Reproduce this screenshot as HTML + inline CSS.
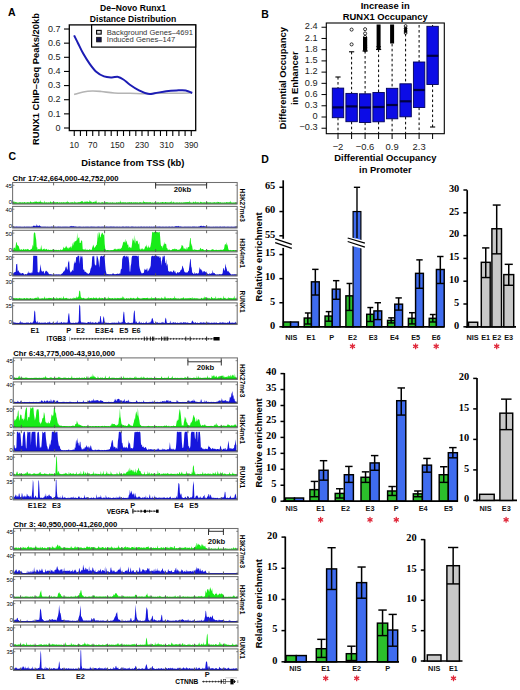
<!DOCTYPE html>
<html><head><meta charset="utf-8"><style>
html,body{margin:0;padding:0;background:#fff;}
svg{display:block;}

</style></head><body>
<svg width="520" height="690" viewBox="0 0 520 690">
<rect width="520" height="690" fill="#fff"/>
<text x="8.00" y="15.98" font-family="Liberation Sans" font-size="10.5" text-anchor="start" fill="#000" font-weight="bold">A</text>
<text x="261.30" y="17.68" font-family="Liberation Sans" font-size="10.5" text-anchor="start" fill="#000" font-weight="bold">B</text>
<text x="8.50" y="160.28" font-family="Liberation Sans" font-size="10.5" text-anchor="start" fill="#000" font-weight="bold">C</text>
<text x="261.30" y="162.58" font-family="Liberation Sans" font-size="10.5" text-anchor="start" fill="#000" font-weight="bold">D</text>
<text x="133.00" y="11.10" font-family="Liberation Sans" font-size="8.6" text-anchor="middle" fill="#000" font-weight="bold">De–Novo Runx1</text>
<text x="133.00" y="21.90" font-family="Liberation Sans" font-size="8.6" text-anchor="middle" fill="#000" font-weight="bold">Distance Distribution</text>
<path d="M74.10,94.60 C75.62,94.17 80.17,92.60 83.20,92.00 C86.23,91.40 89.28,91.08 92.30,91.00 C95.32,90.92 97.63,91.17 101.30,91.50 C104.97,91.83 109.53,92.70 114.30,93.00 C119.07,93.30 124.70,93.17 129.90,93.30 C135.10,93.43 140.73,93.80 145.50,93.80 C150.27,93.80 153.75,93.38 158.50,93.30 C163.25,93.22 168.38,93.35 174.00,93.30 C179.62,93.25 189.17,93.05 192.20,93.00" fill="none" stroke="#b4b4b4" stroke-width="1.6"/>
<path d="M74.10,35.40 C74.75,36.70 76.48,40.17 78.00,43.20 C79.52,46.23 81.25,50.15 83.20,53.60 C85.15,57.05 87.53,60.88 89.70,63.90 C91.87,66.92 93.82,69.62 96.20,71.70 C98.58,73.78 101.42,75.45 104.00,76.40 C106.58,77.35 109.33,77.32 111.70,77.40 C114.07,77.48 116.25,76.55 118.20,76.90 C120.15,77.25 121.45,78.20 123.40,79.50 C125.35,80.80 127.30,82.88 129.90,84.70 C132.50,86.52 135.97,88.88 139.00,90.40 C142.03,91.92 145.50,93.32 148.10,93.80 C150.70,94.28 151.58,93.73 154.60,93.30 C157.62,92.87 162.53,91.68 166.20,91.20 C169.87,90.72 173.35,90.53 176.60,90.40 C179.85,90.27 183.10,89.97 185.70,90.40 C188.30,90.83 191.12,92.57 192.20,93.00" fill="none" stroke="#1c1cb4" stroke-width="2"/>
<rect x="69.30" y="24.90" width="126.40" height="105.70" fill="none" stroke="#000" stroke-width="1.3"/>
<rect x="91.60" y="24.90" width="104.10" height="22.20" fill="#fff" stroke="#000" stroke-width="1.2"/>
<rect x="96.60" y="30.40" width="4.60" height="3.70" fill="#ddd" stroke="#000" stroke-width="1.1"/>
<rect x="96.60" y="37.30" width="4.60" height="4.60" fill="#15154a" stroke="#111" stroke-width="0.8"/>
<text x="106.80" y="35.14" font-family="Liberation Sans" font-size="7.6" text-anchor="start" fill="#333">Background Genes–4691</text>
<text x="106.80" y="42.24" font-family="Liberation Sans" font-size="7.6" text-anchor="start" fill="#333">Induced Genes–147</text>
<line x1="64.00" y1="128.00" x2="69.30" y2="128.00" stroke="#000" stroke-width="1.1"/>
<text x="60.60" y="130.64" font-family="Liberation Sans" font-size="9.0" text-anchor="end" fill="#222">0</text>
<line x1="64.00" y1="113.86" x2="69.30" y2="113.86" stroke="#000" stroke-width="1.1"/>
<text x="60.60" y="116.50" font-family="Liberation Sans" font-size="9.0" text-anchor="end" fill="#222">0.1</text>
<line x1="64.00" y1="99.72" x2="69.30" y2="99.72" stroke="#000" stroke-width="1.1"/>
<text x="60.60" y="102.36" font-family="Liberation Sans" font-size="9.0" text-anchor="end" fill="#222">0.2</text>
<line x1="64.00" y1="85.58" x2="69.30" y2="85.58" stroke="#000" stroke-width="1.1"/>
<text x="60.60" y="88.22" font-family="Liberation Sans" font-size="9.0" text-anchor="end" fill="#222">0.3</text>
<line x1="64.00" y1="71.44" x2="69.30" y2="71.44" stroke="#000" stroke-width="1.1"/>
<text x="60.60" y="74.08" font-family="Liberation Sans" font-size="9.0" text-anchor="end" fill="#222">0.4</text>
<line x1="64.00" y1="57.30" x2="69.30" y2="57.30" stroke="#000" stroke-width="1.1"/>
<text x="60.60" y="59.94" font-family="Liberation Sans" font-size="9.0" text-anchor="end" fill="#222">0.5</text>
<line x1="64.00" y1="43.16" x2="69.30" y2="43.16" stroke="#000" stroke-width="1.1"/>
<text x="60.60" y="45.80" font-family="Liberation Sans" font-size="9.0" text-anchor="end" fill="#222">0.6</text>
<line x1="64.00" y1="29.02" x2="69.30" y2="29.02" stroke="#000" stroke-width="1.1"/>
<text x="60.60" y="31.66" font-family="Liberation Sans" font-size="9.0" text-anchor="end" fill="#222">0.7</text>
<line x1="74.25" y1="130.60" x2="74.25" y2="136.00" stroke="#000" stroke-width="1.1"/>
<line x1="80.41" y1="130.60" x2="80.41" y2="136.00" stroke="#000" stroke-width="1.1"/>
<line x1="86.57" y1="130.60" x2="86.57" y2="136.00" stroke="#000" stroke-width="1.1"/>
<line x1="92.72" y1="130.60" x2="92.72" y2="136.00" stroke="#000" stroke-width="1.1"/>
<line x1="98.88" y1="130.60" x2="98.88" y2="136.00" stroke="#000" stroke-width="1.1"/>
<line x1="105.04" y1="130.60" x2="105.04" y2="136.00" stroke="#000" stroke-width="1.1"/>
<line x1="111.20" y1="130.60" x2="111.20" y2="136.00" stroke="#000" stroke-width="1.1"/>
<line x1="117.36" y1="130.60" x2="117.36" y2="136.00" stroke="#000" stroke-width="1.1"/>
<line x1="123.51" y1="130.60" x2="123.51" y2="136.00" stroke="#000" stroke-width="1.1"/>
<line x1="129.67" y1="130.60" x2="129.67" y2="136.00" stroke="#000" stroke-width="1.1"/>
<line x1="135.83" y1="130.60" x2="135.83" y2="136.00" stroke="#000" stroke-width="1.1"/>
<line x1="141.99" y1="130.60" x2="141.99" y2="136.00" stroke="#000" stroke-width="1.1"/>
<line x1="148.15" y1="130.60" x2="148.15" y2="136.00" stroke="#000" stroke-width="1.1"/>
<line x1="154.30" y1="130.60" x2="154.30" y2="136.00" stroke="#000" stroke-width="1.1"/>
<line x1="160.46" y1="130.60" x2="160.46" y2="136.00" stroke="#000" stroke-width="1.1"/>
<line x1="166.62" y1="130.60" x2="166.62" y2="136.00" stroke="#000" stroke-width="1.1"/>
<line x1="172.78" y1="130.60" x2="172.78" y2="136.00" stroke="#000" stroke-width="1.1"/>
<line x1="178.94" y1="130.60" x2="178.94" y2="136.00" stroke="#000" stroke-width="1.1"/>
<line x1="185.09" y1="130.60" x2="185.09" y2="136.00" stroke="#000" stroke-width="1.1"/>
<line x1="191.25" y1="130.60" x2="191.25" y2="136.00" stroke="#000" stroke-width="1.1"/>
<text x="74.25" y="148.26" font-family="Liberation Sans" font-size="8.5" text-anchor="middle" fill="#222">10</text>
<text x="92.72" y="148.26" font-family="Liberation Sans" font-size="8.5" text-anchor="middle" fill="#222">70</text>
<text x="117.36" y="148.26" font-family="Liberation Sans" font-size="8.5" text-anchor="middle" fill="#222">150</text>
<text x="141.99" y="148.26" font-family="Liberation Sans" font-size="8.5" text-anchor="middle" fill="#222">230</text>
<text x="166.62" y="148.26" font-family="Liberation Sans" font-size="8.5" text-anchor="middle" fill="#222">310</text>
<text x="191.25" y="148.26" font-family="Liberation Sans" font-size="8.5" text-anchor="middle" fill="#222">390</text>
<text x="132.90" y="165.78" font-family="Liberation Sans" font-size="9.4" text-anchor="middle" fill="#000" font-weight="bold">Distance from TSS (kb)</text>
<text x="39.38" y="79.00" font-family="Liberation Sans" font-size="9.4" text-anchor="middle" fill="#000" font-weight="bold" transform="rotate(-90 39.38 79.00)">RUNX1 ChIP–Seq Peaks/20kb</text>
<text x="385.20" y="9.28" font-family="Liberation Sans" font-size="9.4" text-anchor="middle" fill="#000" font-weight="bold">Increase in</text>
<text x="385.30" y="20.08" font-family="Liberation Sans" font-size="9.4" text-anchor="middle" fill="#000" font-weight="bold">RUNX1 Occupancy</text>
<text x="285.68" y="78.20" font-family="Liberation Sans" font-size="9.4" text-anchor="middle" fill="#000" font-weight="bold" transform="rotate(-90 285.68 78.20)">Differential Occupancy</text>
<text x="297.98" y="78.20" font-family="Liberation Sans" font-size="9.4" text-anchor="middle" fill="#000" font-weight="bold" transform="rotate(-90 297.98 78.20)">in Enhancer</text>
<text x="385.40" y="161.18" font-family="Liberation Sans" font-size="9.4" text-anchor="middle" fill="#000" font-weight="bold">Differential Occupancy</text>
<text x="385.40" y="172.58" font-family="Liberation Sans" font-size="9.4" text-anchor="middle" fill="#000" font-weight="bold">in Promoter</text>
<line x1="321.50" y1="27.24" x2="326.50" y2="27.24" stroke="#000" stroke-width="1"/>
<text x="317.60" y="29.45" font-family="Liberation Sans" font-size="9.2" text-anchor="end" fill="#222">2.4</text>
<line x1="321.50" y1="38.46" x2="326.50" y2="38.46" stroke="#000" stroke-width="1"/>
<text x="317.60" y="40.67" font-family="Liberation Sans" font-size="9.2" text-anchor="end" fill="#222">2.1</text>
<line x1="321.50" y1="49.68" x2="326.50" y2="49.68" stroke="#000" stroke-width="1"/>
<text x="317.60" y="51.89" font-family="Liberation Sans" font-size="9.2" text-anchor="end" fill="#222">1.8</text>
<line x1="321.50" y1="60.90" x2="326.50" y2="60.90" stroke="#000" stroke-width="1"/>
<text x="317.60" y="63.11" font-family="Liberation Sans" font-size="9.2" text-anchor="end" fill="#222">1.5</text>
<line x1="321.50" y1="72.12" x2="326.50" y2="72.12" stroke="#000" stroke-width="1"/>
<text x="317.60" y="74.33" font-family="Liberation Sans" font-size="9.2" text-anchor="end" fill="#222">1.2</text>
<line x1="321.50" y1="83.34" x2="326.50" y2="83.34" stroke="#000" stroke-width="1"/>
<text x="317.60" y="85.55" font-family="Liberation Sans" font-size="9.2" text-anchor="end" fill="#222">0.9</text>
<line x1="321.50" y1="94.56" x2="326.50" y2="94.56" stroke="#000" stroke-width="1"/>
<text x="317.60" y="96.77" font-family="Liberation Sans" font-size="9.2" text-anchor="end" fill="#222">0.6</text>
<line x1="321.50" y1="105.78" x2="326.50" y2="105.78" stroke="#000" stroke-width="1"/>
<text x="317.60" y="107.99" font-family="Liberation Sans" font-size="9.2" text-anchor="end" fill="#222">0.3</text>
<line x1="321.50" y1="117.00" x2="326.50" y2="117.00" stroke="#000" stroke-width="1"/>
<text x="317.60" y="119.21" font-family="Liberation Sans" font-size="9.2" text-anchor="end" fill="#222">0</text>
<line x1="321.50" y1="128.22" x2="326.50" y2="128.22" stroke="#000" stroke-width="1"/>
<text x="317.60" y="130.43" font-family="Liberation Sans" font-size="9.2" text-anchor="end" fill="#222">−0.3</text>
<defs><clipPath id="bclip"><rect x="326.3" y="23" width="118" height="110.7"/></clipPath></defs>
<g clip-path="url(#bclip)">
<line x1="338.00" y1="77.00" x2="338.00" y2="88.10" stroke="#000" stroke-width="1.0" stroke-dasharray="2.6,2.4"/>
<line x1="338.00" y1="117.70" x2="338.00" y2="140.00" stroke="#000" stroke-width="1.0" stroke-dasharray="2.6,2.4"/>
<line x1="351.60" y1="51.80" x2="351.60" y2="93.40" stroke="#000" stroke-width="1.0" stroke-dasharray="2.6,2.4"/>
<line x1="351.60" y1="121.70" x2="351.60" y2="140.00" stroke="#000" stroke-width="1.0" stroke-dasharray="2.6,2.4"/>
<line x1="365.10" y1="51.00" x2="365.10" y2="93.80" stroke="#000" stroke-width="1.0" stroke-dasharray="2.6,2.4"/>
<line x1="365.10" y1="122.50" x2="365.10" y2="140.00" stroke="#000" stroke-width="1.0" stroke-dasharray="2.6,2.4"/>
<line x1="378.60" y1="49.50" x2="378.60" y2="92.50" stroke="#000" stroke-width="1.0" stroke-dasharray="2.6,2.4"/>
<line x1="378.60" y1="121.80" x2="378.60" y2="140.00" stroke="#000" stroke-width="1.0" stroke-dasharray="2.6,2.4"/>
<line x1="392.10" y1="43.80" x2="392.10" y2="88.30" stroke="#000" stroke-width="1.0" stroke-dasharray="2.6,2.4"/>
<line x1="392.10" y1="118.80" x2="392.10" y2="140.00" stroke="#000" stroke-width="1.0" stroke-dasharray="2.6,2.4"/>
<line x1="405.60" y1="33.80" x2="405.60" y2="83.80" stroke="#000" stroke-width="1.0" stroke-dasharray="2.6,2.4"/>
<line x1="405.60" y1="116.80" x2="405.60" y2="140.00" stroke="#000" stroke-width="1.0" stroke-dasharray="2.6,2.4"/>
<line x1="419.10" y1="20.00" x2="419.10" y2="62.00" stroke="#000" stroke-width="1.0" stroke-dasharray="2.6,2.4"/>
<line x1="419.10" y1="107.50" x2="419.10" y2="140.00" stroke="#000" stroke-width="1.0" stroke-dasharray="2.6,2.4"/>
<line x1="432.60" y1="20.00" x2="432.60" y2="26.30" stroke="#000" stroke-width="1.0" stroke-dasharray="2.6,2.4"/>
<line x1="432.60" y1="84.50" x2="432.60" y2="127.00" stroke="#000" stroke-width="1.0" stroke-dasharray="2.6,2.4"/>
</g>
<line x1="335.40" y1="77.00" x2="340.60" y2="77.00" stroke="#000" stroke-width="1.1"/>
<line x1="349.00" y1="51.80" x2="354.20" y2="51.80" stroke="#000" stroke-width="1.1"/>
<line x1="362.50" y1="51.00" x2="367.70" y2="51.00" stroke="#000" stroke-width="1.1"/>
<line x1="376.00" y1="49.50" x2="381.20" y2="49.50" stroke="#000" stroke-width="1.1"/>
<line x1="430.00" y1="127.00" x2="435.20" y2="127.00" stroke="#000" stroke-width="1.1"/>
<circle cx="351.60" cy="29.60" r="1.55" fill="none" stroke="#000" stroke-width="0.8"/>
<circle cx="351.60" cy="44.40" r="1.55" fill="none" stroke="#000" stroke-width="0.8"/>
<circle cx="365.10" cy="29.20" r="1.55" fill="none" stroke="#000" stroke-width="0.8"/>
<circle cx="365.10" cy="33.50" r="1.55" fill="none" stroke="#000" stroke-width="0.8"/>
<circle cx="365.10" cy="37.00" r="1.55" fill="none" stroke="#000" stroke-width="0.8"/>
<circle cx="365.10" cy="39.80" r="1.55" fill="none" stroke="#000" stroke-width="0.8"/>
<circle cx="365.10" cy="42.00" r="1.55" fill="none" stroke="#000" stroke-width="0.8"/>
<circle cx="365.10" cy="44.00" r="1.55" fill="none" stroke="#000" stroke-width="0.8"/>
<circle cx="365.10" cy="45.80" r="1.55" fill="none" stroke="#000" stroke-width="0.8"/>
<circle cx="365.10" cy="47.50" r="1.55" fill="none" stroke="#000" stroke-width="0.8"/>
<circle cx="365.10" cy="49.00" r="1.55" fill="none" stroke="#000" stroke-width="0.8"/>
<circle cx="365.10" cy="50.30" r="1.55" fill="none" stroke="#000" stroke-width="0.8"/>
<rect x="363.0" y="37" width="4.2" height="13.5" fill="#000"/>
<rect x="376.6" y="24.5" width="4.0" height="24.5" fill="#000"/>
<path d="M376.2,46 L381,46 L378.6,50.5 Z" fill="#000"/>
<rect x="390.1" y="24.5" width="4.0" height="19" fill="#000"/>
<circle cx="405.60" cy="26.00" r="1.4" fill="none" stroke="#000" stroke-width="0.8"/>
<circle cx="405.60" cy="28.50" r="1.4" fill="none" stroke="#000" stroke-width="0.8"/>
<circle cx="405.60" cy="31.00" r="1.4" fill="none" stroke="#000" stroke-width="0.8"/>
<circle cx="405.60" cy="33.00" r="1.4" fill="none" stroke="#000" stroke-width="0.8"/>
<rect x="404.2" y="27.5" width="2.8" height="5" fill="#000"/>
<rect x="332.30" y="88.10" width="11.40" height="29.60" fill="#0c0ce6" stroke="#00005a" stroke-width="0.9"/>
<line x1="332.30" y1="107.40" x2="343.70" y2="107.40" stroke="#000044" stroke-width="2.2"/>
<rect x="345.90" y="93.40" width="11.40" height="28.30" fill="#0c0ce6" stroke="#00005a" stroke-width="0.9"/>
<line x1="345.90" y1="106.40" x2="357.30" y2="106.40" stroke="#000044" stroke-width="2.2"/>
<rect x="359.40" y="93.80" width="11.40" height="28.70" fill="#0c0ce6" stroke="#00005a" stroke-width="0.9"/>
<line x1="359.40" y1="107.50" x2="370.80" y2="107.50" stroke="#000044" stroke-width="2.2"/>
<rect x="372.90" y="92.50" width="11.40" height="29.30" fill="#0c0ce6" stroke="#00005a" stroke-width="0.9"/>
<line x1="372.90" y1="107.00" x2="384.30" y2="107.00" stroke="#000044" stroke-width="2.2"/>
<rect x="386.40" y="88.30" width="11.40" height="30.50" fill="#0c0ce6" stroke="#00005a" stroke-width="0.9"/>
<line x1="386.40" y1="105.00" x2="397.80" y2="105.00" stroke="#000044" stroke-width="2.2"/>
<rect x="399.90" y="83.80" width="11.40" height="33.00" fill="#0c0ce6" stroke="#00005a" stroke-width="0.9"/>
<line x1="399.90" y1="101.30" x2="411.30" y2="101.30" stroke="#000044" stroke-width="2.2"/>
<rect x="413.40" y="62.00" width="11.40" height="45.50" fill="#0c0ce6" stroke="#00005a" stroke-width="0.9"/>
<line x1="413.40" y1="90.00" x2="424.80" y2="90.00" stroke="#000044" stroke-width="2.2"/>
<rect x="426.90" y="26.30" width="11.40" height="58.20" fill="#0c0ce6" stroke="#00005a" stroke-width="0.9"/>
<line x1="426.90" y1="55.80" x2="438.30" y2="55.80" stroke="#000044" stroke-width="2.2"/>
<rect x="326.30" y="23.00" width="118.00" height="110.70" fill="none" stroke="#000" stroke-width="1.1"/>
<line x1="338.00" y1="133.70" x2="338.00" y2="139.00" stroke="#000" stroke-width="1"/>
<line x1="351.60" y1="133.70" x2="351.60" y2="139.00" stroke="#000" stroke-width="1"/>
<line x1="365.10" y1="133.70" x2="365.10" y2="139.00" stroke="#000" stroke-width="1"/>
<line x1="378.60" y1="133.70" x2="378.60" y2="139.00" stroke="#000" stroke-width="1"/>
<line x1="392.10" y1="133.70" x2="392.10" y2="139.00" stroke="#000" stroke-width="1"/>
<line x1="405.60" y1="133.70" x2="405.60" y2="139.00" stroke="#000" stroke-width="1"/>
<line x1="419.10" y1="133.70" x2="419.10" y2="139.00" stroke="#000" stroke-width="1"/>
<line x1="432.60" y1="133.70" x2="432.60" y2="139.00" stroke="#000" stroke-width="1"/>
<text x="338.00" y="149.68" font-family="Liberation Sans" font-size="9.4" text-anchor="middle" fill="#222">−2</text>
<text x="365.10" y="149.68" font-family="Liberation Sans" font-size="9.4" text-anchor="middle" fill="#222">−0.6</text>
<text x="392.10" y="149.68" font-family="Liberation Sans" font-size="9.4" text-anchor="middle" fill="#222">0.9</text>
<text x="419.10" y="149.68" font-family="Liberation Sans" font-size="9.4" text-anchor="middle" fill="#222">2.3</text>
<text x="12.60" y="180.80" font-family="Liberation Sans" font-size="7.7" text-anchor="start" fill="#000" font-weight="bold">Chr 17:42,664,000-42,752,000</text>
<path d="M13.2,203.3 L13.2,202.6 L13.7,201.0 L14.2,201.3 L14.7,202.9 L15.2,201.8 L15.7,202.2 L16.2,202.7 L16.7,202.1 L17.2,202.6 L17.7,202.9 L18.2,202.7 L18.7,202.8 L19.2,202.2 L19.7,202.4 L20.2,202.6 L20.7,202.3 L21.2,202.4 L21.7,202.7 L22.2,202.5 L22.7,202.3 L23.2,202.7 L23.7,202.5 L24.2,202.3 L24.7,202.1 L25.2,202.6 L25.7,202.8 L26.2,202.9 L26.7,202.3 L27.2,202.2 L27.7,202.3 L28.2,202.4 L28.7,202.2 L29.2,202.4 L29.7,202.7 L30.2,201.8 L30.7,201.3 L31.2,201.9 L31.7,202.5 L32.2,202.2 L32.7,202.4 L33.2,202.3 L33.7,201.9 L34.2,202.4 L34.7,201.6 L35.2,201.2 L35.7,202.1 L36.2,201.9 L36.7,200.9 L37.2,202.2 L37.7,202.1 L38.2,201.6 L38.7,202.5 L39.2,202.0 L39.7,201.4 L40.2,202.2 L40.7,200.0 L41.2,202.2 L41.7,202.2 L42.2,202.6 L42.7,202.2 L43.2,202.7 L43.7,202.6 L44.2,202.8 L44.7,200.4 L45.2,202.4 L45.7,202.7 L46.2,202.6 L46.7,202.2 L47.2,202.5 L47.7,202.8 L48.2,202.6 L48.7,202.2 L49.2,202.9 L49.7,202.5 L50.2,201.1 L50.7,202.1 L51.2,202.3 L51.7,202.6 L52.2,202.3 L52.7,202.3 L53.2,202.7 L53.7,202.1 L54.2,202.2 L54.7,202.3 L55.2,202.5 L55.7,202.2 L56.2,202.7 L56.7,202.1 L57.2,202.1 L57.7,202.1 L58.2,202.7 L58.7,202.7 L59.2,202.4 L59.7,202.2 L60.2,202.4 L60.7,202.8 L61.2,202.2 L61.7,202.3 L62.2,202.8 L62.7,202.6 L63.2,202.1 L63.7,202.6 L64.2,202.3 L64.7,202.8 L65.2,202.2 L65.7,202.8 L66.2,202.1 L66.7,202.6 L67.2,200.4 L67.7,202.4 L68.2,202.1 L68.7,202.2 L69.2,202.7 L69.7,202.7 L70.2,202.4 L70.7,202.6 L71.2,202.2 L71.7,202.5 L72.2,202.2 L72.7,202.2 L73.2,202.5 L73.7,202.9 L74.2,200.7 L74.7,202.8 L75.2,202.3 L75.7,202.6 L76.2,202.5 L76.7,202.8 L77.2,202.7 L77.7,202.3 L78.2,202.4 L78.7,202.1 L79.2,202.3 L79.7,202.2 L80.2,202.1 L80.7,201.8 L81.2,201.4 L81.7,201.0 L82.2,201.6 L82.7,201.1 L83.2,202.3 L83.7,202.4 L84.2,202.4 L84.7,201.2 L85.2,202.3 L85.7,201.4 L86.2,201.1 L86.7,202.2 L87.2,201.9 L87.7,200.9 L88.2,202.3 L88.7,201.7 L89.2,202.2 L89.7,199.9 L90.2,201.0 L90.7,201.5 L91.2,202.4 L91.7,201.2 L92.2,202.4 L92.7,202.5 L93.2,202.1 L93.7,201.9 L94.2,201.3 L94.7,202.5 L95.2,202.1 L95.7,201.0 L96.2,200.2 L96.7,202.4 L97.2,202.8 L97.7,202.9 L98.2,202.5 L98.7,202.5 L99.2,202.7 L99.7,202.5 L100.2,202.8 L100.7,202.9 L101.2,202.7 L101.7,202.3 L102.2,202.5 L102.7,202.0 L103.2,202.9 L103.7,202.5 L104.2,202.5 L104.7,202.8 L105.2,202.6 L105.7,202.2 L106.2,202.5 L106.7,202.1 L107.2,202.2 L107.7,202.4 L108.2,202.3 L108.7,202.9 L109.2,202.7 L109.7,202.8 L110.2,202.2 L110.7,202.7 L111.2,202.7 L111.7,202.8 L112.2,202.7 L112.7,202.1 L113.2,202.7 L113.7,202.7 L114.2,202.9 L114.7,202.5 L115.2,202.7 L115.7,202.9 L116.2,202.8 L116.7,202.1 L117.2,202.7 L117.7,202.5 L118.2,202.4 L118.7,202.2 L119.2,202.6 L119.7,202.8 L120.2,200.3 L120.7,202.2 L121.2,202.3 L121.7,202.8 L122.2,202.5 L122.7,202.2 L123.2,202.4 L123.7,202.3 L124.2,202.4 L124.7,202.6 L125.2,202.2 L125.7,202.4 L126.2,202.4 L126.7,202.9 L127.2,202.3 L127.7,202.5 L128.2,202.9 L128.7,202.0 L129.2,202.3 L129.7,202.3 L130.2,202.5 L130.7,202.5 L131.2,202.3 L131.7,202.0 L132.2,202.7 L132.7,202.7 L133.2,202.2 L133.7,202.4 L134.2,202.4 L134.7,202.5 L135.2,202.5 L135.7,202.2 L136.2,202.1 L136.7,202.9 L137.2,202.2 L137.7,202.5 L138.2,202.7 L138.7,202.7 L139.2,202.8 L139.7,202.1 L140.2,202.2 L140.7,202.2 L141.2,202.7 L141.7,202.5 L142.2,202.5 L142.7,202.7 L143.2,202.6 L143.7,200.3 L144.2,202.2 L144.7,202.1 L145.2,202.2 L145.7,202.6 L146.2,202.1 L146.7,202.6 L147.2,202.4 L147.7,202.2 L148.2,202.1 L148.7,202.7 L149.2,202.8 L149.7,202.1 L150.2,202.2 L150.7,202.2 L151.2,202.5 L151.7,202.9 L152.2,202.5 L152.7,202.4 L153.2,202.9 L153.7,202.8 L154.2,202.6 L154.7,202.3 L155.2,202.7 L155.7,202.7 L156.2,202.6 L156.7,202.8 L157.2,202.2 L157.7,202.7 L158.2,202.1 L158.7,202.8 L159.2,202.8 L159.7,202.8 L160.2,202.7 L160.7,202.2 L161.2,202.6 L161.7,202.5 L162.2,201.9 L162.7,202.1 L163.2,202.5 L163.7,202.2 L164.2,202.7 L164.7,202.6 L165.2,202.1 L165.7,202.1 L166.2,202.3 L166.7,202.5 L167.2,202.9 L167.7,202.1 L168.2,202.2 L168.7,202.7 L169.2,202.8 L169.7,202.3 L170.2,202.3 L170.7,202.3 L171.2,200.5 L171.7,202.7 L172.2,202.4 L172.7,202.8 L173.2,202.4 L173.7,201.5 L174.2,202.4 L174.7,202.7 L175.2,202.9 L175.7,202.5 L176.2,202.4 L176.7,202.5 L177.2,202.7 L177.7,202.3 L178.2,202.9 L178.7,202.4 L179.2,202.7 L179.7,202.1 L180.2,202.9 L180.7,202.6 L181.2,202.7 L181.7,202.3 L182.2,202.7 L182.7,202.7 L183.2,202.7 L183.7,202.3 L184.2,202.1 L184.7,202.8 L185.2,202.6 L185.7,202.1 L186.2,202.6 L186.7,202.1 L187.2,201.9 L187.7,202.2 L188.2,202.3 L188.7,202.1 L189.2,202.8 L189.7,200.6 L190.2,202.6 L190.7,202.6 L191.2,202.9 L191.7,202.6 L192.2,202.8 L192.7,202.7 L193.2,202.2 L193.7,201.4 L194.2,202.6 L194.7,202.8 L195.2,201.1 L195.7,202.2 L196.2,202.7 L196.7,202.2 L197.2,202.3 L197.7,202.6 L198.2,202.1 L198.7,202.7 L199.2,202.7 L199.7,202.9 L200.2,202.2 L200.7,201.5 L201.2,202.5 L201.7,202.1 L202.2,202.7 L202.7,202.5 L203.2,202.8 L203.7,202.3 L204.2,202.3 L204.7,202.6 L205.2,202.6 L205.7,202.8 L206.2,202.3 L206.7,201.5 L207.2,202.6 L207.7,202.2 L208.2,202.5 L208.7,202.5 L209.2,202.5 L209.7,202.6 L210.2,202.4 L210.7,202.2 L211.2,202.8 L211.7,202.7 L212.2,202.6 L212.7,202.7 L213.2,202.7 L213.7,202.2 L214.2,202.6 L214.7,202.1 L215.2,202.7 L215.7,202.4 L216.2,202.8 L216.7,202.2 L217.2,201.4 L217.7,202.8 L218.2,202.1 L218.7,202.1 L219.2,202.2 L219.7,202.7 L220.2,202.1 L220.7,202.4 L221.2,202.7 L221.7,202.8 L222.2,202.7 L222.7,202.4 L223.2,202.9 L223.7,202.4 L224.2,202.7 L224.7,202.3 L225.2,202.9 L225.7,202.6 L226.2,202.0 L226.7,202.3 L227.2,202.7 L227.7,202.1 L228.2,202.4 L228.7,202.6 L229.2,202.1 L229.7,202.7 L230.2,200.5 L230.7,202.6 L231.2,202.6 L231.7,202.5 L232.2,202.9 L232.7,202.4 L233.2,202.8 L233.7,202.6 L234.2,202.8 L234.7,202.5 L235.2,202.8 L235.7,202.2 L236.2,202.7 L236.2,203.3 Z" fill="#18ec18" stroke="none"/>
<line x1="12.60" y1="203.30" x2="237.20" y2="203.30" stroke="#0a9a0a" stroke-width="1.0"/>
<rect x="12.60" y="182.50" width="224.60" height="21.60" fill="none" stroke="#707070" stroke-width="1.05"/>
<line x1="53.60" y1="182.50" x2="53.60" y2="185.40" stroke="#555" stroke-width="0.9"/>
<line x1="53.60" y1="204.10" x2="53.60" y2="201.20" stroke="#555" stroke-width="0.9"/>
<line x1="104.60" y1="182.50" x2="104.60" y2="185.40" stroke="#555" stroke-width="0.9"/>
<line x1="104.60" y1="204.10" x2="104.60" y2="201.20" stroke="#555" stroke-width="0.9"/>
<line x1="155.60" y1="182.50" x2="155.60" y2="185.40" stroke="#555" stroke-width="0.9"/>
<line x1="155.60" y1="204.10" x2="155.60" y2="201.20" stroke="#555" stroke-width="0.9"/>
<line x1="206.60" y1="182.50" x2="206.60" y2="185.40" stroke="#555" stroke-width="0.9"/>
<line x1="206.60" y1="204.10" x2="206.60" y2="201.20" stroke="#555" stroke-width="0.9"/>
<line x1="12.60" y1="185.30" x2="14.40" y2="185.30" stroke="#555" stroke-width="0.7"/>
<line x1="235.40" y1="185.30" x2="237.20" y2="185.30" stroke="#555" stroke-width="0.7"/>
<line x1="12.60" y1="202.80" x2="14.40" y2="202.80" stroke="#555" stroke-width="0.7"/>
<line x1="235.40" y1="202.80" x2="237.20" y2="202.80" stroke="#555" stroke-width="0.7"/>
<text x="12.00" y="188.09" font-family="Liberation Sans" font-size="5.8" text-anchor="end" fill="#000">45</text>
<text x="12.00" y="204.09" font-family="Liberation Sans" font-size="5.8" text-anchor="end" fill="#000">0</text>
<path d="M13.2,227.2 L13.2,226.7 L13.7,226.7 L14.2,226.9 L14.7,227.0 L15.2,226.7 L15.7,226.9 L16.2,226.7 L16.7,226.8 L17.2,226.8 L17.7,227.0 L18.2,226.8 L18.7,227.0 L19.2,226.9 L19.7,226.8 L20.2,226.8 L20.7,227.0 L21.2,227.0 L21.7,226.9 L22.2,226.9 L22.7,226.9 L23.2,227.0 L23.7,227.0 L24.2,226.8 L24.7,226.7 L25.2,227.0 L25.7,226.9 L26.2,226.8 L26.7,227.0 L27.2,226.8 L27.7,227.0 L28.2,226.8 L28.7,226.9 L29.2,226.8 L29.7,226.9 L30.2,226.9 L30.7,226.9 L31.2,226.9 L31.7,226.8 L32.2,226.7 L32.7,226.8 L33.2,226.1 L33.7,225.4 L34.2,225.7 L34.7,225.7 L35.2,226.2 L35.7,226.3 L36.2,224.0 L36.7,226.3 L37.2,225.1 L37.7,226.3 L38.2,225.8 L38.7,226.2 L39.2,225.0 L39.7,225.7 L40.2,226.0 L40.7,226.5 L41.2,227.0 L41.7,226.8 L42.2,226.7 L42.7,227.0 L43.2,226.9 L43.7,226.8 L44.2,227.0 L44.7,226.7 L45.2,227.0 L45.7,226.8 L46.2,227.0 L46.7,226.9 L47.2,226.7 L47.7,227.0 L48.2,227.0 L48.7,226.9 L49.2,226.9 L49.7,227.0 L50.2,227.0 L50.7,227.0 L51.2,226.7 L51.7,226.8 L52.2,226.7 L52.7,227.0 L53.2,226.8 L53.7,227.0 L54.2,226.9 L54.7,226.8 L55.2,226.9 L55.7,226.8 L56.2,226.9 L56.7,226.9 L57.2,226.8 L57.7,227.0 L58.2,226.7 L58.7,226.8 L59.2,226.9 L59.7,226.8 L60.2,227.0 L60.7,226.7 L61.2,226.9 L61.7,226.9 L62.2,226.8 L62.7,226.9 L63.2,227.0 L63.7,226.8 L64.2,227.0 L64.7,226.8 L65.2,227.0 L65.7,226.8 L66.2,226.7 L66.7,226.9 L67.2,226.8 L67.7,226.9 L68.2,227.0 L68.7,227.0 L69.2,226.9 L69.7,226.7 L70.2,226.2 L70.7,226.6 L71.2,225.8 L71.7,226.6 L72.2,226.5 L72.7,226.2 L73.2,226.1 L73.7,226.6 L74.2,226.6 L74.7,226.8 L75.2,226.4 L75.7,226.8 L76.2,227.0 L76.7,226.8 L77.2,226.9 L77.7,226.9 L78.2,226.8 L78.7,226.9 L79.2,226.7 L79.7,226.8 L80.2,227.0 L80.7,226.7 L81.2,227.0 L81.7,226.9 L82.2,226.9 L82.7,227.0 L83.2,227.0 L83.7,226.8 L84.2,227.0 L84.7,226.9 L85.2,226.7 L85.7,227.0 L86.2,227.0 L86.7,226.8 L87.2,226.9 L87.7,226.8 L88.2,226.8 L88.7,227.0 L89.2,226.9 L89.7,226.9 L90.2,227.0 L90.7,226.8 L91.2,226.8 L91.7,226.8 L92.2,227.0 L92.7,226.8 L93.2,226.8 L93.7,226.9 L94.2,226.8 L94.7,226.9 L95.2,227.0 L95.7,227.0 L96.2,227.0 L96.7,227.0 L97.2,226.9 L97.7,226.8 L98.2,226.8 L98.7,226.8 L99.2,226.8 L99.7,227.0 L100.2,226.9 L100.7,226.9 L101.2,226.8 L101.7,226.9 L102.2,227.0 L102.7,226.8 L103.2,226.7 L103.7,227.0 L104.2,226.8 L104.7,227.0 L105.2,227.0 L105.7,227.0 L106.2,226.8 L106.7,226.7 L107.2,226.8 L107.7,226.9 L108.2,226.8 L108.7,226.9 L109.2,227.0 L109.7,226.7 L110.2,226.8 L110.7,226.8 L111.2,226.8 L111.7,226.7 L112.2,226.9 L112.7,226.8 L113.2,226.8 L113.7,226.8 L114.2,226.9 L114.7,226.8 L115.2,226.9 L115.7,226.9 L116.2,227.0 L116.7,226.8 L117.2,227.0 L117.7,226.7 L118.2,227.0 L118.7,227.0 L119.2,227.0 L119.7,226.7 L120.2,226.9 L120.7,227.0 L121.2,227.0 L121.7,227.0 L122.2,226.8 L122.7,226.8 L123.2,226.8 L123.7,226.8 L124.2,227.0 L124.7,226.9 L125.2,226.9 L125.7,226.8 L126.2,226.8 L126.7,226.8 L127.2,227.0 L127.7,226.8 L128.2,226.7 L128.7,226.7 L129.2,227.0 L129.7,227.0 L130.2,227.0 L130.7,227.0 L131.2,226.8 L131.7,226.8 L132.2,226.8 L132.7,226.8 L133.2,226.8 L133.7,227.0 L134.2,227.0 L134.7,227.0 L135.2,226.8 L135.7,227.0 L136.2,226.9 L136.7,226.9 L137.2,227.0 L137.7,227.0 L138.2,227.0 L138.7,226.8 L139.2,226.9 L139.7,226.9 L140.2,226.7 L140.7,226.9 L141.2,226.8 L141.7,226.8 L142.2,227.0 L142.7,226.9 L143.2,226.9 L143.7,226.8 L144.2,226.9 L144.7,226.8 L145.2,226.9 L145.7,227.0 L146.2,226.8 L146.7,227.0 L147.2,226.8 L147.7,227.0 L148.2,227.0 L148.7,227.0 L149.2,226.8 L149.7,226.7 L150.2,227.0 L150.7,226.9 L151.2,226.9 L151.7,226.8 L152.2,227.0 L152.7,226.9 L153.2,226.9 L153.7,226.8 L154.2,227.0 L154.7,226.7 L155.2,227.0 L155.7,227.0 L156.2,226.8 L156.7,226.9 L157.2,227.0 L157.7,226.8 L158.2,227.0 L158.7,226.8 L159.2,226.8 L159.7,226.8 L160.2,226.8 L160.7,226.9 L161.2,226.9 L161.7,226.9 L162.2,226.8 L162.7,227.0 L163.2,226.8 L163.7,227.0 L164.2,227.0 L164.7,227.0 L165.2,226.7 L165.7,226.9 L166.2,226.9 L166.7,226.8 L167.2,227.0 L167.7,226.9 L168.2,226.9 L168.7,226.8 L169.2,226.8 L169.7,226.8 L170.2,226.9 L170.7,226.9 L171.2,227.0 L171.7,226.8 L172.2,226.8 L172.7,226.8 L173.2,227.0 L173.7,226.9 L174.2,226.7 L174.7,226.9 L175.2,226.2 L175.7,226.6 L176.2,226.1 L176.7,226.6 L177.2,226.5 L177.7,226.2 L178.2,226.4 L178.7,225.8 L179.2,226.7 L179.7,226.8 L180.2,226.4 L180.7,226.7 L181.2,227.0 L181.7,226.8 L182.2,227.0 L182.7,227.0 L183.2,226.9 L183.7,227.0 L184.2,226.9 L184.7,226.8 L185.2,226.8 L185.7,226.9 L186.2,226.8 L186.7,226.9 L187.2,227.0 L187.7,226.8 L188.2,226.9 L188.7,226.8 L189.2,226.7 L189.7,226.9 L190.2,226.9 L190.7,226.8 L191.2,226.9 L191.7,227.0 L192.2,226.8 L192.7,226.8 L193.2,226.8 L193.7,226.8 L194.2,226.8 L194.7,226.8 L195.2,226.8 L195.7,226.9 L196.2,226.9 L196.7,226.8 L197.2,227.0 L197.7,226.9 L198.2,226.8 L198.7,226.8 L199.2,226.7 L199.7,226.6 L200.2,226.1 L200.7,225.8 L201.2,226.4 L201.7,225.6 L202.2,225.9 L202.7,226.5 L203.2,226.4 L203.7,225.4 L204.2,226.5 L204.7,226.2 L205.2,226.5 L205.7,226.6 L206.2,226.9 L206.7,226.7 L207.2,227.0 L207.7,226.8 L208.2,226.9 L208.7,226.8 L209.2,227.0 L209.7,226.7 L210.2,226.9 L210.7,227.0 L211.2,227.0 L211.7,226.9 L212.2,227.0 L212.7,226.9 L213.2,226.9 L213.7,226.8 L214.2,226.9 L214.7,227.0 L215.2,227.0 L215.7,226.8 L216.2,226.7 L216.7,226.9 L217.2,227.0 L217.7,226.8 L218.2,226.9 L218.7,227.0 L219.2,227.0 L219.7,226.8 L220.2,226.8 L220.7,226.8 L221.2,226.9 L221.7,226.9 L222.2,227.0 L222.7,226.7 L223.2,226.9 L223.7,226.8 L224.2,226.8 L224.7,226.8 L225.2,226.9 L225.7,226.9 L226.2,226.9 L226.7,227.0 L227.2,226.8 L227.7,226.9 L228.2,226.8 L228.7,227.0 L229.2,226.9 L229.7,227.0 L230.2,226.9 L230.7,227.0 L231.2,227.0 L231.7,226.8 L232.2,227.0 L232.7,227.0 L233.2,226.9 L233.7,226.9 L234.2,226.9 L234.7,226.8 L235.2,226.8 L235.7,226.9 L236.2,226.7 L236.2,227.2 Z" fill="#1616dc" stroke="none"/>
<line x1="12.60" y1="227.20" x2="237.20" y2="227.20" stroke="#0a0a90" stroke-width="1.0"/>
<rect x="12.60" y="206.40" width="224.60" height="21.60" fill="none" stroke="#707070" stroke-width="1.05"/>
<line x1="53.60" y1="206.40" x2="53.60" y2="209.30" stroke="#555" stroke-width="0.9"/>
<line x1="53.60" y1="228.00" x2="53.60" y2="225.10" stroke="#555" stroke-width="0.9"/>
<line x1="104.60" y1="206.40" x2="104.60" y2="209.30" stroke="#555" stroke-width="0.9"/>
<line x1="104.60" y1="228.00" x2="104.60" y2="225.10" stroke="#555" stroke-width="0.9"/>
<line x1="155.60" y1="206.40" x2="155.60" y2="209.30" stroke="#555" stroke-width="0.9"/>
<line x1="155.60" y1="228.00" x2="155.60" y2="225.10" stroke="#555" stroke-width="0.9"/>
<line x1="206.60" y1="206.40" x2="206.60" y2="209.30" stroke="#555" stroke-width="0.9"/>
<line x1="206.60" y1="228.00" x2="206.60" y2="225.10" stroke="#555" stroke-width="0.9"/>
<line x1="12.60" y1="209.20" x2="14.40" y2="209.20" stroke="#555" stroke-width="0.7"/>
<line x1="235.40" y1="209.20" x2="237.20" y2="209.20" stroke="#555" stroke-width="0.7"/>
<line x1="12.60" y1="226.70" x2="14.40" y2="226.70" stroke="#555" stroke-width="0.7"/>
<line x1="235.40" y1="226.70" x2="237.20" y2="226.70" stroke="#555" stroke-width="0.7"/>
<text x="12.00" y="211.99" font-family="Liberation Sans" font-size="5.8" text-anchor="end" fill="#000">40</text>
<text x="12.00" y="227.99" font-family="Liberation Sans" font-size="5.8" text-anchor="end" fill="#000">0</text>
<path d="M13.2,251.1 L13.2,249.3 L13.7,247.7 L14.2,247.8 L14.7,247.6 L15.2,249.1 L15.7,245.8 L16.2,242.4 L16.7,242.1 L17.2,245.3 L17.7,245.1 L18.2,246.4 L18.7,245.6 L19.2,248.1 L19.7,249.6 L20.2,249.3 L20.7,249.9 L21.2,249.4 L21.7,248.9 L22.2,249.8 L22.7,250.0 L23.2,249.1 L23.7,248.8 L24.2,249.9 L24.7,249.2 L25.2,249.5 L25.7,249.0 L26.2,249.4 L26.7,249.6 L27.2,249.3 L27.7,248.8 L28.2,249.5 L28.7,249.2 L29.2,249.9 L29.7,250.1 L30.2,249.9 L30.7,249.2 L31.2,248.8 L31.7,249.2 L32.2,247.5 L32.7,244.5 L33.2,246.7 L33.7,234.5 L34.2,231.7 L34.7,233.0 L35.2,233.1 L35.7,236.9 L36.2,239.8 L36.7,247.3 L37.2,247.3 L37.7,249.9 L38.2,248.7 L38.7,249.3 L39.2,249.5 L39.7,248.8 L40.2,249.5 L40.7,248.3 L41.2,244.8 L41.7,248.6 L42.2,249.8 L42.7,249.4 L43.2,248.8 L43.7,249.1 L44.2,249.5 L44.7,248.3 L45.2,249.2 L45.7,249.7 L46.2,248.8 L46.7,249.1 L47.2,249.6 L47.7,250.2 L48.2,249.6 L48.7,249.5 L49.2,250.0 L49.7,250.0 L50.2,249.6 L50.7,250.3 L51.2,249.8 L51.7,250.3 L52.2,249.6 L52.7,249.6 L53.2,249.6 L53.7,249.9 L54.2,249.7 L54.7,249.9 L55.2,250.2 L55.7,249.7 L56.2,249.7 L56.7,249.9 L57.2,250.0 L57.7,250.2 L58.2,249.8 L58.7,250.1 L59.2,250.3 L59.7,250.3 L60.2,250.2 L60.7,249.0 L61.2,249.8 L61.7,250.2 L62.2,249.7 L62.7,249.4 L63.2,248.2 L63.7,246.6 L64.2,248.6 L64.7,247.7 L65.2,248.0 L65.7,246.2 L66.2,247.4 L66.7,245.6 L67.2,247.6 L67.7,248.5 L68.2,247.2 L68.7,249.0 L69.2,247.5 L69.7,247.5 L70.2,247.5 L70.7,246.5 L71.2,246.0 L71.7,248.6 L72.2,245.9 L72.7,242.5 L73.2,245.7 L73.7,242.6 L74.2,240.9 L74.7,243.1 L75.2,240.7 L75.7,241.6 L76.2,240.5 L76.7,240.5 L77.2,232.6 L77.7,240.1 L78.2,237.9 L78.7,237.7 L79.2,237.0 L79.7,243.0 L80.2,243.1 L80.7,242.8 L81.2,239.9 L81.7,240.7 L82.2,241.2 L82.7,249.0 L83.2,249.1 L83.7,249.8 L84.2,249.6 L84.7,249.2 L85.2,250.4 L85.7,248.3 L86.2,249.6 L86.7,250.2 L87.2,249.5 L87.7,249.8 L88.2,249.9 L88.7,250.1 L89.2,249.6 L89.7,249.3 L90.2,249.4 L90.7,250.1 L91.2,249.7 L91.7,249.9 L92.2,247.7 L92.7,246.5 L93.2,244.4 L93.7,246.0 L94.2,247.6 L94.7,247.9 L95.2,246.5 L95.7,246.6 L96.2,244.9 L96.7,245.0 L97.2,241.1 L97.7,234.1 L98.2,231.7 L98.7,238.5 L99.2,231.7 L99.7,233.5 L100.2,237.2 L100.7,237.2 L101.2,232.5 L101.7,235.1 L102.2,233.0 L102.7,232.6 L103.2,235.3 L103.7,234.7 L104.2,232.7 L104.7,243.7 L105.2,248.5 L105.7,249.7 L106.2,250.2 L106.7,250.3 L107.2,249.9 L107.7,250.1 L108.2,249.9 L108.7,250.2 L109.2,250.4 L109.7,250.2 L110.2,250.4 L110.7,250.0 L111.2,250.3 L111.7,250.0 L112.2,250.2 L112.7,249.9 L113.2,250.1 L113.7,249.5 L114.2,249.3 L114.7,248.7 L115.2,248.6 L115.7,249.3 L116.2,249.7 L116.7,249.0 L117.2,249.5 L117.7,248.7 L118.2,248.8 L118.7,249.0 L119.2,248.3 L119.7,249.5 L120.2,248.7 L120.7,248.7 L121.2,248.3 L121.7,247.7 L122.2,246.0 L122.7,244.5 L123.2,241.6 L123.7,242.4 L124.2,241.6 L124.7,242.8 L125.2,238.6 L125.7,243.2 L126.2,240.4 L126.7,241.8 L127.2,243.4 L127.7,245.2 L128.2,244.2 L128.7,248.0 L129.2,247.4 L129.7,246.6 L130.2,247.4 L130.7,247.7 L131.2,248.2 L131.7,246.5 L132.2,242.3 L132.7,238.0 L133.2,240.7 L133.7,240.3 L134.2,234.9 L134.7,243.2 L135.2,237.9 L135.7,244.0 L136.2,240.4 L136.7,241.2 L137.2,240.5 L137.7,241.2 L138.2,243.9 L138.7,244.4 L139.2,241.6 L139.7,249.1 L140.2,248.5 L140.7,250.0 L141.2,249.3 L141.7,248.3 L142.2,249.6 L142.7,248.1 L143.2,249.3 L143.7,249.4 L144.2,249.2 L144.7,248.0 L145.2,246.7 L145.7,245.9 L146.2,247.0 L146.7,244.3 L147.2,247.3 L147.7,248.5 L148.2,245.0 L148.7,247.2 L149.2,247.7 L149.7,247.5 L150.2,247.2 L150.7,244.9 L151.2,242.3 L151.7,237.4 L152.2,231.7 L152.7,232.0 L153.2,233.0 L153.7,231.7 L154.2,232.2 L154.7,231.7 L155.2,231.7 L155.7,231.7 L156.2,232.3 L156.7,231.7 L157.2,232.5 L157.7,231.7 L158.2,233.0 L158.7,231.7 L159.2,231.7 L159.7,232.1 L160.2,237.6 L160.7,243.9 L161.2,246.5 L161.7,246.1 L162.2,245.8 L162.7,248.4 L163.2,245.7 L163.7,244.7 L164.2,241.8 L164.7,244.4 L165.2,243.4 L165.7,243.9 L166.2,244.3 L166.7,248.1 L167.2,248.1 L167.7,249.4 L168.2,250.2 L168.7,249.5 L169.2,249.6 L169.7,249.7 L170.2,250.1 L170.7,250.4 L171.2,250.2 L171.7,250.0 L172.2,249.1 L172.7,249.3 L173.2,249.2 L173.7,249.1 L174.2,249.3 L174.7,248.3 L175.2,249.5 L175.7,248.8 L176.2,249.1 L176.7,248.9 L177.2,250.3 L177.7,249.5 L178.2,249.8 L178.7,249.7 L179.2,249.4 L179.7,249.6 L180.2,249.0 L180.7,248.3 L181.2,247.3 L181.7,245.1 L182.2,245.0 L182.7,246.0 L183.2,246.2 L183.7,248.8 L184.2,248.5 L184.7,248.5 L185.2,248.4 L185.7,249.2 L186.2,249.7 L186.7,247.2 L187.2,247.2 L187.7,249.6 L188.2,246.7 L188.7,247.2 L189.2,246.7 L189.7,241.7 L190.2,238.1 L190.7,238.1 L191.2,246.4 L191.7,243.1 L192.2,246.5 L192.7,249.7 L193.2,249.6 L193.7,250.0 L194.2,250.6 L194.7,248.7 L195.2,249.5 L195.7,250.0 L196.2,249.9 L196.7,249.8 L197.2,250.2 L197.7,249.9 L198.2,250.3 L198.7,249.7 L199.2,249.7 L199.7,249.8 L200.2,248.3 L200.7,247.8 L201.2,248.9 L201.7,249.4 L202.2,248.9 L202.7,249.1 L203.2,248.9 L203.7,250.1 L204.2,250.2 L204.7,250.3 L205.2,250.3 L205.7,250.3 L206.2,250.1 L206.7,250.6 L207.2,249.9 L207.7,250.0 L208.2,250.0 L208.7,250.2 L209.2,250.0 L209.7,250.4 L210.2,250.6 L210.7,250.2 L211.2,250.1 L211.7,249.6 L212.2,249.1 L212.7,249.6 L213.2,249.3 L213.7,249.7 L214.2,250.3 L214.7,250.0 L215.2,249.7 L215.7,250.2 L216.2,249.7 L216.7,249.7 L217.2,250.1 L217.7,250.2 L218.2,249.7 L218.7,250.2 L219.2,249.8 L219.7,250.2 L220.2,249.6 L220.7,250.1 L221.2,249.4 L221.7,249.9 L222.2,250.3 L222.7,249.8 L223.2,248.9 L223.7,249.8 L224.2,247.9 L224.7,244.8 L225.2,244.6 L225.7,243.7 L226.2,245.5 L226.7,242.1 L227.2,244.5 L227.7,245.7 L228.2,248.5 L228.7,249.9 L229.2,250.1 L229.7,250.4 L230.2,249.7 L230.7,250.2 L231.2,250.7 L231.7,250.1 L232.2,250.2 L232.7,250.2 L233.2,250.1 L233.7,249.9 L234.2,250.3 L234.7,250.2 L235.2,250.5 L235.7,249.9 L236.2,250.5 L236.2,251.1 Z" fill="#18ec18" stroke="none"/>
<line x1="12.60" y1="251.10" x2="237.20" y2="251.10" stroke="#0a9a0a" stroke-width="1.0"/>
<rect x="12.60" y="230.30" width="224.60" height="21.60" fill="none" stroke="#707070" stroke-width="1.05"/>
<line x1="53.60" y1="230.30" x2="53.60" y2="233.20" stroke="#555" stroke-width="0.9"/>
<line x1="53.60" y1="251.90" x2="53.60" y2="249.00" stroke="#555" stroke-width="0.9"/>
<line x1="104.60" y1="230.30" x2="104.60" y2="233.20" stroke="#555" stroke-width="0.9"/>
<line x1="104.60" y1="251.90" x2="104.60" y2="249.00" stroke="#555" stroke-width="0.9"/>
<line x1="155.60" y1="230.30" x2="155.60" y2="233.20" stroke="#555" stroke-width="0.9"/>
<line x1="155.60" y1="251.90" x2="155.60" y2="249.00" stroke="#555" stroke-width="0.9"/>
<line x1="206.60" y1="230.30" x2="206.60" y2="233.20" stroke="#555" stroke-width="0.9"/>
<line x1="206.60" y1="251.90" x2="206.60" y2="249.00" stroke="#555" stroke-width="0.9"/>
<line x1="12.60" y1="233.10" x2="14.40" y2="233.10" stroke="#555" stroke-width="0.7"/>
<line x1="235.40" y1="233.10" x2="237.20" y2="233.10" stroke="#555" stroke-width="0.7"/>
<line x1="12.60" y1="250.60" x2="14.40" y2="250.60" stroke="#555" stroke-width="0.7"/>
<line x1="235.40" y1="250.60" x2="237.20" y2="250.60" stroke="#555" stroke-width="0.7"/>
<text x="12.00" y="235.89" font-family="Liberation Sans" font-size="5.8" text-anchor="end" fill="#000">50</text>
<text x="12.00" y="251.89" font-family="Liberation Sans" font-size="5.8" text-anchor="end" fill="#000">0</text>
<path d="M13.2,275.2 L13.2,272.6 L13.7,273.3 L14.2,272.5 L14.7,271.9 L15.2,272.0 L15.7,271.8 L16.2,264.1 L16.7,264.3 L17.2,263.8 L17.7,271.4 L18.2,270.7 L18.7,270.3 L19.2,273.3 L19.7,271.8 L20.2,272.8 L20.7,273.6 L21.2,273.7 L21.7,273.2 L22.2,273.1 L22.7,273.1 L23.2,273.1 L23.7,273.9 L24.2,274.6 L24.7,274.9 L25.2,274.3 L25.7,274.1 L26.2,274.8 L26.7,274.2 L27.2,273.5 L27.7,273.5 L28.2,271.1 L28.7,273.3 L29.2,272.6 L29.7,272.9 L30.2,273.4 L30.7,272.5 L31.2,273.4 L31.7,271.9 L32.2,273.0 L32.7,269.9 L33.2,255.8 L33.7,255.8 L34.2,255.8 L34.7,255.8 L35.2,255.8 L35.7,255.8 L36.2,256.1 L36.7,255.8 L37.2,255.8 L37.7,272.0 L38.2,272.5 L38.7,272.2 L39.2,272.4 L39.7,270.7 L40.2,267.7 L40.7,263.9 L41.2,270.1 L41.7,271.2 L42.2,271.6 L42.7,271.7 L43.2,270.8 L43.7,271.3 L44.2,273.6 L44.7,273.4 L45.2,270.5 L45.7,271.9 L46.2,270.5 L46.7,271.2 L47.2,271.4 L47.7,272.3 L48.2,272.6 L48.7,273.8 L49.2,274.0 L49.7,274.5 L50.2,274.2 L50.7,274.2 L51.2,274.6 L51.7,274.5 L52.2,274.7 L52.7,274.8 L53.2,274.8 L53.7,274.8 L54.2,274.5 L54.7,274.8 L55.2,274.6 L55.7,274.8 L56.2,274.5 L56.7,274.5 L57.2,274.6 L57.7,274.7 L58.2,274.6 L58.7,274.6 L59.2,274.7 L59.7,274.6 L60.2,274.8 L60.7,274.7 L61.2,274.3 L61.7,273.7 L62.2,273.0 L62.7,273.5 L63.2,271.5 L63.7,272.1 L64.2,270.0 L64.7,271.6 L65.2,268.7 L65.7,267.0 L66.2,266.3 L66.7,267.7 L67.2,270.1 L67.7,268.6 L68.2,260.1 L68.7,262.7 L69.2,260.9 L69.7,269.6 L70.2,273.0 L70.7,271.4 L71.2,271.4 L71.7,271.7 L72.2,270.5 L72.7,269.6 L73.2,271.2 L73.7,266.2 L74.2,260.7 L74.7,263.7 L75.2,263.0 L75.7,261.8 L76.2,257.1 L76.7,257.0 L77.2,257.6 L77.7,255.8 L78.2,255.8 L78.7,255.8 L79.2,255.8 L79.7,264.1 L80.2,257.9 L80.7,255.8 L81.2,255.8 L81.7,257.5 L82.2,255.8 L82.7,258.9 L83.2,270.3 L83.7,269.3 L84.2,269.7 L84.7,271.7 L85.2,272.0 L85.7,271.5 L86.2,272.3 L86.7,272.9 L87.2,273.6 L87.7,273.3 L88.2,273.8 L88.7,273.9 L89.2,273.1 L89.7,273.1 L90.2,270.7 L90.7,268.4 L91.2,267.7 L91.7,265.7 L92.2,257.4 L92.7,255.8 L93.2,256.8 L93.7,255.8 L94.2,255.8 L94.7,263.5 L95.2,265.9 L95.7,264.6 L96.2,265.4 L96.7,255.8 L97.2,255.8 L97.7,257.2 L98.2,259.2 L98.7,262.1 L99.2,267.7 L99.7,261.9 L100.2,255.8 L100.7,256.9 L101.2,255.8 L101.7,255.9 L102.2,255.8 L102.7,257.0 L103.2,255.8 L103.7,255.8 L104.2,255.8 L104.7,257.7 L105.2,265.0 L105.7,270.6 L106.2,272.6 L106.7,274.5 L107.2,274.0 L107.7,274.3 L108.2,274.1 L108.7,274.5 L109.2,274.2 L109.7,274.4 L110.2,274.0 L110.7,274.5 L111.2,274.3 L111.7,274.5 L112.2,274.2 L112.7,273.3 L113.2,273.4 L113.7,273.5 L114.2,274.4 L114.7,274.0 L115.2,274.2 L115.7,274.3 L116.2,274.1 L116.7,273.9 L117.2,273.5 L117.7,273.7 L118.2,274.0 L118.7,273.8 L119.2,273.9 L119.7,273.1 L120.2,274.0 L120.7,270.2 L121.2,268.4 L121.7,269.5 L122.2,259.2 L122.7,257.4 L123.2,255.8 L123.7,256.5 L124.2,255.8 L124.7,255.8 L125.2,255.8 L125.7,257.5 L126.2,256.4 L126.7,255.8 L127.2,255.8 L127.7,257.6 L128.2,255.8 L128.7,258.5 L129.2,263.1 L129.7,271.4 L130.2,271.8 L130.7,265.9 L131.2,263.7 L131.7,257.5 L132.2,255.9 L132.7,255.8 L133.2,255.8 L133.7,255.8 L134.2,255.8 L134.7,255.8 L135.2,255.8 L135.7,255.8 L136.2,255.8 L136.7,255.8 L137.2,256.7 L137.7,255.8 L138.2,255.8 L138.7,255.8 L139.2,265.6 L139.7,268.2 L140.2,270.0 L140.7,271.4 L141.2,272.5 L141.7,273.5 L142.2,273.0 L142.7,273.4 L143.2,272.9 L143.7,273.0 L144.2,270.7 L144.7,268.4 L145.2,270.2 L145.7,269.2 L146.2,270.2 L146.7,268.7 L147.2,268.1 L147.7,271.7 L148.2,270.4 L148.7,270.4 L149.2,267.2 L149.7,269.7 L150.2,267.2 L150.7,265.4 L151.2,256.8 L151.7,256.2 L152.2,255.8 L152.7,255.8 L153.2,256.5 L153.7,255.8 L154.2,255.8 L154.7,255.8 L155.2,255.8 L155.7,255.8 L156.2,255.8 L156.7,255.8 L157.2,255.8 L157.7,256.7 L158.2,255.8 L158.7,256.9 L159.2,255.8 L159.7,257.9 L160.2,257.5 L160.7,256.2 L161.2,265.7 L161.7,261.4 L162.2,259.8 L162.7,255.8 L163.2,257.4 L163.7,255.8 L164.2,255.8 L164.7,255.8 L165.2,263.0 L165.7,263.2 L166.2,259.0 L166.7,266.2 L167.2,263.5 L167.7,265.6 L168.2,270.9 L168.7,271.2 L169.2,271.4 L169.7,272.0 L170.2,270.7 L170.7,272.0 L171.2,270.9 L171.7,272.0 L172.2,271.9 L172.7,272.5 L173.2,270.3 L173.7,270.8 L174.2,270.5 L174.7,272.5 L175.2,270.9 L175.7,272.9 L176.2,273.4 L176.7,273.6 L177.2,272.4 L177.7,272.1 L178.2,272.3 L178.7,272.9 L179.2,271.9 L179.7,272.3 L180.2,271.3 L180.7,270.1 L181.2,269.8 L181.7,269.5 L182.2,266.4 L182.7,265.4 L183.2,267.7 L183.7,268.7 L184.2,271.3 L184.7,271.9 L185.2,272.5 L185.7,272.5 L186.2,271.8 L186.7,273.3 L187.2,271.9 L187.7,272.7 L188.2,270.9 L188.7,270.9 L189.2,267.5 L189.7,263.6 L190.2,259.3 L190.7,258.8 L191.2,266.5 L191.7,267.9 L192.2,272.8 L192.7,272.7 L193.2,273.7 L193.7,273.8 L194.2,274.2 L194.7,271.8 L195.2,273.7 L195.7,273.4 L196.2,273.6 L196.7,272.9 L197.2,273.1 L197.7,274.2 L198.2,273.1 L198.7,273.4 L199.2,269.8 L199.7,266.7 L200.2,270.1 L200.7,268.4 L201.2,269.4 L201.7,270.6 L202.2,270.8 L202.7,272.4 L203.2,272.3 L203.7,270.9 L204.2,271.1 L204.7,271.6 L205.2,271.7 L205.7,272.6 L206.2,271.2 L206.7,272.7 L207.2,272.9 L207.7,274.1 L208.2,274.0 L208.7,274.2 L209.2,274.4 L209.7,272.8 L210.2,273.7 L210.7,273.9 L211.2,273.1 L211.7,273.5 L212.2,273.6 L212.7,269.8 L213.2,273.5 L213.7,272.5 L214.2,273.0 L214.7,273.2 L215.2,274.1 L215.7,274.5 L216.2,274.4 L216.7,274.7 L217.2,274.5 L217.7,274.6 L218.2,274.4 L218.7,274.7 L219.2,274.1 L219.7,274.2 L220.2,274.7 L220.7,274.0 L221.2,274.5 L221.7,274.2 L222.2,274.1 L222.7,272.7 L223.2,268.0 L223.7,268.3 L224.2,270.7 L224.7,270.3 L225.2,265.9 L225.7,263.5 L226.2,270.1 L226.7,266.5 L227.2,271.7 L227.7,270.7 L228.2,271.9 L228.7,270.6 L229.2,273.0 L229.7,272.2 L230.2,273.6 L230.7,274.0 L231.2,274.9 L231.7,274.4 L232.2,274.5 L232.7,274.4 L233.2,274.3 L233.7,274.8 L234.2,274.3 L234.7,274.6 L235.2,274.4 L235.7,274.6 L236.2,274.5 L236.2,275.2 Z" fill="#1616dc" stroke="none"/>
<line x1="12.60" y1="275.20" x2="237.20" y2="275.20" stroke="#0a0a90" stroke-width="1.0"/>
<rect x="12.60" y="254.40" width="224.60" height="21.60" fill="none" stroke="#707070" stroke-width="1.05"/>
<line x1="53.60" y1="254.40" x2="53.60" y2="257.30" stroke="#555" stroke-width="0.9"/>
<line x1="53.60" y1="276.00" x2="53.60" y2="273.10" stroke="#555" stroke-width="0.9"/>
<line x1="104.60" y1="254.40" x2="104.60" y2="257.30" stroke="#555" stroke-width="0.9"/>
<line x1="104.60" y1="276.00" x2="104.60" y2="273.10" stroke="#555" stroke-width="0.9"/>
<line x1="155.60" y1="254.40" x2="155.60" y2="257.30" stroke="#555" stroke-width="0.9"/>
<line x1="155.60" y1="276.00" x2="155.60" y2="273.10" stroke="#555" stroke-width="0.9"/>
<line x1="206.60" y1="254.40" x2="206.60" y2="257.30" stroke="#555" stroke-width="0.9"/>
<line x1="206.60" y1="276.00" x2="206.60" y2="273.10" stroke="#555" stroke-width="0.9"/>
<line x1="12.60" y1="257.20" x2="14.40" y2="257.20" stroke="#555" stroke-width="0.7"/>
<line x1="235.40" y1="257.20" x2="237.20" y2="257.20" stroke="#555" stroke-width="0.7"/>
<line x1="12.60" y1="274.70" x2="14.40" y2="274.70" stroke="#555" stroke-width="0.7"/>
<line x1="235.40" y1="274.70" x2="237.20" y2="274.70" stroke="#555" stroke-width="0.7"/>
<text x="12.00" y="259.99" font-family="Liberation Sans" font-size="5.8" text-anchor="end" fill="#000">30</text>
<text x="12.00" y="275.99" font-family="Liberation Sans" font-size="5.8" text-anchor="end" fill="#000">0</text>
<path d="M13.2,299.4 L13.2,297.8 L13.7,297.9 L14.2,298.0 L14.7,298.6 L15.2,298.8 L15.7,297.8 L16.2,298.5 L16.7,298.0 L17.2,297.9 L17.7,298.7 L18.2,298.5 L18.7,298.4 L19.2,297.7 L19.7,298.2 L20.2,298.2 L20.7,298.4 L21.2,298.1 L21.7,298.8 L22.2,298.5 L22.7,298.8 L23.2,298.0 L23.7,298.7 L24.2,298.1 L24.7,298.0 L25.2,298.6 L25.7,298.8 L26.2,298.6 L26.7,297.7 L27.2,298.2 L27.7,298.2 L28.2,298.3 L28.7,298.8 L29.2,298.7 L29.7,298.3 L30.2,298.1 L30.7,298.0 L31.2,298.7 L31.7,298.4 L32.2,298.3 L32.7,298.7 L33.2,298.5 L33.7,298.8 L34.2,298.6 L34.7,297.9 L35.2,298.1 L35.7,297.8 L36.2,298.1 L36.7,298.1 L37.2,296.2 L37.7,298.4 L38.2,298.2 L38.7,296.6 L39.2,298.7 L39.7,298.4 L40.2,298.7 L40.7,298.6 L41.2,298.3 L41.7,298.6 L42.2,298.5 L42.7,298.0 L43.2,298.6 L43.7,298.4 L44.2,298.1 L44.7,296.2 L45.2,297.9 L45.7,298.8 L46.2,298.7 L46.7,297.7 L47.2,298.3 L47.7,298.6 L48.2,297.8 L48.7,298.3 L49.2,297.7 L49.7,298.0 L50.2,297.9 L50.7,297.9 L51.2,297.8 L51.7,298.6 L52.2,297.9 L52.7,298.8 L53.2,297.8 L53.7,296.9 L54.2,298.5 L54.7,298.1 L55.2,298.7 L55.7,298.3 L56.2,298.8 L56.7,297.1 L57.2,298.0 L57.7,298.6 L58.2,298.2 L58.7,298.7 L59.2,297.8 L59.7,297.9 L60.2,297.8 L60.7,298.6 L61.2,297.3 L61.7,298.8 L62.2,298.7 L62.7,298.0 L63.2,297.8 L63.7,295.7 L64.2,298.6 L64.7,298.3 L65.2,298.3 L65.7,298.1 L66.2,297.9 L66.7,297.7 L67.2,298.6 L67.7,298.5 L68.2,298.5 L68.7,298.8 L69.2,298.7 L69.7,298.9 L70.2,298.6 L70.7,298.2 L71.2,298.7 L71.7,298.7 L72.2,298.7 L72.7,298.3 L73.2,297.2 L73.7,298.7 L74.2,298.3 L74.7,297.8 L75.2,297.9 L75.7,298.5 L76.2,295.9 L76.7,297.7 L77.2,297.9 L77.7,297.1 L78.2,297.0 L78.7,296.1 L79.2,290.9 L79.7,290.6 L80.2,291.4 L80.7,296.2 L81.2,298.2 L81.7,297.2 L82.2,298.3 L82.7,298.2 L83.2,297.8 L83.7,298.0 L84.2,298.1 L84.7,298.7 L85.2,298.6 L85.7,298.8 L86.2,298.4 L86.7,298.8 L87.2,297.8 L87.7,298.4 L88.2,298.4 L88.7,296.6 L89.2,298.7 L89.7,297.7 L90.2,297.9 L90.7,298.1 L91.2,297.7 L91.7,298.0 L92.2,298.6 L92.7,298.2 L93.2,297.8 L93.7,297.3 L94.2,298.0 L94.7,298.3 L95.2,297.5 L95.7,298.6 L96.2,297.4 L96.7,297.8 L97.2,298.7 L97.7,298.3 L98.2,298.4 L98.7,298.3 L99.2,297.1 L99.7,298.1 L100.2,297.9 L100.7,298.5 L101.2,298.6 L101.7,297.8 L102.2,298.1 L102.7,298.0 L103.2,297.9 L103.7,298.7 L104.2,298.6 L104.7,297.9 L105.2,296.9 L105.7,298.2 L106.2,298.6 L106.7,298.7 L107.2,298.6 L107.7,298.4 L108.2,296.2 L108.7,298.6 L109.2,298.1 L109.7,298.1 L110.2,298.6 L110.7,298.1 L111.2,298.7 L111.7,298.0 L112.2,298.0 L112.7,297.9 L113.2,298.5 L113.7,298.8 L114.2,297.5 L114.7,298.7 L115.2,297.8 L115.7,298.6 L116.2,298.3 L116.7,298.4 L117.2,298.2 L117.7,297.8 L118.2,298.3 L118.7,298.1 L119.2,298.5 L119.7,298.0 L120.2,298.4 L120.7,297.8 L121.2,298.1 L121.7,298.3 L122.2,296.1 L122.7,297.8 L123.2,298.3 L123.7,296.6 L124.2,298.0 L124.7,298.8 L125.2,298.7 L125.7,298.8 L126.2,298.0 L126.7,298.3 L127.2,298.2 L127.7,298.7 L128.2,298.0 L128.7,298.5 L129.2,298.6 L129.7,298.7 L130.2,298.0 L130.7,297.8 L131.2,297.8 L131.7,298.5 L132.2,298.0 L132.7,298.7 L133.2,297.8 L133.7,297.9 L134.2,298.6 L134.7,298.3 L135.2,298.7 L135.7,298.5 L136.2,298.0 L136.7,298.6 L137.2,297.9 L137.7,296.3 L138.2,298.2 L138.7,297.8 L139.2,297.9 L139.7,298.5 L140.2,298.4 L140.7,298.4 L141.2,298.6 L141.7,298.4 L142.2,297.8 L142.7,298.6 L143.2,297.9 L143.7,298.0 L144.2,297.9 L144.7,298.1 L145.2,297.9 L145.7,298.2 L146.2,297.9 L146.7,297.9 L147.2,297.8 L147.7,297.8 L148.2,298.1 L148.7,298.8 L149.2,298.2 L149.7,298.5 L150.2,298.0 L150.7,298.6 L151.2,298.6 L151.7,296.5 L152.2,298.4 L152.7,298.0 L153.2,298.3 L153.7,297.9 L154.2,298.5 L154.7,297.8 L155.2,297.8 L155.7,298.5 L156.2,298.2 L156.7,298.2 L157.2,298.3 L157.7,298.4 L158.2,298.1 L158.7,298.4 L159.2,297.8 L159.7,298.7 L160.2,298.8 L160.7,298.4 L161.2,297.0 L161.7,297.9 L162.2,298.4 L162.7,298.0 L163.2,298.6 L163.7,298.4 L164.2,298.5 L164.7,296.6 L165.2,296.6 L165.7,298.2 L166.2,297.9 L166.7,298.8 L167.2,297.8 L167.7,298.7 L168.2,297.9 L168.7,298.2 L169.2,298.5 L169.7,298.3 L170.2,297.9 L170.7,298.0 L171.2,298.6 L171.7,298.3 L172.2,298.2 L172.7,298.6 L173.2,298.0 L173.7,298.0 L174.2,298.5 L174.7,295.4 L175.2,298.2 L175.7,297.9 L176.2,298.7 L176.7,298.1 L177.2,298.5 L177.7,298.6 L178.2,298.7 L178.7,298.1 L179.2,298.7 L179.7,298.8 L180.2,298.5 L180.7,298.6 L181.2,298.3 L181.7,298.3 L182.2,298.3 L182.7,298.2 L183.2,296.9 L183.7,297.7 L184.2,298.4 L184.7,298.5 L185.2,298.4 L185.7,297.9 L186.2,298.8 L186.7,298.0 L187.2,298.1 L187.7,298.4 L188.2,298.5 L188.7,298.1 L189.2,297.8 L189.7,298.4 L190.2,297.9 L190.7,298.1 L191.2,297.8 L191.7,298.4 L192.2,298.7 L192.7,297.1 L193.2,298.3 L193.7,298.4 L194.2,298.5 L194.7,297.8 L195.2,298.3 L195.7,298.4 L196.2,297.9 L196.7,298.4 L197.2,298.4 L197.7,298.2 L198.2,298.5 L198.7,298.7 L199.2,298.8 L199.7,298.8 L200.2,298.7 L200.7,298.8 L201.2,298.0 L201.7,297.8 L202.2,298.2 L202.7,298.8 L203.2,298.4 L203.7,298.0 L204.2,296.2 L204.7,298.0 L205.2,297.6 L205.7,296.9 L206.2,298.1 L206.7,298.7 L207.2,298.2 L207.7,297.7 L208.2,297.7 L208.7,298.4 L209.2,298.6 L209.7,297.7 L210.2,298.7 L210.7,298.7 L211.2,296.7 L211.7,297.0 L212.2,297.9 L212.7,298.3 L213.2,298.2 L213.7,298.4 L214.2,297.9 L214.7,298.2 L215.2,298.7 L215.7,296.0 L216.2,297.9 L216.7,298.9 L217.2,298.4 L217.7,298.2 L218.2,298.4 L218.7,297.8 L219.2,298.1 L219.7,298.4 L220.2,297.8 L220.7,297.9 L221.2,297.7 L221.7,298.5 L222.2,298.6 L222.7,298.7 L223.2,298.3 L223.7,295.4 L224.2,298.0 L224.7,298.0 L225.2,297.8 L225.7,298.4 L226.2,298.8 L226.7,298.7 L227.2,298.7 L227.7,298.3 L228.2,298.6 L228.7,296.9 L229.2,298.0 L229.7,298.1 L230.2,298.4 L230.7,297.8 L231.2,298.4 L231.7,297.9 L232.2,298.3 L232.7,298.4 L233.2,298.3 L233.7,298.0 L234.2,295.6 L234.7,298.2 L235.2,298.7 L235.7,298.4 L236.2,296.7 L236.2,299.4 Z" fill="#18ec18" stroke="none"/>
<line x1="12.60" y1="299.40" x2="237.20" y2="299.40" stroke="#0a9a0a" stroke-width="1.0"/>
<rect x="12.60" y="278.60" width="224.60" height="21.60" fill="none" stroke="#707070" stroke-width="1.05"/>
<line x1="53.60" y1="278.60" x2="53.60" y2="281.50" stroke="#555" stroke-width="0.9"/>
<line x1="53.60" y1="300.20" x2="53.60" y2="297.30" stroke="#555" stroke-width="0.9"/>
<line x1="104.60" y1="278.60" x2="104.60" y2="281.50" stroke="#555" stroke-width="0.9"/>
<line x1="104.60" y1="300.20" x2="104.60" y2="297.30" stroke="#555" stroke-width="0.9"/>
<line x1="155.60" y1="278.60" x2="155.60" y2="281.50" stroke="#555" stroke-width="0.9"/>
<line x1="155.60" y1="300.20" x2="155.60" y2="297.30" stroke="#555" stroke-width="0.9"/>
<line x1="206.60" y1="278.60" x2="206.60" y2="281.50" stroke="#555" stroke-width="0.9"/>
<line x1="206.60" y1="300.20" x2="206.60" y2="297.30" stroke="#555" stroke-width="0.9"/>
<line x1="12.60" y1="281.40" x2="14.40" y2="281.40" stroke="#555" stroke-width="0.7"/>
<line x1="235.40" y1="281.40" x2="237.20" y2="281.40" stroke="#555" stroke-width="0.7"/>
<line x1="12.60" y1="298.90" x2="14.40" y2="298.90" stroke="#555" stroke-width="0.7"/>
<line x1="235.40" y1="298.90" x2="237.20" y2="298.90" stroke="#555" stroke-width="0.7"/>
<text x="12.00" y="284.19" font-family="Liberation Sans" font-size="5.8" text-anchor="end" fill="#000">30</text>
<text x="12.00" y="300.19" font-family="Liberation Sans" font-size="5.8" text-anchor="end" fill="#000">0</text>
<path d="M13.2,323.7 L13.2,323.1 L13.7,321.2 L14.2,322.8 L14.7,322.5 L15.2,322.3 L15.7,323.1 L16.2,323.1 L16.7,322.7 L17.2,323.1 L17.7,322.8 L18.2,323.0 L18.7,323.0 L19.2,322.6 L19.7,322.5 L20.2,322.7 L20.7,320.5 L21.2,322.4 L21.7,322.5 L22.2,322.8 L22.7,322.3 L23.2,323.1 L23.7,322.7 L24.2,323.1 L24.7,322.8 L25.2,323.0 L25.7,322.7 L26.2,322.7 L26.7,322.4 L27.2,322.3 L27.7,323.1 L28.2,322.3 L28.7,322.7 L29.2,323.2 L29.7,323.1 L30.2,322.6 L30.7,322.3 L31.2,322.9 L31.7,322.6 L32.2,322.4 L32.7,322.7 L33.2,321.8 L33.7,320.4 L34.2,312.3 L34.7,310.2 L35.2,312.0 L35.7,320.6 L36.2,322.0 L36.7,322.7 L37.2,320.5 L37.7,322.5 L38.2,323.1 L38.7,322.6 L39.2,322.3 L39.7,322.6 L40.2,323.1 L40.7,322.7 L41.2,322.3 L41.7,323.1 L42.2,323.1 L42.7,322.4 L43.2,322.7 L43.7,322.7 L44.2,322.6 L44.7,322.8 L45.2,322.5 L45.7,322.4 L46.2,323.1 L46.7,322.9 L47.2,322.5 L47.7,322.6 L48.2,322.8 L48.7,322.3 L49.2,322.8 L49.7,321.3 L50.2,322.8 L50.7,322.7 L51.2,323.0 L51.7,322.9 L52.2,322.3 L52.7,322.8 L53.2,323.2 L53.7,322.4 L54.2,323.1 L54.7,323.2 L55.2,322.9 L55.7,322.5 L56.2,322.7 L56.7,322.6 L57.2,320.3 L57.7,323.2 L58.2,322.8 L58.7,323.1 L59.2,322.3 L59.7,323.0 L60.2,323.0 L60.7,322.6 L61.2,321.7 L61.7,322.3 L62.2,323.1 L62.7,322.8 L63.2,322.6 L63.7,322.4 L64.2,322.3 L64.7,322.8 L65.2,322.8 L65.7,322.6 L66.2,322.7 L66.7,322.4 L67.2,322.7 L67.7,321.7 L68.2,316.0 L68.7,313.2 L69.2,313.5 L69.7,319.8 L70.2,322.2 L70.7,322.7 L71.2,322.7 L71.7,322.9 L72.2,322.7 L72.7,323.0 L73.2,322.7 L73.7,322.8 L74.2,323.1 L74.7,323.0 L75.2,322.5 L75.7,322.7 L76.2,322.3 L76.7,322.9 L77.2,322.8 L77.7,322.4 L78.2,322.3 L78.7,320.9 L79.2,306.2 L79.7,304.3 L80.2,306.5 L80.7,320.9 L81.2,322.0 L81.7,322.7 L82.2,322.3 L82.7,322.4 L83.2,322.8 L83.7,322.3 L84.2,323.1 L84.7,322.3 L85.2,322.9 L85.7,322.4 L86.2,323.0 L86.7,322.9 L87.2,322.3 L87.7,322.8 L88.2,322.0 L88.7,321.9 L89.2,322.5 L89.7,322.6 L90.2,321.3 L90.7,322.6 L91.2,323.0 L91.7,322.3 L92.2,322.7 L92.7,322.1 L93.2,322.6 L93.7,322.7 L94.2,323.0 L94.7,322.8 L95.2,322.3 L95.7,322.3 L96.2,322.4 L96.7,322.7 L97.2,323.2 L97.7,322.4 L98.2,322.5 L98.7,321.3 L99.2,322.5 L99.7,321.3 L100.2,315.9 L100.7,315.9 L101.2,320.1 L101.7,322.7 L102.2,322.4 L102.7,322.4 L103.2,318.1 L103.7,316.1 L104.2,318.3 L104.7,322.9 L105.2,322.8 L105.7,322.4 L106.2,323.0 L106.7,322.6 L107.2,322.7 L107.7,323.0 L108.2,322.6 L108.7,323.0 L109.2,323.1 L109.7,323.1 L110.2,322.9 L110.7,323.1 L111.2,322.6 L111.7,322.9 L112.2,322.7 L112.7,322.5 L113.2,323.0 L113.7,322.4 L114.2,322.5 L114.7,322.8 L115.2,322.4 L115.7,323.1 L116.2,323.2 L116.7,322.3 L117.2,323.0 L117.7,323.1 L118.2,320.5 L118.7,322.8 L119.2,322.6 L119.7,322.4 L120.2,322.3 L120.7,323.2 L121.2,321.6 L121.7,322.9 L122.2,322.3 L122.7,321.8 L123.2,314.8 L123.7,311.5 L124.2,312.3 L124.7,319.1 L125.2,322.5 L125.7,322.3 L126.2,323.2 L126.7,322.9 L127.2,322.9 L127.7,322.6 L128.2,322.7 L128.7,322.3 L129.2,322.7 L129.7,323.0 L130.2,322.9 L130.7,323.1 L131.2,322.6 L131.7,322.9 L132.2,322.9 L132.7,322.7 L133.2,321.4 L133.7,313.5 L134.2,310.7 L134.7,310.5 L135.2,318.8 L135.7,322.4 L136.2,322.4 L136.7,321.1 L137.2,323.0 L137.7,322.9 L138.2,323.0 L138.7,322.6 L139.2,321.1 L139.7,322.6 L140.2,322.7 L140.7,323.1 L141.2,321.7 L141.7,323.2 L142.2,323.1 L142.7,323.0 L143.2,322.8 L143.7,322.5 L144.2,323.1 L144.7,323.2 L145.2,323.1 L145.7,322.5 L146.2,321.1 L146.7,322.8 L147.2,322.8 L147.7,323.2 L148.2,322.7 L148.7,322.8 L149.2,322.4 L149.7,322.4 L150.2,322.8 L150.7,321.4 L151.2,321.5 L151.7,318.9 L152.2,318.1 L152.7,318.4 L153.2,320.3 L153.7,322.5 L154.2,322.9 L154.7,323.2 L155.2,322.8 L155.7,322.7 L156.2,322.3 L156.7,322.8 L157.2,322.3 L157.7,322.6 L158.2,322.8 L158.7,323.0 L159.2,323.2 L159.7,322.4 L160.2,322.8 L160.7,323.0 L161.2,322.7 L161.7,322.3 L162.2,323.0 L162.7,321.7 L163.2,322.3 L163.7,322.7 L164.2,323.1 L164.7,322.9 L165.2,319.2 L165.7,317.6 L166.2,319.1 L166.7,322.5 L167.2,322.8 L167.7,323.2 L168.2,323.0 L168.7,323.0 L169.2,323.0 L169.7,322.9 L170.2,320.6 L170.7,322.7 L171.2,323.1 L171.7,322.7 L172.2,322.9 L172.7,322.4 L173.2,322.3 L173.7,322.3 L174.2,323.0 L174.7,322.6 L175.2,322.2 L175.7,322.4 L176.2,323.2 L176.7,323.1 L177.2,322.6 L177.7,322.8 L178.2,323.1 L178.7,323.1 L179.2,322.6 L179.7,323.2 L180.2,322.3 L180.7,322.8 L181.2,322.5 L181.7,322.6 L182.2,322.7 L182.7,323.0 L183.2,322.3 L183.7,322.3 L184.2,322.4 L184.7,322.5 L185.2,322.3 L185.7,322.4 L186.2,322.5 L186.7,322.9 L187.2,322.4 L187.7,322.4 L188.2,323.1 L188.7,322.7 L189.2,322.9 L189.7,323.1 L190.2,323.0 L190.7,322.9 L191.2,322.9 L191.7,321.7 L192.2,320.7 L192.7,320.4 L193.2,323.0 L193.7,321.4 L194.2,322.7 L194.7,323.0 L195.2,322.3 L195.7,322.3 L196.2,323.1 L196.7,323.2 L197.2,322.4 L197.7,322.7 L198.2,323.1 L198.7,323.0 L199.2,323.0 L199.7,322.7 L200.2,322.6 L200.7,322.3 L201.2,322.7 L201.7,322.3 L202.2,323.1 L202.7,322.5 L203.2,322.6 L203.7,322.3 L204.2,322.8 L204.7,322.5 L205.2,323.1 L205.7,322.4 L206.2,322.6 L206.7,323.1 L207.2,322.7 L207.7,322.3 L208.2,322.8 L208.7,322.6 L209.2,322.3 L209.7,323.2 L210.2,323.2 L210.7,322.8 L211.2,322.8 L211.7,322.5 L212.2,323.0 L212.7,322.7 L213.2,322.6 L213.7,322.9 L214.2,322.2 L214.7,322.7 L215.2,323.2 L215.7,322.4 L216.2,322.3 L216.7,322.7 L217.2,323.2 L217.7,323.0 L218.2,323.2 L218.7,322.9 L219.2,322.8 L219.7,322.5 L220.2,322.6 L220.7,322.6 L221.2,322.3 L221.7,323.2 L222.2,322.6 L222.7,322.3 L223.2,322.3 L223.7,322.7 L224.2,322.9 L224.7,322.6 L225.2,322.7 L225.7,322.7 L226.2,322.7 L226.7,323.2 L227.2,322.7 L227.7,322.3 L228.2,322.8 L228.7,322.7 L229.2,321.5 L229.7,320.4 L230.2,323.2 L230.7,322.4 L231.2,322.9 L231.7,322.5 L232.2,322.6 L232.7,322.7 L233.2,322.5 L233.7,323.0 L234.2,322.9 L234.7,322.4 L235.2,322.7 L235.7,321.6 L236.2,322.7 L236.2,323.7 Z" fill="#1616dc" stroke="none"/>
<line x1="12.60" y1="323.70" x2="237.20" y2="323.70" stroke="#0a0a90" stroke-width="1.0"/>
<rect x="12.60" y="302.90" width="224.60" height="21.60" fill="none" stroke="#707070" stroke-width="1.05"/>
<line x1="53.60" y1="302.90" x2="53.60" y2="305.80" stroke="#555" stroke-width="0.9"/>
<line x1="53.60" y1="324.50" x2="53.60" y2="321.60" stroke="#555" stroke-width="0.9"/>
<line x1="104.60" y1="302.90" x2="104.60" y2="305.80" stroke="#555" stroke-width="0.9"/>
<line x1="104.60" y1="324.50" x2="104.60" y2="321.60" stroke="#555" stroke-width="0.9"/>
<line x1="155.60" y1="302.90" x2="155.60" y2="305.80" stroke="#555" stroke-width="0.9"/>
<line x1="155.60" y1="324.50" x2="155.60" y2="321.60" stroke="#555" stroke-width="0.9"/>
<line x1="206.60" y1="302.90" x2="206.60" y2="305.80" stroke="#555" stroke-width="0.9"/>
<line x1="206.60" y1="324.50" x2="206.60" y2="321.60" stroke="#555" stroke-width="0.9"/>
<line x1="12.60" y1="305.70" x2="14.40" y2="305.70" stroke="#555" stroke-width="0.7"/>
<line x1="235.40" y1="305.70" x2="237.20" y2="305.70" stroke="#555" stroke-width="0.7"/>
<line x1="12.60" y1="323.20" x2="14.40" y2="323.20" stroke="#555" stroke-width="0.7"/>
<line x1="235.40" y1="323.20" x2="237.20" y2="323.20" stroke="#555" stroke-width="0.7"/>
<text x="12.00" y="308.49" font-family="Liberation Sans" font-size="5.8" text-anchor="end" fill="#000">35</text>
<text x="12.00" y="324.49" font-family="Liberation Sans" font-size="5.8" text-anchor="end" fill="#000">0</text>
<text x="240.26" y="205.25" font-family="Liberation Sans" font-size="6.5" text-anchor="middle" fill="#000" font-weight="bold" transform="rotate(90 240.26 205.25)">H3K27me3</text>
<text x="240.26" y="253.15" font-family="Liberation Sans" font-size="6.5" text-anchor="middle" fill="#000" font-weight="bold" transform="rotate(90 240.26 253.15)">H3K4me1</text>
<text x="240.26" y="301.55" font-family="Liberation Sans" font-size="6.5" text-anchor="middle" fill="#000" font-weight="bold" transform="rotate(90 240.26 301.55)">RUNX1</text>
<line x1="155.60" y1="184.90" x2="206.60" y2="184.90" stroke="#333" stroke-width="1.0"/>
<line x1="155.60" y1="182.80" x2="155.60" y2="188.60" stroke="#333" stroke-width="1.0"/>
<line x1="206.60" y1="182.80" x2="206.60" y2="188.60" stroke="#333" stroke-width="1.0"/>
<text x="182.40" y="191.57" font-family="Liberation Sans" font-size="7.7" text-anchor="middle" fill="#111" font-weight="bold">20kb</text>
<text x="13.30" y="356.10" font-family="Liberation Sans" font-size="7.7" text-anchor="start" fill="#000" font-weight="bold">Chr 6:43,775,000-43,910,000</text>
<path d="M13.9,378.7 L13.9,378.2 L14.4,378.0 L14.9,376.7 L15.4,378.2 L15.9,378.1 L16.4,377.8 L16.9,377.7 L17.4,378.2 L17.9,377.6 L18.4,377.5 L18.9,375.9 L19.4,375.7 L19.9,377.7 L20.4,377.6 L20.9,378.0 L21.4,377.6 L21.9,377.7 L22.4,377.6 L22.9,378.1 L23.4,377.9 L23.9,377.6 L24.4,378.1 L24.9,377.8 L25.4,377.7 L25.9,377.3 L26.4,377.7 L26.9,377.6 L27.4,378.2 L27.9,377.6 L28.4,378.3 L28.9,378.2 L29.4,378.2 L29.9,377.8 L30.4,378.0 L30.9,378.3 L31.4,378.1 L31.9,377.7 L32.4,377.9 L32.9,378.2 L33.4,378.1 L33.9,377.7 L34.4,378.0 L34.9,377.6 L35.4,377.9 L35.9,377.6 L36.4,377.9 L36.9,377.6 L37.4,378.1 L37.9,377.9 L38.4,378.2 L38.9,377.5 L39.4,378.0 L39.9,377.6 L40.4,378.2 L40.9,377.7 L41.4,377.8 L41.9,377.9 L42.4,377.9 L42.9,377.6 L43.4,377.5 L43.9,377.5 L44.4,377.6 L44.9,377.6 L45.4,375.4 L45.9,377.6 L46.4,377.6 L46.9,377.7 L47.4,378.0 L47.9,377.7 L48.4,378.2 L48.9,378.1 L49.4,378.0 L49.9,377.6 L50.4,377.8 L50.9,376.9 L51.4,377.8 L51.9,377.5 L52.4,378.0 L52.9,378.2 L53.4,377.8 L53.9,378.0 L54.4,378.1 L54.9,377.9 L55.4,377.8 L55.9,378.3 L56.4,378.0 L56.9,377.6 L57.4,377.7 L57.9,377.9 L58.4,376.6 L58.9,377.7 L59.4,377.6 L59.9,376.7 L60.4,377.8 L60.9,378.3 L61.4,378.3 L61.9,377.8 L62.4,377.9 L62.9,378.2 L63.4,377.6 L63.9,377.7 L64.4,377.6 L64.9,377.8 L65.4,377.8 L65.9,377.5 L66.4,377.9 L66.9,378.2 L67.4,378.1 L67.9,378.3 L68.4,377.6 L68.9,377.7 L69.4,378.1 L69.9,378.1 L70.4,378.0 L70.9,377.8 L71.4,377.5 L71.9,375.3 L72.4,378.3 L72.9,378.0 L73.4,378.1 L73.9,377.7 L74.4,377.7 L74.9,378.3 L75.4,378.1 L75.9,378.3 L76.4,377.8 L76.9,377.8 L77.4,377.7 L77.9,378.1 L78.4,377.8 L78.9,378.1 L79.4,377.2 L79.9,377.7 L80.4,378.2 L80.9,378.2 L81.4,377.6 L81.9,377.9 L82.4,377.6 L82.9,378.1 L83.4,377.7 L83.9,378.1 L84.4,376.7 L84.9,378.0 L85.4,378.0 L85.9,378.3 L86.4,375.8 L86.9,378.1 L87.4,378.2 L87.9,378.2 L88.4,378.1 L88.9,377.9 L89.4,377.8 L89.9,377.4 L90.4,376.7 L90.9,376.8 L91.4,376.9 L91.9,375.4 L92.4,377.3 L92.9,373.6 L93.4,376.9 L93.9,375.5 L94.4,376.4 L94.9,377.2 L95.4,377.0 L95.9,377.8 L96.4,378.2 L96.9,378.2 L97.4,377.9 L97.9,376.1 L98.4,377.6 L98.9,378.1 L99.4,377.9 L99.9,378.0 L100.4,377.5 L100.9,377.5 L101.4,378.1 L101.9,377.5 L102.4,377.6 L102.9,377.7 L103.4,378.2 L103.9,378.2 L104.4,377.7 L104.9,377.7 L105.4,375.3 L105.9,378.0 L106.4,377.9 L106.9,378.1 L107.4,378.3 L107.9,378.2 L108.4,377.8 L108.9,377.5 L109.4,375.7 L109.9,377.7 L110.4,378.3 L110.9,378.0 L111.4,377.6 L111.9,378.3 L112.4,377.7 L112.9,377.5 L113.4,378.1 L113.9,377.6 L114.4,377.8 L114.9,378.0 L115.4,378.3 L115.9,378.3 L116.4,378.2 L116.9,377.6 L117.4,378.3 L117.9,377.9 L118.4,378.2 L118.9,377.7 L119.4,377.6 L119.9,378.1 L120.4,377.9 L120.9,377.8 L121.4,377.9 L121.9,377.5 L122.4,378.3 L122.9,378.1 L123.4,375.6 L123.9,377.9 L124.4,377.7 L124.9,377.7 L125.4,377.7 L125.9,377.9 L126.4,377.7 L126.9,378.0 L127.4,377.6 L127.9,378.2 L128.4,378.2 L128.9,377.7 L129.4,377.7 L129.9,377.8 L130.4,377.8 L130.9,377.8 L131.4,377.7 L131.9,378.2 L132.4,378.0 L132.9,377.8 L133.4,378.0 L133.9,378.0 L134.4,376.4 L134.9,378.0 L135.4,377.8 L135.9,375.9 L136.4,377.5 L136.9,377.9 L137.4,378.3 L137.9,377.6 L138.4,378.1 L138.9,377.7 L139.4,378.0 L139.9,377.7 L140.4,377.6 L140.9,377.8 L141.4,377.7 L141.9,376.3 L142.4,378.3 L142.9,377.8 L143.4,377.6 L143.9,376.3 L144.4,378.0 L144.9,377.5 L145.4,378.2 L145.9,378.0 L146.4,378.0 L146.9,377.6 L147.4,377.7 L147.9,377.5 L148.4,378.0 L148.9,378.2 L149.4,377.8 L149.9,377.7 L150.4,377.8 L150.9,378.1 L151.4,377.6 L151.9,378.1 L152.4,378.1 L152.9,378.2 L153.4,378.0 L153.9,378.2 L154.4,378.2 L154.9,378.0 L155.4,377.7 L155.9,377.9 L156.4,377.7 L156.9,378.0 L157.4,378.1 L157.9,377.9 L158.4,378.0 L158.9,378.2 L159.4,378.0 L159.9,377.9 L160.4,378.1 L160.9,378.0 L161.4,376.1 L161.9,377.3 L162.4,378.1 L162.9,377.9 L163.4,378.1 L163.9,378.1 L164.4,377.7 L164.9,377.7 L165.4,377.8 L165.9,378.3 L166.4,378.1 L166.9,377.6 L167.4,378.0 L167.9,377.5 L168.4,375.6 L168.9,378.1 L169.4,378.2 L169.9,378.0 L170.4,378.1 L170.9,378.1 L171.4,377.5 L171.9,377.7 L172.4,375.6 L172.9,378.3 L173.4,378.0 L173.9,378.0 L174.4,378.1 L174.9,377.8 L175.4,377.9 L175.9,377.6 L176.4,378.2 L176.9,377.9 L177.4,377.9 L177.9,377.6 L178.4,378.3 L178.9,378.3 L179.4,378.2 L179.9,377.7 L180.4,378.1 L180.9,377.7 L181.4,377.7 L181.9,378.0 L182.4,377.8 L182.9,378.2 L183.4,378.0 L183.9,378.0 L184.4,377.9 L184.9,376.8 L185.4,377.5 L185.9,377.6 L186.4,377.9 L186.9,377.8 L187.4,375.9 L187.9,378.0 L188.4,377.9 L188.9,377.7 L189.4,377.7 L189.9,378.1 L190.4,377.7 L190.9,378.0 L191.4,378.2 L191.9,377.9 L192.4,378.0 L192.9,377.9 L193.4,377.6 L193.9,377.7 L194.4,377.6 L194.9,377.9 L195.4,378.1 L195.9,377.7 L196.4,378.2 L196.9,375.5 L197.4,377.9 L197.9,377.9 L198.4,375.5 L198.9,378.2 L199.4,377.8 L199.9,377.6 L200.4,377.5 L200.9,378.1 L201.4,378.2 L201.9,377.7 L202.4,377.9 L202.9,377.7 L203.4,377.9 L203.9,377.5 L204.4,377.8 L204.9,377.7 L205.4,377.7 L205.9,377.6 L206.4,377.9 L206.9,377.6 L207.4,375.3 L207.9,377.7 L208.4,377.6 L208.9,378.0 L209.4,377.6 L209.9,377.5 L210.4,378.3 L210.9,378.2 L211.4,377.9 L211.9,375.1 L212.4,376.2 L212.9,376.6 L213.4,376.1 L213.9,375.1 L214.4,375.7 L214.9,377.3 L215.4,376.7 L215.9,376.5 L216.4,375.5 L216.9,377.0 L217.4,377.5 L217.9,377.4 L218.4,376.8 L218.9,376.1 L219.4,376.8 L219.9,375.8 L220.4,376.4 L220.9,375.7 L221.4,376.0 L221.9,375.4 L222.4,375.4 L222.9,376.3 L223.4,376.9 L223.9,375.1 L224.4,377.5 L224.9,376.7 L225.4,377.3 L225.9,376.7 L226.4,376.7 L226.9,377.1 L227.4,376.1 L227.9,377.4 L228.4,375.7 L228.9,375.2 L229.4,376.6 L229.9,376.2 L230.4,374.5 L230.9,376.9 L231.4,376.6 L231.9,375.2 L232.4,375.4 L232.9,374.5 L233.4,375.2 L233.9,376.6 L234.4,377.0 L234.9,373.6 L235.4,377.4 L235.9,376.7 L236.4,377.3 L236.4,378.7 Z" fill="#18ec18" stroke="none"/>
<line x1="13.30" y1="378.70" x2="237.40" y2="378.70" stroke="#0a9a0a" stroke-width="1.0"/>
<rect x="13.30" y="357.90" width="224.10" height="21.60" fill="none" stroke="#707070" stroke-width="1.05"/>
<line x1="21.30" y1="357.90" x2="21.30" y2="360.80" stroke="#555" stroke-width="0.9"/>
<line x1="21.30" y1="379.50" x2="21.30" y2="376.60" stroke="#555" stroke-width="0.9"/>
<line x1="54.62" y1="357.90" x2="54.62" y2="360.80" stroke="#555" stroke-width="0.9"/>
<line x1="54.62" y1="379.50" x2="54.62" y2="376.60" stroke="#555" stroke-width="0.9"/>
<line x1="87.94" y1="357.90" x2="87.94" y2="360.80" stroke="#555" stroke-width="0.9"/>
<line x1="87.94" y1="379.50" x2="87.94" y2="376.60" stroke="#555" stroke-width="0.9"/>
<line x1="121.26" y1="357.90" x2="121.26" y2="360.80" stroke="#555" stroke-width="0.9"/>
<line x1="121.26" y1="379.50" x2="121.26" y2="376.60" stroke="#555" stroke-width="0.9"/>
<line x1="154.58" y1="357.90" x2="154.58" y2="360.80" stroke="#555" stroke-width="0.9"/>
<line x1="154.58" y1="379.50" x2="154.58" y2="376.60" stroke="#555" stroke-width="0.9"/>
<line x1="187.90" y1="357.90" x2="187.90" y2="360.80" stroke="#555" stroke-width="0.9"/>
<line x1="187.90" y1="379.50" x2="187.90" y2="376.60" stroke="#555" stroke-width="0.9"/>
<line x1="221.22" y1="357.90" x2="221.22" y2="360.80" stroke="#555" stroke-width="0.9"/>
<line x1="221.22" y1="379.50" x2="221.22" y2="376.60" stroke="#555" stroke-width="0.9"/>
<line x1="13.30" y1="360.70" x2="15.10" y2="360.70" stroke="#555" stroke-width="0.7"/>
<line x1="235.60" y1="360.70" x2="237.40" y2="360.70" stroke="#555" stroke-width="0.7"/>
<line x1="13.30" y1="378.20" x2="15.10" y2="378.20" stroke="#555" stroke-width="0.7"/>
<line x1="235.60" y1="378.20" x2="237.40" y2="378.20" stroke="#555" stroke-width="0.7"/>
<text x="12.70" y="363.49" font-family="Liberation Sans" font-size="5.8" text-anchor="end" fill="#000">45</text>
<text x="12.70" y="379.49" font-family="Liberation Sans" font-size="5.8" text-anchor="end" fill="#000">0</text>
<path d="M13.9,402.7 L13.9,401.9 L14.4,401.9 L14.9,401.8 L15.4,402.2 L15.9,401.7 L16.4,401.9 L16.9,402.1 L17.4,401.8 L17.9,400.5 L18.4,402.0 L18.9,401.8 L19.4,402.3 L19.9,402.0 L20.4,400.6 L20.9,402.3 L21.4,401.9 L21.9,401.8 L22.4,402.4 L22.9,402.0 L23.4,402.4 L23.9,402.2 L24.4,401.7 L24.9,402.3 L25.4,402.3 L25.9,402.1 L26.4,402.2 L26.9,402.1 L27.4,402.1 L27.9,402.2 L28.4,402.3 L28.9,402.0 L29.4,401.8 L29.9,401.9 L30.4,402.1 L30.9,402.0 L31.4,402.1 L31.9,401.9 L32.4,402.1 L32.9,402.1 L33.4,401.8 L33.9,402.0 L34.4,402.2 L34.9,401.9 L35.4,401.9 L35.9,402.1 L36.4,402.1 L36.9,401.8 L37.4,402.2 L37.9,402.3 L38.4,402.1 L38.9,401.9 L39.4,401.6 L39.9,402.2 L40.4,402.1 L40.9,401.0 L41.4,400.6 L41.9,400.3 L42.4,400.9 L42.9,401.5 L43.4,401.9 L43.9,401.4 L44.4,400.3 L44.9,400.9 L45.4,401.7 L45.9,401.3 L46.4,401.2 L46.9,400.3 L47.4,400.4 L47.9,400.8 L48.4,401.9 L48.9,400.8 L49.4,401.4 L49.9,400.4 L50.4,401.9 L50.9,398.9 L51.4,400.4 L51.9,401.9 L52.4,401.7 L52.9,400.6 L53.4,400.6 L53.9,399.8 L54.4,400.6 L54.9,401.5 L55.4,401.7 L55.9,401.9 L56.4,401.2 L56.9,400.6 L57.4,400.5 L57.9,400.9 L58.4,402.1 L58.9,402.1 L59.4,402.1 L59.9,402.3 L60.4,402.3 L60.9,402.1 L61.4,402.0 L61.9,402.2 L62.4,401.9 L62.9,401.8 L63.4,401.8 L63.9,402.0 L64.4,401.8 L64.9,402.2 L65.4,402.4 L65.9,401.9 L66.4,402.3 L66.9,401.8 L67.4,402.2 L67.9,402.1 L68.4,402.3 L68.9,402.0 L69.4,402.3 L69.9,401.3 L70.4,402.0 L70.9,401.8 L71.4,402.0 L71.9,401.9 L72.4,402.4 L72.9,401.9 L73.4,402.3 L73.9,402.0 L74.4,402.4 L74.9,402.4 L75.4,402.1 L75.9,402.4 L76.4,402.2 L76.9,402.1 L77.4,400.1 L77.9,401.9 L78.4,402.4 L78.9,401.8 L79.4,402.3 L79.9,401.8 L80.4,402.1 L80.9,402.3 L81.4,402.0 L81.9,402.0 L82.4,402.1 L82.9,401.8 L83.4,399.9 L83.9,402.3 L84.4,402.3 L84.9,401.8 L85.4,402.1 L85.9,402.2 L86.4,401.9 L86.9,402.1 L87.4,401.6 L87.9,402.0 L88.4,401.0 L88.9,400.9 L89.4,400.3 L89.9,400.7 L90.4,401.3 L90.9,401.6 L91.4,400.0 L91.9,401.6 L92.4,400.6 L92.9,400.3 L93.4,398.6 L93.9,401.3 L94.4,400.7 L94.9,399.9 L95.4,400.9 L95.9,400.1 L96.4,400.2 L96.9,400.4 L97.4,399.9 L97.9,400.3 L98.4,400.6 L98.9,401.3 L99.4,401.3 L99.9,400.8 L100.4,400.4 L100.9,399.9 L101.4,400.4 L101.9,401.0 L102.4,401.1 L102.9,400.8 L103.4,402.0 L103.9,402.3 L104.4,402.3 L104.9,402.1 L105.4,402.1 L105.9,402.1 L106.4,402.4 L106.9,401.7 L107.4,402.2 L107.9,401.9 L108.4,401.5 L108.9,402.3 L109.4,402.1 L109.9,401.8 L110.4,402.0 L110.9,402.0 L111.4,401.8 L111.9,402.4 L112.4,402.0 L112.9,402.3 L113.4,401.9 L113.9,401.6 L114.4,400.9 L114.9,399.1 L115.4,400.6 L115.9,398.4 L116.4,400.7 L116.9,401.1 L117.4,399.0 L117.9,398.9 L118.4,398.7 L118.9,398.9 L119.4,398.9 L119.9,400.9 L120.4,400.2 L120.9,400.2 L121.4,400.4 L121.9,401.1 L122.4,401.7 L122.9,400.4 L123.4,401.1 L123.9,400.5 L124.4,398.7 L124.9,401.7 L125.4,401.7 L125.9,401.0 L126.4,401.1 L126.9,400.7 L127.4,401.4 L127.9,400.4 L128.4,399.5 L128.9,401.5 L129.4,401.5 L129.9,402.2 L130.4,401.7 L130.9,402.1 L131.4,402.1 L131.9,401.9 L132.4,402.2 L132.9,402.4 L133.4,402.3 L133.9,402.1 L134.4,402.2 L134.9,402.0 L135.4,402.3 L135.9,401.7 L136.4,400.6 L136.9,400.6 L137.4,402.1 L137.9,401.8 L138.4,402.3 L138.9,402.4 L139.4,402.0 L139.9,401.8 L140.4,402.3 L140.9,401.9 L141.4,401.7 L141.9,402.3 L142.4,402.3 L142.9,402.0 L143.4,399.9 L143.9,402.2 L144.4,401.8 L144.9,401.9 L145.4,402.0 L145.9,402.4 L146.4,402.0 L146.9,402.0 L147.4,402.2 L147.9,402.3 L148.4,402.2 L148.9,402.0 L149.4,401.8 L149.9,402.2 L150.4,401.8 L150.9,402.1 L151.4,401.7 L151.9,402.3 L152.4,402.2 L152.9,400.6 L153.4,402.2 L153.9,401.8 L154.4,402.0 L154.9,402.2 L155.4,402.0 L155.9,401.9 L156.4,402.2 L156.9,401.8 L157.4,401.8 L157.9,402.3 L158.4,402.4 L158.9,401.9 L159.4,402.1 L159.9,402.3 L160.4,401.7 L160.9,401.6 L161.4,401.8 L161.9,401.9 L162.4,401.0 L162.9,401.0 L163.4,401.2 L163.9,401.5 L164.4,400.4 L164.9,401.9 L165.4,401.6 L165.9,401.1 L166.4,400.4 L166.9,400.0 L167.4,400.9 L167.9,400.0 L168.4,400.5 L168.9,401.9 L169.4,400.4 L169.9,401.7 L170.4,400.6 L170.9,401.3 L171.4,402.1 L171.9,401.7 L172.4,402.3 L172.9,401.8 L173.4,402.0 L173.9,402.0 L174.4,402.3 L174.9,402.3 L175.4,402.3 L175.9,402.4 L176.4,402.0 L176.9,399.7 L177.4,402.0 L177.9,400.3 L178.4,402.3 L178.9,402.0 L179.4,402.1 L179.9,402.0 L180.4,402.1 L180.9,402.1 L181.4,402.2 L181.9,402.1 L182.4,402.3 L182.9,401.7 L183.4,401.9 L183.9,402.3 L184.4,401.8 L184.9,402.4 L185.4,402.0 L185.9,401.9 L186.4,402.2 L186.9,402.1 L187.4,401.0 L187.9,401.2 L188.4,401.1 L188.9,400.1 L189.4,401.9 L189.9,400.4 L190.4,401.7 L190.9,401.5 L191.4,400.9 L191.9,400.7 L192.4,400.5 L192.9,400.7 L193.4,401.5 L193.9,399.1 L194.4,400.8 L194.9,401.1 L195.4,401.9 L195.9,401.2 L196.4,401.7 L196.9,402.1 L197.4,402.1 L197.9,401.8 L198.4,402.2 L198.9,402.3 L199.4,402.3 L199.9,401.8 L200.4,402.1 L200.9,399.6 L201.4,399.4 L201.9,402.0 L202.4,402.1 L202.9,402.0 L203.4,401.8 L203.9,402.4 L204.4,402.0 L204.9,400.1 L205.4,402.1 L205.9,401.7 L206.4,400.6 L206.9,401.9 L207.4,401.9 L207.9,401.8 L208.4,401.8 L208.9,402.0 L209.4,401.9 L209.9,401.9 L210.4,402.2 L210.9,401.8 L211.4,402.2 L211.9,401.5 L212.4,402.3 L212.9,402.2 L213.4,401.8 L213.9,402.0 L214.4,402.1 L214.9,402.2 L215.4,402.1 L215.9,402.3 L216.4,401.5 L216.9,402.0 L217.4,401.6 L217.9,401.6 L218.4,401.2 L218.9,400.5 L219.4,400.5 L219.9,400.5 L220.4,400.8 L220.9,401.1 L221.4,400.2 L221.9,398.0 L222.4,400.6 L222.9,400.8 L223.4,400.8 L223.9,400.8 L224.4,400.5 L224.9,400.8 L225.4,400.2 L225.9,399.9 L226.4,401.3 L226.9,401.2 L227.4,401.2 L227.9,401.2 L228.4,401.6 L228.9,401.4 L229.4,400.2 L229.9,396.7 L230.4,396.7 L230.9,398.2 L231.4,394.0 L231.9,392.7 L232.4,390.9 L232.9,396.3 L233.4,394.9 L233.9,399.3 L234.4,398.2 L234.9,400.9 L235.4,401.7 L235.9,400.9 L236.4,402.0 L236.4,402.7 Z" fill="#1616dc" stroke="none"/>
<line x1="13.30" y1="402.70" x2="237.40" y2="402.70" stroke="#0a0a90" stroke-width="1.0"/>
<rect x="13.30" y="381.90" width="224.10" height="21.60" fill="none" stroke="#707070" stroke-width="1.05"/>
<line x1="21.30" y1="381.90" x2="21.30" y2="384.80" stroke="#555" stroke-width="0.9"/>
<line x1="21.30" y1="403.50" x2="21.30" y2="400.60" stroke="#555" stroke-width="0.9"/>
<line x1="54.62" y1="381.90" x2="54.62" y2="384.80" stroke="#555" stroke-width="0.9"/>
<line x1="54.62" y1="403.50" x2="54.62" y2="400.60" stroke="#555" stroke-width="0.9"/>
<line x1="87.94" y1="381.90" x2="87.94" y2="384.80" stroke="#555" stroke-width="0.9"/>
<line x1="87.94" y1="403.50" x2="87.94" y2="400.60" stroke="#555" stroke-width="0.9"/>
<line x1="121.26" y1="381.90" x2="121.26" y2="384.80" stroke="#555" stroke-width="0.9"/>
<line x1="121.26" y1="403.50" x2="121.26" y2="400.60" stroke="#555" stroke-width="0.9"/>
<line x1="154.58" y1="381.90" x2="154.58" y2="384.80" stroke="#555" stroke-width="0.9"/>
<line x1="154.58" y1="403.50" x2="154.58" y2="400.60" stroke="#555" stroke-width="0.9"/>
<line x1="187.90" y1="381.90" x2="187.90" y2="384.80" stroke="#555" stroke-width="0.9"/>
<line x1="187.90" y1="403.50" x2="187.90" y2="400.60" stroke="#555" stroke-width="0.9"/>
<line x1="221.22" y1="381.90" x2="221.22" y2="384.80" stroke="#555" stroke-width="0.9"/>
<line x1="221.22" y1="403.50" x2="221.22" y2="400.60" stroke="#555" stroke-width="0.9"/>
<line x1="13.30" y1="384.70" x2="15.10" y2="384.70" stroke="#555" stroke-width="0.7"/>
<line x1="235.60" y1="384.70" x2="237.40" y2="384.70" stroke="#555" stroke-width="0.7"/>
<line x1="13.30" y1="402.20" x2="15.10" y2="402.20" stroke="#555" stroke-width="0.7"/>
<line x1="235.60" y1="402.20" x2="237.40" y2="402.20" stroke="#555" stroke-width="0.7"/>
<text x="12.70" y="387.49" font-family="Liberation Sans" font-size="5.8" text-anchor="end" fill="#000">40</text>
<text x="12.70" y="403.49" font-family="Liberation Sans" font-size="5.8" text-anchor="end" fill="#000">0</text>
<path d="M13.9,427.0 L13.9,422.6 L14.4,418.6 L14.9,421.0 L15.4,419.5 L15.9,419.6 L16.4,418.5 L16.9,416.3 L17.4,416.3 L17.9,411.6 L18.4,410.1 L18.9,417.9 L19.4,420.9 L19.9,416.9 L20.4,414.6 L20.9,414.7 L21.4,414.9 L21.9,419.5 L22.4,418.3 L22.9,419.3 L23.4,420.8 L23.9,418.0 L24.4,419.4 L24.9,413.9 L25.4,410.6 L25.9,408.5 L26.4,407.6 L26.9,407.6 L27.4,421.2 L27.9,419.1 L28.4,416.8 L28.9,417.1 L29.4,417.6 L29.9,412.4 L30.4,407.6 L30.9,407.6 L31.4,409.0 L31.9,407.6 L32.4,407.6 L32.9,407.6 L33.4,407.6 L33.9,414.1 L34.4,416.9 L34.9,420.4 L35.4,418.4 L35.9,416.6 L36.4,411.5 L36.9,409.2 L37.4,409.0 L37.9,410.1 L38.4,408.7 L38.9,412.2 L39.4,422.5 L39.9,422.3 L40.4,424.5 L40.9,422.4 L41.4,422.7 L41.9,421.0 L42.4,417.9 L42.9,418.6 L43.4,417.5 L43.9,411.9 L44.4,413.5 L44.9,416.2 L45.4,421.5 L45.9,422.5 L46.4,422.6 L46.9,423.4 L47.4,422.5 L47.9,423.7 L48.4,421.3 L48.9,423.8 L49.4,423.3 L49.9,423.1 L50.4,420.7 L50.9,419.9 L51.4,415.6 L51.9,414.3 L52.4,415.5 L52.9,416.6 L53.4,414.6 L53.9,408.1 L54.4,408.3 L54.9,407.6 L55.4,413.8 L55.9,412.1 L56.4,416.8 L56.9,418.5 L57.4,421.3 L57.9,423.8 L58.4,423.6 L58.9,425.3 L59.4,424.9 L59.9,426.1 L60.4,425.5 L60.9,425.8 L61.4,425.6 L61.9,425.9 L62.4,426.0 L62.9,426.4 L63.4,426.0 L63.9,425.9 L64.4,425.9 L64.9,426.1 L65.4,426.2 L65.9,426.0 L66.4,426.1 L66.9,426.5 L67.4,426.0 L67.9,426.4 L68.4,426.5 L68.9,426.1 L69.4,426.3 L69.9,426.3 L70.4,426.5 L70.9,426.0 L71.4,426.0 L71.9,426.1 L72.4,425.7 L72.9,425.6 L73.4,425.7 L73.9,425.7 L74.4,426.3 L74.9,425.4 L75.4,424.1 L75.9,423.9 L76.4,423.8 L76.9,420.4 L77.4,422.3 L77.9,423.5 L78.4,424.1 L78.9,425.2 L79.4,424.3 L79.9,424.9 L80.4,425.2 L80.9,425.1 L81.4,425.8 L81.9,425.8 L82.4,426.2 L82.9,425.8 L83.4,426.4 L83.9,426.4 L84.4,426.0 L84.9,426.2 L85.4,426.3 L85.9,426.4 L86.4,426.0 L86.9,426.6 L87.4,426.3 L87.9,425.9 L88.4,426.2 L88.9,426.4 L89.4,426.1 L89.9,426.6 L90.4,426.1 L90.9,426.3 L91.4,426.4 L91.9,426.5 L92.4,426.1 L92.9,426.2 L93.4,426.2 L93.9,426.2 L94.4,426.4 L94.9,426.3 L95.4,426.0 L95.9,426.1 L96.4,426.2 L96.9,426.0 L97.4,426.4 L97.9,426.3 L98.4,426.0 L98.9,426.1 L99.4,426.3 L99.9,426.4 L100.4,426.3 L100.9,426.4 L101.4,426.0 L101.9,426.1 L102.4,425.7 L102.9,426.2 L103.4,426.5 L103.9,426.0 L104.4,425.5 L104.9,426.4 L105.4,425.9 L105.9,425.9 L106.4,426.2 L106.9,426.0 L107.4,426.6 L107.9,426.0 L108.4,426.3 L108.9,425.9 L109.4,426.4 L109.9,426.3 L110.4,425.0 L110.9,426.4 L111.4,424.5 L111.9,423.4 L112.4,423.5 L112.9,424.6 L113.4,424.0 L113.9,424.1 L114.4,423.9 L114.9,424.3 L115.4,425.2 L115.9,425.1 L116.4,425.7 L116.9,424.8 L117.4,425.1 L117.9,424.6 L118.4,423.7 L118.9,418.8 L119.4,417.0 L119.9,408.3 L120.4,416.2 L120.9,419.3 L121.4,423.3 L121.9,424.5 L122.4,424.5 L122.9,425.6 L123.4,425.0 L123.9,424.9 L124.4,425.8 L124.9,425.4 L125.4,425.6 L125.9,425.8 L126.4,425.9 L126.9,426.1 L127.4,425.5 L127.9,425.5 L128.4,423.4 L128.9,424.1 L129.4,424.2 L129.9,424.8 L130.4,425.4 L130.9,425.4 L131.4,425.6 L131.9,426.0 L132.4,426.2 L132.9,425.6 L133.4,423.6 L133.9,422.1 L134.4,417.7 L134.9,420.4 L135.4,416.1 L135.9,412.8 L136.4,411.2 L136.9,414.3 L137.4,416.3 L137.9,407.6 L138.4,415.6 L138.9,418.1 L139.4,420.8 L139.9,424.2 L140.4,425.0 L140.9,425.2 L141.4,425.9 L141.9,426.4 L142.4,426.2 L142.9,426.2 L143.4,426.6 L143.9,426.0 L144.4,426.6 L144.9,426.4 L145.4,426.5 L145.9,426.2 L146.4,426.5 L146.9,426.3 L147.4,426.0 L147.9,426.2 L148.4,425.6 L148.9,426.2 L149.4,426.2 L149.9,426.0 L150.4,426.4 L150.9,426.2 L151.4,426.3 L151.9,426.4 L152.4,426.3 L152.9,426.0 L153.4,426.4 L153.9,426.3 L154.4,426.0 L154.9,426.6 L155.4,426.0 L155.9,425.8 L156.4,425.9 L156.9,426.1 L157.4,426.4 L157.9,426.5 L158.4,426.1 L158.9,426.2 L159.4,426.2 L159.9,426.3 L160.4,426.4 L160.9,426.1 L161.4,426.1 L161.9,426.4 L162.4,426.4 L162.9,426.3 L163.4,426.0 L163.9,426.2 L164.4,426.0 L164.9,424.9 L165.4,426.0 L165.9,426.0 L166.4,425.0 L166.9,426.1 L167.4,426.3 L167.9,426.5 L168.4,426.2 L168.9,425.6 L169.4,426.2 L169.9,426.7 L170.4,426.5 L170.9,426.2 L171.4,426.1 L171.9,426.0 L172.4,426.3 L172.9,425.9 L173.4,425.3 L173.9,426.1 L174.4,426.1 L174.9,426.0 L175.4,426.1 L175.9,426.2 L176.4,423.3 L176.9,420.5 L177.4,421.0 L177.9,419.2 L178.4,420.2 L178.9,413.9 L179.4,410.6 L179.9,408.8 L180.4,412.0 L180.9,415.9 L181.4,421.4 L181.9,425.9 L182.4,425.2 L182.9,425.2 L183.4,425.7 L183.9,422.1 L184.4,420.1 L184.9,416.2 L185.4,419.4 L185.9,416.8 L186.4,421.8 L186.9,422.6 L187.4,422.9 L187.9,425.3 L188.4,425.1 L188.9,425.6 L189.4,425.0 L189.9,425.9 L190.4,423.7 L190.9,422.5 L191.4,422.5 L191.9,421.4 L192.4,420.2 L192.9,417.6 L193.4,415.7 L193.9,414.8 L194.4,417.4 L194.9,417.6 L195.4,421.8 L195.9,421.5 L196.4,420.9 L196.9,417.8 L197.4,421.6 L197.9,419.8 L198.4,418.9 L198.9,419.7 L199.4,419.8 L199.9,422.7 L200.4,424.3 L200.9,425.2 L201.4,425.7 L201.9,425.7 L202.4,424.8 L202.9,425.2 L203.4,425.2 L203.9,425.4 L204.4,424.7 L204.9,424.2 L205.4,425.1 L205.9,426.0 L206.4,425.8 L206.9,426.0 L207.4,425.9 L207.9,426.3 L208.4,425.9 L208.9,426.1 L209.4,425.9 L209.9,426.1 L210.4,426.1 L210.9,425.7 L211.4,426.0 L211.9,425.8 L212.4,426.3 L212.9,426.0 L213.4,426.6 L213.9,425.6 L214.4,425.2 L214.9,424.6 L215.4,425.4 L215.9,423.7 L216.4,423.3 L216.9,425.7 L217.4,424.4 L217.9,425.8 L218.4,426.0 L218.9,426.4 L219.4,425.9 L219.9,426.0 L220.4,425.6 L220.9,426.4 L221.4,424.4 L221.9,426.0 L222.4,425.8 L222.9,425.8 L223.4,425.4 L223.9,425.6 L224.4,425.7 L224.9,425.7 L225.4,425.7 L225.9,425.9 L226.4,425.9 L226.9,425.4 L227.4,425.0 L227.9,424.1 L228.4,424.9 L228.9,424.5 L229.4,425.5 L229.9,425.1 L230.4,425.8 L230.9,426.1 L231.4,425.3 L231.9,425.0 L232.4,426.0 L232.9,424.9 L233.4,425.6 L233.9,425.5 L234.4,425.0 L234.9,424.3 L235.4,424.8 L235.9,424.5 L236.4,425.3 L236.4,427.0 Z" fill="#18ec18" stroke="none"/>
<line x1="13.30" y1="427.00" x2="237.40" y2="427.00" stroke="#0a9a0a" stroke-width="1.0"/>
<rect x="13.30" y="406.20" width="224.10" height="21.60" fill="none" stroke="#707070" stroke-width="1.05"/>
<line x1="21.30" y1="406.20" x2="21.30" y2="409.10" stroke="#555" stroke-width="0.9"/>
<line x1="21.30" y1="427.80" x2="21.30" y2="424.90" stroke="#555" stroke-width="0.9"/>
<line x1="54.62" y1="406.20" x2="54.62" y2="409.10" stroke="#555" stroke-width="0.9"/>
<line x1="54.62" y1="427.80" x2="54.62" y2="424.90" stroke="#555" stroke-width="0.9"/>
<line x1="87.94" y1="406.20" x2="87.94" y2="409.10" stroke="#555" stroke-width="0.9"/>
<line x1="87.94" y1="427.80" x2="87.94" y2="424.90" stroke="#555" stroke-width="0.9"/>
<line x1="121.26" y1="406.20" x2="121.26" y2="409.10" stroke="#555" stroke-width="0.9"/>
<line x1="121.26" y1="427.80" x2="121.26" y2="424.90" stroke="#555" stroke-width="0.9"/>
<line x1="154.58" y1="406.20" x2="154.58" y2="409.10" stroke="#555" stroke-width="0.9"/>
<line x1="154.58" y1="427.80" x2="154.58" y2="424.90" stroke="#555" stroke-width="0.9"/>
<line x1="187.90" y1="406.20" x2="187.90" y2="409.10" stroke="#555" stroke-width="0.9"/>
<line x1="187.90" y1="427.80" x2="187.90" y2="424.90" stroke="#555" stroke-width="0.9"/>
<line x1="221.22" y1="406.20" x2="221.22" y2="409.10" stroke="#555" stroke-width="0.9"/>
<line x1="221.22" y1="427.80" x2="221.22" y2="424.90" stroke="#555" stroke-width="0.9"/>
<line x1="13.30" y1="409.00" x2="15.10" y2="409.00" stroke="#555" stroke-width="0.7"/>
<line x1="235.60" y1="409.00" x2="237.40" y2="409.00" stroke="#555" stroke-width="0.7"/>
<line x1="13.30" y1="426.50" x2="15.10" y2="426.50" stroke="#555" stroke-width="0.7"/>
<line x1="235.60" y1="426.50" x2="237.40" y2="426.50" stroke="#555" stroke-width="0.7"/>
<text x="12.70" y="411.79" font-family="Liberation Sans" font-size="5.8" text-anchor="end" fill="#000">50</text>
<text x="12.70" y="427.79" font-family="Liberation Sans" font-size="5.8" text-anchor="end" fill="#000">0</text>
<path d="M13.9,451.1 L13.9,445.6 L14.4,444.9 L14.9,448.3 L15.4,447.7 L15.9,449.0 L16.4,447.0 L16.9,431.7 L17.4,431.7 L17.9,431.7 L18.4,433.7 L18.9,431.7 L19.4,432.2 L19.9,433.2 L20.4,433.4 L20.9,439.6 L21.4,445.8 L21.9,446.2 L22.4,445.4 L22.9,436.4 L23.4,432.9 L23.9,431.7 L24.4,431.7 L24.9,431.7 L25.4,439.4 L25.9,447.6 L26.4,448.8 L26.9,438.8 L27.4,431.7 L27.9,431.7 L28.4,431.7 L28.9,433.1 L29.4,431.7 L29.9,432.0 L30.4,431.7 L30.9,445.2 L31.4,434.3 L31.9,431.7 L32.4,431.7 L32.9,432.1 L33.4,431.7 L33.9,431.7 L34.4,431.7 L34.9,431.7 L35.4,431.8 L35.9,445.0 L36.4,447.9 L36.9,442.5 L37.4,431.7 L37.9,433.1 L38.4,431.7 L38.9,431.7 L39.4,439.7 L39.9,448.2 L40.4,446.3 L40.9,448.3 L41.4,446.3 L41.9,440.1 L42.4,431.7 L42.9,431.7 L43.4,433.2 L43.9,432.8 L44.4,431.7 L44.9,431.9 L45.4,431.7 L45.9,437.9 L46.4,442.1 L46.9,445.9 L47.4,446.8 L47.9,449.4 L48.4,449.4 L48.9,447.9 L49.4,445.7 L49.9,443.3 L50.4,445.5 L50.9,441.3 L51.4,439.4 L51.9,431.7 L52.4,431.7 L52.9,431.7 L53.4,431.7 L53.9,431.7 L54.4,431.7 L54.9,431.7 L55.4,431.7 L55.9,433.3 L56.4,431.7 L56.9,431.7 L57.4,431.7 L57.9,440.1 L58.4,442.9 L58.9,446.1 L59.4,445.6 L59.9,446.9 L60.4,448.9 L60.9,449.3 L61.4,450.2 L61.9,450.0 L62.4,450.0 L62.9,450.6 L63.4,450.0 L63.9,450.7 L64.4,450.2 L64.9,450.0 L65.4,450.5 L65.9,450.3 L66.4,449.9 L66.9,450.2 L67.4,450.3 L67.9,450.1 L68.4,450.0 L68.9,449.1 L69.4,450.2 L69.9,450.4 L70.4,450.0 L70.9,450.3 L71.4,450.0 L71.9,450.2 L72.4,450.1 L72.9,449.5 L73.4,449.5 L73.9,449.8 L74.4,449.8 L74.9,447.3 L75.4,448.0 L75.9,441.5 L76.4,439.6 L76.9,444.6 L77.4,437.6 L77.9,443.3 L78.4,442.6 L78.9,445.8 L79.4,445.6 L79.9,441.5 L80.4,442.0 L80.9,447.1 L81.4,447.8 L81.9,449.8 L82.4,448.7 L82.9,449.8 L83.4,449.1 L83.9,448.1 L84.4,449.1 L84.9,447.0 L85.4,446.7 L85.9,448.1 L86.4,445.5 L86.9,445.5 L87.4,447.4 L87.9,447.2 L88.4,446.1 L88.9,448.5 L89.4,446.6 L89.9,448.9 L90.4,445.9 L90.9,445.2 L91.4,447.5 L91.9,449.5 L92.4,449.9 L92.9,449.5 L93.4,450.4 L93.9,450.0 L94.4,450.4 L94.9,449.6 L95.4,449.5 L95.9,450.2 L96.4,450.2 L96.9,449.8 L97.4,449.9 L97.9,449.8 L98.4,449.6 L98.9,450.1 L99.4,449.7 L99.9,449.9 L100.4,450.0 L100.9,450.5 L101.4,449.8 L101.9,450.5 L102.4,449.9 L102.9,449.9 L103.4,450.2 L103.9,450.2 L104.4,449.8 L104.9,450.2 L105.4,450.1 L105.9,450.3 L106.4,449.8 L106.9,450.0 L107.4,449.6 L107.9,450.1 L108.4,449.5 L108.9,449.5 L109.4,449.2 L109.9,449.1 L110.4,446.1 L110.9,447.5 L111.4,440.3 L111.9,443.7 L112.4,439.9 L112.9,440.3 L113.4,448.3 L113.9,445.4 L114.4,447.3 L114.9,446.9 L115.4,447.2 L115.9,449.0 L116.4,447.3 L116.9,448.4 L117.4,448.8 L117.9,441.0 L118.4,437.7 L118.9,431.7 L119.4,431.7 L119.9,431.7 L120.4,432.6 L120.9,431.7 L121.4,431.7 L121.9,442.9 L122.4,442.8 L122.9,446.2 L123.4,448.2 L123.9,446.7 L124.4,448.1 L124.9,446.3 L125.4,447.7 L125.9,447.7 L126.4,447.6 L126.9,446.6 L127.4,448.4 L127.9,448.1 L128.4,439.7 L128.9,445.0 L129.4,443.1 L129.9,442.6 L130.4,446.8 L130.9,448.8 L131.4,448.0 L131.9,447.9 L132.4,448.3 L132.9,448.7 L133.4,446.7 L133.9,439.9 L134.4,432.5 L134.9,432.1 L135.4,431.7 L135.9,432.4 L136.4,431.7 L136.9,432.1 L137.4,431.7 L137.9,431.7 L138.4,432.3 L138.9,431.7 L139.4,431.7 L139.9,431.7 L140.4,432.8 L140.9,442.8 L141.4,445.4 L141.9,444.4 L142.4,446.9 L142.9,446.9 L143.4,446.3 L143.9,447.7 L144.4,447.7 L144.9,448.0 L145.4,447.1 L145.9,447.1 L146.4,448.4 L146.9,449.2 L147.4,449.7 L147.9,449.9 L148.4,449.4 L148.9,448.5 L149.4,449.4 L149.9,449.5 L150.4,449.2 L150.9,448.9 L151.4,449.2 L151.9,449.6 L152.4,449.4 L152.9,449.5 L153.4,449.3 L153.9,449.8 L154.4,450.0 L154.9,449.8 L155.4,449.4 L155.9,449.9 L156.4,449.4 L156.9,449.6 L157.4,449.5 L157.9,448.2 L158.4,448.5 L158.9,449.4 L159.4,449.5 L159.9,449.9 L160.4,449.7 L160.9,449.7 L161.4,449.6 L161.9,450.1 L162.4,449.6 L162.9,448.2 L163.4,449.6 L163.9,449.6 L164.4,449.6 L164.9,449.1 L165.4,449.9 L165.9,449.4 L166.4,449.7 L166.9,449.8 L167.4,449.0 L167.9,449.4 L168.4,449.1 L168.9,449.5 L169.4,447.2 L169.9,442.1 L170.4,447.2 L170.9,449.6 L171.4,448.5 L171.9,449.6 L172.4,449.4 L172.9,448.6 L173.4,448.7 L173.9,449.8 L174.4,449.6 L174.9,449.7 L175.4,449.4 L175.9,447.8 L176.4,441.8 L176.9,431.7 L177.4,431.7 L177.9,431.7 L178.4,431.7 L178.9,432.4 L179.4,431.7 L179.9,431.7 L180.4,431.9 L180.9,431.7 L181.4,431.7 L181.9,442.5 L182.4,447.8 L182.9,447.9 L183.4,447.2 L183.9,441.7 L184.4,433.7 L184.9,431.7 L185.4,431.7 L185.9,431.7 L186.4,431.7 L186.9,431.7 L187.4,431.7 L187.9,439.3 L188.4,446.7 L188.9,445.8 L189.4,448.1 L189.9,448.4 L190.4,445.7 L190.9,433.7 L191.4,431.7 L191.9,431.7 L192.4,431.7 L192.9,431.7 L193.4,432.0 L193.9,431.7 L194.4,431.7 L194.9,437.7 L195.4,439.6 L195.9,432.3 L196.4,431.7 L196.9,431.7 L197.4,431.7 L197.9,442.4 L198.4,432.1 L198.9,431.7 L199.4,431.7 L199.9,431.9 L200.4,437.9 L200.9,448.2 L201.4,447.2 L201.9,447.6 L202.4,448.6 L202.9,449.1 L203.4,448.4 L203.9,449.4 L204.4,449.3 L204.9,448.7 L205.4,448.5 L205.9,449.3 L206.4,449.1 L206.9,448.7 L207.4,449.4 L207.9,448.4 L208.4,445.3 L208.9,447.3 L209.4,446.4 L209.9,447.1 L210.4,448.3 L210.9,448.3 L211.4,449.1 L211.9,449.3 L212.4,447.7 L212.9,448.4 L213.4,448.8 L213.9,448.8 L214.4,448.9 L214.9,448.6 L215.4,449.1 L215.9,449.3 L216.4,449.4 L216.9,449.1 L217.4,448.9 L217.9,448.9 L218.4,448.9 L218.9,449.4 L219.4,449.4 L219.9,448.3 L220.4,445.6 L220.9,446.6 L221.4,449.0 L221.9,450.1 L222.4,449.4 L222.9,449.5 L223.4,448.5 L223.9,449.0 L224.4,449.5 L224.9,448.0 L225.4,448.0 L225.9,450.1 L226.4,449.6 L226.9,449.4 L227.4,448.6 L227.9,444.5 L228.4,440.4 L228.9,444.3 L229.4,448.5 L229.9,448.2 L230.4,448.4 L230.9,448.3 L231.4,448.6 L231.9,448.8 L232.4,449.1 L232.9,448.2 L233.4,448.1 L233.9,448.7 L234.4,444.9 L234.9,444.8 L235.4,439.2 L235.9,443.8 L236.4,445.6 L236.4,451.1 Z" fill="#1616dc" stroke="none"/>
<line x1="13.30" y1="451.10" x2="237.40" y2="451.10" stroke="#0a0a90" stroke-width="1.0"/>
<rect x="13.30" y="430.30" width="224.10" height="21.60" fill="none" stroke="#707070" stroke-width="1.05"/>
<line x1="21.30" y1="430.30" x2="21.30" y2="433.20" stroke="#555" stroke-width="0.9"/>
<line x1="21.30" y1="451.90" x2="21.30" y2="449.00" stroke="#555" stroke-width="0.9"/>
<line x1="54.62" y1="430.30" x2="54.62" y2="433.20" stroke="#555" stroke-width="0.9"/>
<line x1="54.62" y1="451.90" x2="54.62" y2="449.00" stroke="#555" stroke-width="0.9"/>
<line x1="87.94" y1="430.30" x2="87.94" y2="433.20" stroke="#555" stroke-width="0.9"/>
<line x1="87.94" y1="451.90" x2="87.94" y2="449.00" stroke="#555" stroke-width="0.9"/>
<line x1="121.26" y1="430.30" x2="121.26" y2="433.20" stroke="#555" stroke-width="0.9"/>
<line x1="121.26" y1="451.90" x2="121.26" y2="449.00" stroke="#555" stroke-width="0.9"/>
<line x1="154.58" y1="430.30" x2="154.58" y2="433.20" stroke="#555" stroke-width="0.9"/>
<line x1="154.58" y1="451.90" x2="154.58" y2="449.00" stroke="#555" stroke-width="0.9"/>
<line x1="187.90" y1="430.30" x2="187.90" y2="433.20" stroke="#555" stroke-width="0.9"/>
<line x1="187.90" y1="451.90" x2="187.90" y2="449.00" stroke="#555" stroke-width="0.9"/>
<line x1="221.22" y1="430.30" x2="221.22" y2="433.20" stroke="#555" stroke-width="0.9"/>
<line x1="221.22" y1="451.90" x2="221.22" y2="449.00" stroke="#555" stroke-width="0.9"/>
<line x1="13.30" y1="433.10" x2="15.10" y2="433.10" stroke="#555" stroke-width="0.7"/>
<line x1="235.60" y1="433.10" x2="237.40" y2="433.10" stroke="#555" stroke-width="0.7"/>
<line x1="13.30" y1="450.60" x2="15.10" y2="450.60" stroke="#555" stroke-width="0.7"/>
<line x1="235.60" y1="450.60" x2="237.40" y2="450.60" stroke="#555" stroke-width="0.7"/>
<text x="12.70" y="435.89" font-family="Liberation Sans" font-size="5.8" text-anchor="end" fill="#000">30</text>
<text x="12.70" y="451.89" font-family="Liberation Sans" font-size="5.8" text-anchor="end" fill="#000">0</text>
<path d="M13.9,475.2 L13.9,474.5 L14.4,473.4 L14.9,474.5 L15.4,474.5 L15.9,474.5 L16.4,473.0 L16.9,471.6 L17.4,471.8 L17.9,474.0 L18.4,474.3 L18.9,474.1 L19.4,473.3 L19.9,473.3 L20.4,473.9 L20.9,473.4 L21.4,473.4 L21.9,474.2 L22.4,473.7 L22.9,474.2 L23.4,474.4 L23.9,473.3 L24.4,473.9 L24.9,473.7 L25.4,473.0 L25.9,473.7 L26.4,473.5 L26.9,471.8 L27.4,471.8 L27.9,473.0 L28.4,473.9 L28.9,473.6 L29.4,473.7 L29.9,473.3 L30.4,473.6 L30.9,474.4 L31.4,474.5 L31.9,474.1 L32.4,474.2 L32.9,473.7 L33.4,473.6 L33.9,473.5 L34.4,473.6 L34.9,473.3 L35.4,474.0 L35.9,473.8 L36.4,474.2 L36.9,473.5 L37.4,473.7 L37.9,474.1 L38.4,473.6 L38.9,473.5 L39.4,473.3 L39.9,471.9 L40.4,472.1 L40.9,474.1 L41.4,473.7 L41.9,474.0 L42.4,474.3 L42.9,473.8 L43.4,474.1 L43.9,474.3 L44.4,472.8 L44.9,474.0 L45.4,474.1 L45.9,473.3 L46.4,474.0 L46.9,474.3 L47.4,474.0 L47.9,474.4 L48.4,474.4 L48.9,474.1 L49.4,473.5 L49.9,473.3 L50.4,473.8 L50.9,474.4 L51.4,473.4 L51.9,473.9 L52.4,474.1 L52.9,473.6 L53.4,474.0 L53.9,474.4 L54.4,474.2 L54.9,473.9 L55.4,473.7 L55.9,464.5 L56.4,455.8 L56.9,457.6 L57.4,471.3 L57.9,473.4 L58.4,471.1 L58.9,471.5 L59.4,473.9 L59.9,473.3 L60.4,474.3 L60.9,474.1 L61.4,474.2 L61.9,474.2 L62.4,474.3 L62.9,474.1 L63.4,473.5 L63.9,474.4 L64.4,473.3 L64.9,474.1 L65.4,472.4 L65.9,473.7 L66.4,473.3 L66.9,473.5 L67.4,474.1 L67.9,474.6 L68.4,474.5 L68.9,471.8 L69.4,473.5 L69.9,474.3 L70.4,472.8 L70.9,473.3 L71.4,474.2 L71.9,473.4 L72.4,474.1 L72.9,473.2 L73.4,473.6 L73.9,473.5 L74.4,474.2 L74.9,474.2 L75.4,473.7 L75.9,473.9 L76.4,471.6 L76.9,474.6 L77.4,474.3 L77.9,474.3 L78.4,474.2 L78.9,473.6 L79.4,473.3 L79.9,473.9 L80.4,474.2 L80.9,470.7 L81.4,474.2 L81.9,474.2 L82.4,473.9 L82.9,473.6 L83.4,472.0 L83.9,470.4 L84.4,474.3 L84.9,474.0 L85.4,472.0 L85.9,473.6 L86.4,473.6 L86.9,474.4 L87.4,471.2 L87.9,474.4 L88.4,474.2 L88.9,473.3 L89.4,473.6 L89.9,473.8 L90.4,474.5 L90.9,474.3 L91.4,474.1 L91.9,474.3 L92.4,473.4 L92.9,474.0 L93.4,471.1 L93.9,474.3 L94.4,474.5 L94.9,472.9 L95.4,473.4 L95.9,474.2 L96.4,473.8 L96.9,473.7 L97.4,474.4 L97.9,473.6 L98.4,474.0 L98.9,474.1 L99.4,473.9 L99.9,474.5 L100.4,473.9 L100.9,471.0 L101.4,474.4 L101.9,474.4 L102.4,473.3 L102.9,474.1 L103.4,470.5 L103.9,474.2 L104.4,474.4 L104.9,473.9 L105.4,474.3 L105.9,473.6 L106.4,473.3 L106.9,470.8 L107.4,473.8 L107.9,474.1 L108.4,473.5 L108.9,474.1 L109.4,473.7 L109.9,474.6 L110.4,474.0 L110.9,471.1 L111.4,473.5 L111.9,473.7 L112.4,474.0 L112.9,474.6 L113.4,474.4 L113.9,474.2 L114.4,474.5 L114.9,474.0 L115.4,474.4 L115.9,474.1 L116.4,474.4 L116.9,472.2 L117.4,473.5 L117.9,474.4 L118.4,474.4 L118.9,473.9 L119.4,471.1 L119.9,474.4 L120.4,473.5 L120.9,473.8 L121.4,473.5 L121.9,474.5 L122.4,474.4 L122.9,474.3 L123.4,473.7 L123.9,472.6 L124.4,473.4 L124.9,473.8 L125.4,473.7 L125.9,473.2 L126.4,472.1 L126.9,472.5 L127.4,471.0 L127.9,472.2 L128.4,468.9 L128.9,472.1 L129.4,470.6 L129.9,467.6 L130.4,470.4 L130.9,470.7 L131.4,469.6 L131.9,470.6 L132.4,470.3 L132.9,471.7 L133.4,471.4 L133.9,469.4 L134.4,472.4 L134.9,472.2 L135.4,471.6 L135.9,468.5 L136.4,473.2 L136.9,472.3 L137.4,469.7 L137.9,470.7 L138.4,467.5 L138.9,468.8 L139.4,471.0 L139.9,471.0 L140.4,471.0 L140.9,472.6 L141.4,474.1 L141.9,473.2 L142.4,474.5 L142.9,474.3 L143.4,474.3 L143.9,474.3 L144.4,471.3 L144.9,474.2 L145.4,474.5 L145.9,474.2 L146.4,474.1 L146.9,474.5 L147.4,473.7 L147.9,471.0 L148.4,474.1 L148.9,473.4 L149.4,471.9 L149.9,474.5 L150.4,474.5 L150.9,473.6 L151.4,473.3 L151.9,473.5 L152.4,473.7 L152.9,474.4 L153.4,473.4 L153.9,473.4 L154.4,473.3 L154.9,474.2 L155.4,474.5 L155.9,473.6 L156.4,474.5 L156.9,473.5 L157.4,474.3 L157.9,470.3 L158.4,473.7 L158.9,473.4 L159.4,473.0 L159.9,472.9 L160.4,474.5 L160.9,474.4 L161.4,474.0 L161.9,473.4 L162.4,474.3 L162.9,473.5 L163.4,473.3 L163.9,473.8 L164.4,473.6 L164.9,474.0 L165.4,472.9 L165.9,474.3 L166.4,473.7 L166.9,473.5 L167.4,472.7 L167.9,473.8 L168.4,473.5 L168.9,474.0 L169.4,474.3 L169.9,473.7 L170.4,473.7 L170.9,473.7 L171.4,473.7 L171.9,473.5 L172.4,473.9 L172.9,473.9 L173.4,474.1 L173.9,473.8 L174.4,474.2 L174.9,473.5 L175.4,473.8 L175.9,474.5 L176.4,474.2 L176.9,473.5 L177.4,473.4 L177.9,473.4 L178.4,474.1 L178.9,473.9 L179.4,471.9 L179.9,472.6 L180.4,473.9 L180.9,473.9 L181.4,472.8 L181.9,471.6 L182.4,473.5 L182.9,474.1 L183.4,473.5 L183.9,474.2 L184.4,474.0 L184.9,473.8 L185.4,473.9 L185.9,473.5 L186.4,470.8 L186.9,473.8 L187.4,474.0 L187.9,474.3 L188.4,474.0 L188.9,473.6 L189.4,473.3 L189.9,474.0 L190.4,474.0 L190.9,473.9 L191.4,474.2 L191.9,471.5 L192.4,473.4 L192.9,466.9 L193.4,464.9 L193.9,466.8 L194.4,473.4 L194.9,470.8 L195.4,474.5 L195.9,474.3 L196.4,474.4 L196.9,474.2 L197.4,473.6 L197.9,474.4 L198.4,474.1 L198.9,474.1 L199.4,474.4 L199.9,473.7 L200.4,473.7 L200.9,474.3 L201.4,473.9 L201.9,474.2 L202.4,473.3 L202.9,471.4 L203.4,474.2 L203.9,474.2 L204.4,473.7 L204.9,473.4 L205.4,473.5 L205.9,473.5 L206.4,474.2 L206.9,473.7 L207.4,473.9 L207.9,473.3 L208.4,473.3 L208.9,474.2 L209.4,473.5 L209.9,474.0 L210.4,473.3 L210.9,474.4 L211.4,474.2 L211.9,474.1 L212.4,474.5 L212.9,472.2 L213.4,473.4 L213.9,473.3 L214.4,473.7 L214.9,473.8 L215.4,471.5 L215.9,473.9 L216.4,474.4 L216.9,473.8 L217.4,470.5 L217.9,474.2 L218.4,474.1 L218.9,472.3 L219.4,474.2 L219.9,474.1 L220.4,471.4 L220.9,473.9 L221.4,473.9 L221.9,473.7 L222.4,471.7 L222.9,473.7 L223.4,474.4 L223.9,473.4 L224.4,473.3 L224.9,474.3 L225.4,473.6 L225.9,474.3 L226.4,474.4 L226.9,474.3 L227.4,474.3 L227.9,474.3 L228.4,474.0 L228.9,474.5 L229.4,472.0 L229.9,473.4 L230.4,474.2 L230.9,474.0 L231.4,474.5 L231.9,474.4 L232.4,472.0 L232.9,474.3 L233.4,473.7 L233.9,473.6 L234.4,474.0 L234.9,474.5 L235.4,474.1 L235.9,474.5 L236.4,473.4 L236.4,475.2 Z" fill="#18ec18" stroke="none"/>
<line x1="13.30" y1="475.20" x2="237.40" y2="475.20" stroke="#0a9a0a" stroke-width="1.0"/>
<rect x="13.30" y="454.40" width="224.10" height="21.60" fill="none" stroke="#707070" stroke-width="1.05"/>
<line x1="21.30" y1="454.40" x2="21.30" y2="457.30" stroke="#555" stroke-width="0.9"/>
<line x1="21.30" y1="476.00" x2="21.30" y2="473.10" stroke="#555" stroke-width="0.9"/>
<line x1="54.62" y1="454.40" x2="54.62" y2="457.30" stroke="#555" stroke-width="0.9"/>
<line x1="54.62" y1="476.00" x2="54.62" y2="473.10" stroke="#555" stroke-width="0.9"/>
<line x1="87.94" y1="454.40" x2="87.94" y2="457.30" stroke="#555" stroke-width="0.9"/>
<line x1="87.94" y1="476.00" x2="87.94" y2="473.10" stroke="#555" stroke-width="0.9"/>
<line x1="121.26" y1="454.40" x2="121.26" y2="457.30" stroke="#555" stroke-width="0.9"/>
<line x1="121.26" y1="476.00" x2="121.26" y2="473.10" stroke="#555" stroke-width="0.9"/>
<line x1="154.58" y1="454.40" x2="154.58" y2="457.30" stroke="#555" stroke-width="0.9"/>
<line x1="154.58" y1="476.00" x2="154.58" y2="473.10" stroke="#555" stroke-width="0.9"/>
<line x1="187.90" y1="454.40" x2="187.90" y2="457.30" stroke="#555" stroke-width="0.9"/>
<line x1="187.90" y1="476.00" x2="187.90" y2="473.10" stroke="#555" stroke-width="0.9"/>
<line x1="221.22" y1="454.40" x2="221.22" y2="457.30" stroke="#555" stroke-width="0.9"/>
<line x1="221.22" y1="476.00" x2="221.22" y2="473.10" stroke="#555" stroke-width="0.9"/>
<line x1="13.30" y1="457.20" x2="15.10" y2="457.20" stroke="#555" stroke-width="0.7"/>
<line x1="235.60" y1="457.20" x2="237.40" y2="457.20" stroke="#555" stroke-width="0.7"/>
<line x1="13.30" y1="474.70" x2="15.10" y2="474.70" stroke="#555" stroke-width="0.7"/>
<line x1="235.60" y1="474.70" x2="237.40" y2="474.70" stroke="#555" stroke-width="0.7"/>
<text x="12.70" y="459.99" font-family="Liberation Sans" font-size="5.8" text-anchor="end" fill="#000">30</text>
<text x="12.70" y="475.99" font-family="Liberation Sans" font-size="5.8" text-anchor="end" fill="#000">0</text>
<path d="M13.9,499.1 L13.9,495.8 L14.4,497.3 L14.9,496.5 L15.4,495.6 L15.9,494.3 L16.4,495.8 L16.9,497.3 L17.4,495.6 L17.9,497.0 L18.4,496.4 L18.9,493.4 L19.4,493.5 L19.9,496.5 L20.4,497.0 L20.9,497.3 L21.4,496.5 L21.9,492.8 L22.4,494.2 L22.9,497.4 L23.4,495.7 L23.9,497.5 L24.4,496.2 L24.9,495.2 L25.4,497.6 L25.9,495.7 L26.4,497.2 L26.9,493.5 L27.4,494.6 L27.9,496.2 L28.4,496.2 L28.9,495.5 L29.4,497.6 L29.9,495.8 L30.4,495.8 L30.9,497.0 L31.4,497.7 L31.9,494.7 L32.4,489.2 L32.9,479.7 L33.4,482.6 L33.9,496.9 L34.4,497.8 L34.9,496.9 L35.4,495.4 L35.9,495.9 L36.4,497.6 L36.9,497.8 L37.4,497.7 L37.9,497.2 L38.4,481.4 L38.9,479.7 L39.4,488.7 L39.9,497.2 L40.4,498.0 L40.9,497.5 L41.4,497.6 L41.9,497.9 L42.4,498.2 L42.9,497.6 L43.4,497.5 L43.9,497.6 L44.4,497.0 L44.9,495.4 L45.4,496.4 L45.9,493.2 L46.4,497.7 L46.9,495.8 L47.4,496.2 L47.9,495.7 L48.4,494.6 L48.9,497.1 L49.4,493.9 L49.9,495.9 L50.4,495.9 L50.9,496.4 L51.4,496.6 L51.9,497.6 L52.4,498.4 L52.9,498.0 L53.4,497.4 L53.9,497.7 L54.4,497.2 L54.9,497.2 L55.4,495.6 L55.9,479.7 L56.4,479.7 L56.9,491.7 L57.4,496.5 L57.9,497.3 L58.4,497.6 L58.9,497.6 L59.4,497.2 L59.9,498.0 L60.4,498.3 L60.9,496.0 L61.4,498.3 L61.9,498.3 L62.4,494.5 L62.9,497.7 L63.4,498.1 L63.9,497.3 L64.4,497.8 L64.9,496.8 L65.4,497.8 L65.9,498.1 L66.4,498.3 L66.9,498.0 L67.4,498.2 L67.9,497.5 L68.4,498.4 L68.9,497.3 L69.4,498.1 L69.9,498.2 L70.4,497.3 L70.9,498.0 L71.4,497.2 L71.9,497.6 L72.4,497.2 L72.9,497.9 L73.4,496.3 L73.9,498.4 L74.4,497.4 L74.9,498.1 L75.4,497.7 L75.9,497.3 L76.4,497.9 L76.9,498.0 L77.4,498.2 L77.9,497.8 L78.4,496.4 L78.9,496.5 L79.4,496.6 L79.9,498.0 L80.4,498.2 L80.9,497.5 L81.4,497.6 L81.9,498.1 L82.4,497.9 L82.9,498.3 L83.4,497.5 L83.9,498.3 L84.4,494.5 L84.9,497.3 L85.4,498.1 L85.9,497.5 L86.4,497.6 L86.9,497.3 L87.4,497.6 L87.9,497.3 L88.4,497.6 L88.9,498.3 L89.4,498.2 L89.9,498.2 L90.4,498.0 L90.9,497.7 L91.4,497.2 L91.9,498.3 L92.4,498.3 L92.9,497.8 L93.4,497.6 L93.9,497.4 L94.4,498.1 L94.9,498.4 L95.4,498.4 L95.9,497.8 L96.4,494.0 L96.9,498.5 L97.4,497.4 L97.9,497.3 L98.4,497.8 L98.9,496.4 L99.4,497.8 L99.9,496.7 L100.4,497.6 L100.9,494.7 L101.4,498.2 L101.9,497.3 L102.4,498.1 L102.9,498.4 L103.4,497.1 L103.9,498.3 L104.4,497.2 L104.9,498.0 L105.4,498.5 L105.9,494.8 L106.4,497.6 L106.9,497.6 L107.4,498.3 L107.9,497.3 L108.4,497.6 L108.9,497.2 L109.4,498.0 L109.9,497.5 L110.4,497.6 L110.9,498.2 L111.4,498.0 L111.9,498.2 L112.4,497.8 L112.9,498.1 L113.4,497.4 L113.9,497.6 L114.4,497.9 L114.9,497.7 L115.4,497.7 L115.9,497.8 L116.4,498.4 L116.9,496.3 L117.4,498.3 L117.9,497.3 L118.4,498.3 L118.9,496.8 L119.4,497.8 L119.9,495.6 L120.4,497.7 L120.9,497.7 L121.4,497.3 L121.9,497.8 L122.4,497.9 L122.9,498.0 L123.4,497.5 L123.9,497.7 L124.4,498.0 L124.9,497.9 L125.4,498.0 L125.9,497.7 L126.4,498.2 L126.9,497.8 L127.4,497.6 L127.9,498.4 L128.4,497.2 L128.9,495.0 L129.4,494.4 L129.9,489.5 L130.4,493.7 L130.9,492.4 L131.4,490.4 L131.9,493.0 L132.4,495.1 L132.9,493.4 L133.4,494.7 L133.9,492.4 L134.4,494.7 L134.9,497.4 L135.4,492.5 L135.9,496.6 L136.4,496.8 L136.9,497.9 L137.4,497.3 L137.9,497.4 L138.4,497.1 L138.9,496.2 L139.4,496.5 L139.9,497.3 L140.4,497.8 L140.9,497.5 L141.4,498.3 L141.9,497.7 L142.4,497.5 L142.9,497.5 L143.4,497.3 L143.9,498.4 L144.4,497.1 L144.9,497.2 L145.4,498.0 L145.9,495.3 L146.4,498.0 L146.9,498.2 L147.4,497.2 L147.9,497.5 L148.4,498.2 L148.9,498.0 L149.4,496.1 L149.9,494.1 L150.4,497.7 L150.9,498.2 L151.4,497.4 L151.9,498.5 L152.4,496.1 L152.9,498.4 L153.4,497.4 L153.9,498.3 L154.4,495.0 L154.9,498.3 L155.4,496.4 L155.9,498.1 L156.4,497.3 L156.9,497.8 L157.4,498.0 L157.9,497.8 L158.4,497.9 L158.9,497.2 L159.4,497.3 L159.9,498.4 L160.4,497.8 L160.9,497.5 L161.4,497.5 L161.9,498.4 L162.4,498.0 L162.9,497.3 L163.4,497.5 L163.9,497.8 L164.4,497.2 L164.9,497.7 L165.4,498.3 L165.9,497.8 L166.4,498.3 L166.9,497.3 L167.4,497.3 L167.9,498.2 L168.4,497.8 L168.9,498.3 L169.4,497.2 L169.9,497.2 L170.4,496.3 L170.9,497.7 L171.4,498.4 L171.9,498.4 L172.4,498.2 L172.9,497.6 L173.4,497.9 L173.9,498.2 L174.4,498.4 L174.9,497.2 L175.4,498.0 L175.9,498.3 L176.4,495.5 L176.9,497.7 L177.4,497.5 L177.9,490.2 L178.4,483.5 L178.9,482.9 L179.4,484.5 L179.9,492.9 L180.4,495.6 L180.9,493.3 L181.4,494.0 L181.9,497.6 L182.4,497.2 L182.9,498.1 L183.4,498.1 L183.9,498.1 L184.4,497.8 L184.9,497.4 L185.4,496.6 L185.9,497.5 L186.4,497.9 L186.9,498.0 L187.4,495.9 L187.9,496.2 L188.4,496.6 L188.9,497.6 L189.4,498.0 L189.9,498.2 L190.4,497.3 L190.9,497.2 L191.4,497.5 L191.9,497.2 L192.4,495.9 L192.9,486.1 L193.4,480.9 L193.9,485.4 L194.4,497.9 L194.9,497.9 L195.4,497.6 L195.9,496.0 L196.4,495.8 L196.9,495.6 L197.4,495.6 L197.9,496.8 L198.4,497.4 L198.9,498.4 L199.4,497.2 L199.9,497.7 L200.4,496.0 L200.9,498.2 L201.4,497.5 L201.9,498.3 L202.4,497.2 L202.9,498.2 L203.4,495.9 L203.9,496.0 L204.4,494.6 L204.9,498.2 L205.4,498.5 L205.9,496.8 L206.4,498.4 L206.9,498.1 L207.4,495.4 L207.9,497.2 L208.4,494.4 L208.9,493.7 L209.4,495.8 L209.9,497.5 L210.4,494.5 L210.9,495.1 L211.4,497.2 L211.9,497.7 L212.4,497.6 L212.9,498.2 L213.4,497.9 L213.9,497.3 L214.4,498.1 L214.9,498.2 L215.4,497.7 L215.9,497.9 L216.4,498.2 L216.9,497.7 L217.4,497.8 L217.9,497.9 L218.4,498.4 L218.9,498.4 L219.4,498.2 L219.9,498.3 L220.4,498.1 L220.9,498.4 L221.4,497.4 L221.9,497.3 L222.4,497.6 L222.9,497.4 L223.4,496.8 L223.9,497.9 L224.4,494.5 L224.9,491.4 L225.4,492.2 L225.9,497.6 L226.4,498.0 L226.9,498.3 L227.4,497.3 L227.9,497.9 L228.4,498.0 L228.9,498.3 L229.4,497.4 L229.9,497.5 L230.4,495.3 L230.9,497.3 L231.4,497.9 L231.9,498.2 L232.4,497.6 L232.9,498.3 L233.4,497.3 L233.9,498.3 L234.4,497.2 L234.9,494.9 L235.4,493.4 L235.9,495.1 L236.4,497.4 L236.4,499.1 Z" fill="#1616dc" stroke="none"/>
<line x1="13.30" y1="499.10" x2="237.40" y2="499.10" stroke="#0a0a90" stroke-width="1.0"/>
<rect x="13.30" y="478.30" width="224.10" height="21.60" fill="none" stroke="#707070" stroke-width="1.05"/>
<line x1="21.30" y1="478.30" x2="21.30" y2="481.20" stroke="#555" stroke-width="0.9"/>
<line x1="21.30" y1="499.90" x2="21.30" y2="497.00" stroke="#555" stroke-width="0.9"/>
<line x1="54.62" y1="478.30" x2="54.62" y2="481.20" stroke="#555" stroke-width="0.9"/>
<line x1="54.62" y1="499.90" x2="54.62" y2="497.00" stroke="#555" stroke-width="0.9"/>
<line x1="87.94" y1="478.30" x2="87.94" y2="481.20" stroke="#555" stroke-width="0.9"/>
<line x1="87.94" y1="499.90" x2="87.94" y2="497.00" stroke="#555" stroke-width="0.9"/>
<line x1="121.26" y1="478.30" x2="121.26" y2="481.20" stroke="#555" stroke-width="0.9"/>
<line x1="121.26" y1="499.90" x2="121.26" y2="497.00" stroke="#555" stroke-width="0.9"/>
<line x1="154.58" y1="478.30" x2="154.58" y2="481.20" stroke="#555" stroke-width="0.9"/>
<line x1="154.58" y1="499.90" x2="154.58" y2="497.00" stroke="#555" stroke-width="0.9"/>
<line x1="187.90" y1="478.30" x2="187.90" y2="481.20" stroke="#555" stroke-width="0.9"/>
<line x1="187.90" y1="499.90" x2="187.90" y2="497.00" stroke="#555" stroke-width="0.9"/>
<line x1="221.22" y1="478.30" x2="221.22" y2="481.20" stroke="#555" stroke-width="0.9"/>
<line x1="221.22" y1="499.90" x2="221.22" y2="497.00" stroke="#555" stroke-width="0.9"/>
<line x1="13.30" y1="481.10" x2="15.10" y2="481.10" stroke="#555" stroke-width="0.7"/>
<line x1="235.60" y1="481.10" x2="237.40" y2="481.10" stroke="#555" stroke-width="0.7"/>
<line x1="13.30" y1="498.60" x2="15.10" y2="498.60" stroke="#555" stroke-width="0.7"/>
<line x1="235.60" y1="498.60" x2="237.40" y2="498.60" stroke="#555" stroke-width="0.7"/>
<text x="12.70" y="483.89" font-family="Liberation Sans" font-size="5.8" text-anchor="end" fill="#000">35</text>
<text x="12.70" y="499.89" font-family="Liberation Sans" font-size="5.8" text-anchor="end" fill="#000">0</text>
<text x="240.26" y="380.70" font-family="Liberation Sans" font-size="6.5" text-anchor="middle" fill="#000" font-weight="bold" transform="rotate(90 240.26 380.70)">H3K27me3</text>
<text x="240.26" y="429.05" font-family="Liberation Sans" font-size="6.5" text-anchor="middle" fill="#000" font-weight="bold" transform="rotate(90 240.26 429.05)">H3K4me1</text>
<text x="240.26" y="477.15" font-family="Liberation Sans" font-size="6.5" text-anchor="middle" fill="#000" font-weight="bold" transform="rotate(90 240.26 477.15)">RUNX1</text>
<line x1="187.90" y1="361.80" x2="221.30" y2="361.80" stroke="#333" stroke-width="1.0"/>
<line x1="187.90" y1="359.70" x2="187.90" y2="365.50" stroke="#333" stroke-width="1.0"/>
<line x1="221.30" y1="359.70" x2="221.30" y2="365.50" stroke="#333" stroke-width="1.0"/>
<text x="205.50" y="370.47" font-family="Liberation Sans" font-size="7.7" text-anchor="middle" fill="#111" font-weight="bold">20kb</text>
<text x="13.50" y="526.50" font-family="Liberation Sans" font-size="7.7" text-anchor="start" fill="#000" font-weight="bold">Chr 3: 40,950,000-41,260,000</text>
<path d="M14.1,549.3 L14.1,547.2 L14.6,547.9 L15.1,547.8 L15.6,547.5 L16.1,547.8 L16.6,547.4 L17.1,547.5 L17.6,548.4 L18.1,548.4 L18.6,547.1 L19.1,548.2 L19.6,547.9 L20.1,548.3 L20.6,548.3 L21.1,548.1 L21.6,548.3 L22.1,546.6 L22.6,548.4 L23.1,547.4 L23.6,547.0 L24.1,547.7 L24.6,547.4 L25.1,548.2 L25.6,547.0 L26.1,548.4 L26.6,548.2 L27.1,547.0 L27.6,547.2 L28.1,547.2 L28.6,545.6 L29.1,547.8 L29.6,547.2 L30.1,547.4 L30.6,546.9 L31.1,548.1 L31.6,547.0 L32.1,547.3 L32.6,548.3 L33.1,547.6 L33.6,547.8 L34.1,548.0 L34.6,548.2 L35.1,547.6 L35.6,545.1 L36.1,548.0 L36.6,546.3 L37.1,547.9 L37.6,547.4 L38.1,547.4 L38.6,548.0 L39.1,547.4 L39.6,548.4 L40.1,546.5 L40.6,547.9 L41.1,547.3 L41.6,548.4 L42.1,546.9 L42.6,546.9 L43.1,548.2 L43.6,548.1 L44.1,548.1 L44.6,547.2 L45.1,548.5 L45.6,547.5 L46.1,548.5 L46.6,548.3 L47.1,548.0 L47.6,547.0 L48.1,547.1 L48.6,547.2 L49.1,548.3 L49.6,548.3 L50.1,548.4 L50.6,547.1 L51.1,547.7 L51.6,548.5 L52.1,545.4 L52.6,547.2 L53.1,546.9 L53.6,547.5 L54.1,548.5 L54.6,547.3 L55.1,548.4 L55.6,547.6 L56.1,545.7 L56.6,547.5 L57.1,545.4 L57.6,544.6 L58.1,544.9 L58.6,546.8 L59.1,546.3 L59.6,545.5 L60.1,546.1 L60.6,546.9 L61.1,547.9 L61.6,547.3 L62.1,548.4 L62.6,547.6 L63.1,548.2 L63.6,547.5 L64.1,547.0 L64.6,547.4 L65.1,548.1 L65.6,547.2 L66.1,548.1 L66.6,547.7 L67.1,547.4 L67.6,548.0 L68.1,547.7 L68.6,547.9 L69.1,548.2 L69.6,547.8 L70.1,548.3 L70.6,547.5 L71.1,546.0 L71.6,547.2 L72.1,547.9 L72.6,547.7 L73.1,548.1 L73.6,548.2 L74.1,547.6 L74.6,547.4 L75.1,545.8 L75.6,547.4 L76.1,547.5 L76.6,547.4 L77.1,547.6 L77.6,546.6 L78.1,548.0 L78.6,548.3 L79.1,547.3 L79.6,547.8 L80.1,548.1 L80.6,547.0 L81.1,547.8 L81.6,547.2 L82.1,548.1 L82.6,547.9 L83.1,548.5 L83.6,548.1 L84.1,547.2 L84.6,548.0 L85.1,548.0 L85.6,548.2 L86.1,547.5 L86.6,546.5 L87.1,546.7 L87.6,546.4 L88.1,547.0 L88.6,547.4 L89.1,546.5 L89.6,547.3 L90.1,546.8 L90.6,548.4 L91.1,546.9 L91.6,547.0 L92.1,547.5 L92.6,547.2 L93.1,547.2 L93.6,547.2 L94.1,546.9 L94.6,547.5 L95.1,547.3 L95.6,548.3 L96.1,548.0 L96.6,548.5 L97.1,548.3 L97.6,548.1 L98.1,547.3 L98.6,546.0 L99.1,547.6 L99.6,547.3 L100.1,547.9 L100.6,547.8 L101.1,547.1 L101.6,548.2 L102.1,546.9 L102.6,547.1 L103.1,547.3 L103.6,547.5 L104.1,548.0 L104.6,548.4 L105.1,547.2 L105.6,547.4 L106.1,547.4 L106.6,548.4 L107.1,548.1 L107.6,547.8 L108.1,547.1 L108.6,547.8 L109.1,547.5 L109.6,548.0 L110.1,547.0 L110.6,548.2 L111.1,547.2 L111.6,546.0 L112.1,548.2 L112.6,547.3 L113.1,547.6 L113.6,548.5 L114.1,548.5 L114.6,547.2 L115.1,547.8 L115.6,548.3 L116.1,547.5 L116.6,548.3 L117.1,547.0 L117.6,548.3 L118.1,547.2 L118.6,545.0 L119.1,548.1 L119.6,547.0 L120.1,548.3 L120.6,548.0 L121.1,547.6 L121.6,546.9 L122.1,547.1 L122.6,548.4 L123.1,548.2 L123.6,548.0 L124.1,547.0 L124.6,547.2 L125.1,547.2 L125.6,545.7 L126.1,548.2 L126.6,547.1 L127.1,547.3 L127.6,547.1 L128.1,547.5 L128.6,547.4 L129.1,547.5 L129.6,547.4 L130.1,548.2 L130.6,548.0 L131.1,547.7 L131.6,546.9 L132.1,547.1 L132.6,547.0 L133.1,547.0 L133.6,548.0 L134.1,546.2 L134.6,547.9 L135.1,548.4 L135.6,546.9 L136.1,547.9 L136.6,548.0 L137.1,546.9 L137.6,547.7 L138.1,547.6 L138.6,546.9 L139.1,546.9 L139.6,547.2 L140.1,547.4 L140.6,548.0 L141.1,546.9 L141.6,547.7 L142.1,547.5 L142.6,548.1 L143.1,547.8 L143.6,547.3 L144.1,547.7 L144.6,547.3 L145.1,548.4 L145.6,547.4 L146.1,547.2 L146.6,547.1 L147.1,547.0 L147.6,546.7 L148.1,547.6 L148.6,545.7 L149.1,548.4 L149.6,548.1 L150.1,547.5 L150.6,548.0 L151.1,547.6 L151.6,547.6 L152.1,548.3 L152.6,548.1 L153.1,547.9 L153.6,547.3 L154.1,547.9 L154.6,548.0 L155.1,548.0 L155.6,547.6 L156.1,548.1 L156.6,547.9 L157.1,548.2 L157.6,545.2 L158.1,548.1 L158.6,548.2 L159.1,547.9 L159.6,547.9 L160.1,548.4 L160.6,547.8 L161.1,547.1 L161.6,547.2 L162.1,548.3 L162.6,548.1 L163.1,546.9 L163.6,547.7 L164.1,547.4 L164.6,548.3 L165.1,548.2 L165.6,547.5 L166.1,547.2 L166.6,547.7 L167.1,546.6 L167.6,547.9 L168.1,547.7 L168.6,548.3 L169.1,546.7 L169.6,548.5 L170.1,547.8 L170.6,546.4 L171.1,547.4 L171.6,547.0 L172.1,547.0 L172.6,547.6 L173.1,548.3 L173.6,547.9 L174.1,546.0 L174.6,546.0 L175.1,548.5 L175.6,548.2 L176.1,548.0 L176.6,548.1 L177.1,548.5 L177.6,548.2 L178.1,547.9 L178.6,548.0 L179.1,547.4 L179.6,547.7 L180.1,548.2 L180.6,547.7 L181.1,547.7 L181.6,548.1 L182.1,547.2 L182.6,548.3 L183.1,548.0 L183.6,547.8 L184.1,547.8 L184.6,547.5 L185.1,547.1 L185.6,547.4 L186.1,546.9 L186.6,548.4 L187.1,548.3 L187.6,547.5 L188.1,547.8 L188.6,547.9 L189.1,547.5 L189.6,547.4 L190.1,548.2 L190.6,548.5 L191.1,548.2 L191.6,546.2 L192.1,547.6 L192.6,548.4 L193.1,548.1 L193.6,548.3 L194.1,547.5 L194.6,547.6 L195.1,547.3 L195.6,545.1 L196.1,547.6 L196.6,542.9 L197.1,543.5 L197.6,546.1 L198.1,543.6 L198.6,544.6 L199.1,545.0 L199.6,544.5 L200.1,545.5 L200.6,545.8 L201.1,547.3 L201.6,543.4 L202.1,546.1 L202.6,544.2 L203.1,545.1 L203.6,546.4 L204.1,545.9 L204.6,546.8 L205.1,545.4 L205.6,547.6 L206.1,547.9 L206.6,548.1 L207.1,548.9 L207.6,548.8 L208.1,548.8 L208.6,548.7 L209.1,548.9 L209.6,548.8 L210.1,548.9 L210.6,548.8 L211.1,548.7 L211.6,547.9 L212.1,548.8 L212.6,549.0 L213.1,549.0 L213.6,548.8 L214.1,548.8 L214.6,548.7 L215.1,548.8 L215.6,548.6 L216.1,549.0 L216.6,548.9 L217.1,548.7 L217.6,548.9 L218.1,548.6 L218.6,546.1 L219.1,548.9 L219.6,549.1 L220.1,548.6 L220.6,548.8 L221.1,548.9 L221.6,548.6 L222.1,548.9 L222.6,548.9 L223.1,548.6 L223.6,548.8 L224.1,548.8 L224.6,548.7 L225.1,549.1 L225.6,548.1 L226.1,548.7 L226.6,548.8 L227.1,549.0 L227.6,548.7 L228.1,549.0 L228.6,548.9 L229.1,548.9 L229.6,548.7 L230.1,548.9 L230.6,548.9 L231.1,549.0 L231.6,548.1 L232.1,548.9 L232.6,548.8 L233.1,548.6 L233.6,546.8 L234.1,548.7 L234.6,548.6 L235.1,548.0 L235.6,547.6 L236.1,549.0 L236.6,548.8 L237.1,548.6 L237.1,549.3 Z" fill="#18ec18" stroke="none"/>
<line x1="13.50" y1="549.30" x2="238.00" y2="549.30" stroke="#0a9a0a" stroke-width="1.0"/>
<rect x="13.50" y="528.50" width="224.50" height="21.60" fill="none" stroke="#707070" stroke-width="1.05"/>
<line x1="20.60" y1="528.50" x2="20.60" y2="531.40" stroke="#555" stroke-width="0.9"/>
<line x1="20.60" y1="550.10" x2="20.60" y2="547.20" stroke="#555" stroke-width="0.9"/>
<line x1="35.09" y1="528.50" x2="35.09" y2="531.40" stroke="#555" stroke-width="0.9"/>
<line x1="35.09" y1="550.10" x2="35.09" y2="547.20" stroke="#555" stroke-width="0.9"/>
<line x1="49.58" y1="528.50" x2="49.58" y2="531.40" stroke="#555" stroke-width="0.9"/>
<line x1="49.58" y1="550.10" x2="49.58" y2="547.20" stroke="#555" stroke-width="0.9"/>
<line x1="64.07" y1="528.50" x2="64.07" y2="531.40" stroke="#555" stroke-width="0.9"/>
<line x1="64.07" y1="550.10" x2="64.07" y2="547.20" stroke="#555" stroke-width="0.9"/>
<line x1="78.56" y1="528.50" x2="78.56" y2="531.40" stroke="#555" stroke-width="0.9"/>
<line x1="78.56" y1="550.10" x2="78.56" y2="547.20" stroke="#555" stroke-width="0.9"/>
<line x1="93.05" y1="528.50" x2="93.05" y2="531.40" stroke="#555" stroke-width="0.9"/>
<line x1="93.05" y1="550.10" x2="93.05" y2="547.20" stroke="#555" stroke-width="0.9"/>
<line x1="107.54" y1="528.50" x2="107.54" y2="531.40" stroke="#555" stroke-width="0.9"/>
<line x1="107.54" y1="550.10" x2="107.54" y2="547.20" stroke="#555" stroke-width="0.9"/>
<line x1="122.03" y1="528.50" x2="122.03" y2="531.40" stroke="#555" stroke-width="0.9"/>
<line x1="122.03" y1="550.10" x2="122.03" y2="547.20" stroke="#555" stroke-width="0.9"/>
<line x1="136.52" y1="528.50" x2="136.52" y2="531.40" stroke="#555" stroke-width="0.9"/>
<line x1="136.52" y1="550.10" x2="136.52" y2="547.20" stroke="#555" stroke-width="0.9"/>
<line x1="151.01" y1="528.50" x2="151.01" y2="531.40" stroke="#555" stroke-width="0.9"/>
<line x1="151.01" y1="550.10" x2="151.01" y2="547.20" stroke="#555" stroke-width="0.9"/>
<line x1="165.50" y1="528.50" x2="165.50" y2="531.40" stroke="#555" stroke-width="0.9"/>
<line x1="165.50" y1="550.10" x2="165.50" y2="547.20" stroke="#555" stroke-width="0.9"/>
<line x1="179.99" y1="528.50" x2="179.99" y2="531.40" stroke="#555" stroke-width="0.9"/>
<line x1="179.99" y1="550.10" x2="179.99" y2="547.20" stroke="#555" stroke-width="0.9"/>
<line x1="194.48" y1="528.50" x2="194.48" y2="531.40" stroke="#555" stroke-width="0.9"/>
<line x1="194.48" y1="550.10" x2="194.48" y2="547.20" stroke="#555" stroke-width="0.9"/>
<line x1="208.97" y1="528.50" x2="208.97" y2="531.40" stroke="#555" stroke-width="0.9"/>
<line x1="208.97" y1="550.10" x2="208.97" y2="547.20" stroke="#555" stroke-width="0.9"/>
<line x1="223.46" y1="528.50" x2="223.46" y2="531.40" stroke="#555" stroke-width="0.9"/>
<line x1="223.46" y1="550.10" x2="223.46" y2="547.20" stroke="#555" stroke-width="0.9"/>
<line x1="13.50" y1="531.30" x2="15.30" y2="531.30" stroke="#555" stroke-width="0.7"/>
<line x1="236.20" y1="531.30" x2="238.00" y2="531.30" stroke="#555" stroke-width="0.7"/>
<line x1="13.50" y1="548.80" x2="15.30" y2="548.80" stroke="#555" stroke-width="0.7"/>
<line x1="236.20" y1="548.80" x2="238.00" y2="548.80" stroke="#555" stroke-width="0.7"/>
<text x="12.90" y="534.09" font-family="Liberation Sans" font-size="5.8" text-anchor="end" fill="#000">45</text>
<text x="12.90" y="550.09" font-family="Liberation Sans" font-size="5.8" text-anchor="end" fill="#000">0</text>
<path d="M14.1,573.6 L14.1,571.1 L14.6,571.9 L15.1,571.1 L15.6,570.2 L16.1,569.2 L16.6,570.0 L17.1,571.9 L17.6,571.4 L18.1,571.6 L18.6,570.3 L19.1,570.0 L19.6,570.3 L20.1,572.5 L20.6,570.8 L21.1,572.4 L21.6,570.5 L22.1,572.5 L22.6,572.8 L23.1,573.3 L23.6,573.0 L24.1,573.3 L24.6,573.3 L25.1,573.3 L25.6,572.9 L26.1,573.1 L26.6,573.0 L27.1,570.6 L27.6,572.9 L28.1,573.1 L28.6,571.0 L29.1,573.0 L29.6,571.3 L30.1,573.1 L30.6,571.2 L31.1,571.3 L31.6,572.9 L32.1,569.9 L32.6,572.4 L33.1,571.6 L33.6,571.7 L34.1,566.9 L34.6,571.3 L35.1,571.8 L35.6,571.7 L36.1,572.3 L36.6,569.8 L37.1,569.6 L37.6,570.3 L38.1,571.2 L38.6,571.7 L39.1,571.8 L39.6,569.2 L40.1,570.0 L40.6,570.9 L41.1,571.2 L41.6,568.2 L42.1,571.2 L42.6,568.5 L43.1,572.2 L43.6,572.3 L44.1,572.2 L44.6,572.4 L45.1,571.7 L45.6,568.8 L46.1,571.8 L46.6,571.3 L47.1,571.0 L47.6,570.8 L48.1,570.1 L48.6,571.3 L49.1,571.1 L49.6,570.9 L50.1,569.1 L50.6,572.4 L51.1,570.3 L51.6,570.4 L52.1,570.1 L52.6,571.6 L53.1,571.4 L53.6,571.3 L54.1,572.4 L54.6,570.1 L55.1,570.2 L55.6,569.3 L56.1,570.2 L56.6,568.1 L57.1,565.9 L57.6,567.4 L58.1,569.8 L58.6,569.3 L59.1,571.6 L59.6,569.9 L60.1,570.6 L60.6,569.2 L61.1,569.9 L61.6,569.3 L62.1,568.7 L62.6,571.6 L63.1,571.2 L63.6,571.0 L64.1,567.5 L64.6,571.3 L65.1,570.8 L65.6,570.9 L66.1,570.4 L66.6,570.9 L67.1,571.2 L67.6,570.4 L68.1,570.7 L68.6,570.7 L69.1,571.3 L69.6,570.2 L70.1,570.4 L70.6,572.0 L71.1,571.1 L71.6,571.0 L72.1,572.1 L72.6,569.6 L73.1,570.7 L73.6,572.3 L74.1,570.8 L74.6,570.2 L75.1,569.2 L75.6,570.6 L76.1,570.7 L76.6,572.4 L77.1,572.3 L77.6,571.7 L78.1,572.2 L78.6,572.1 L79.1,568.2 L79.6,568.5 L80.1,571.4 L80.6,571.7 L81.1,571.1 L81.6,569.8 L82.1,569.9 L82.6,570.6 L83.1,564.6 L83.6,567.1 L84.1,568.7 L84.6,570.0 L85.1,570.0 L85.6,567.5 L86.1,568.3 L86.6,569.5 L87.1,569.4 L87.6,568.7 L88.1,570.7 L88.6,571.2 L89.1,566.1 L89.6,571.1 L90.1,570.9 L90.6,569.9 L91.1,569.8 L91.6,571.4 L92.1,570.3 L92.6,567.2 L93.1,568.0 L93.6,570.3 L94.1,570.5 L94.6,571.8 L95.1,569.5 L95.6,572.0 L96.1,572.0 L96.6,572.1 L97.1,571.9 L97.6,570.9 L98.1,572.1 L98.6,569.7 L99.1,570.9 L99.6,570.6 L100.1,570.4 L100.6,568.6 L101.1,571.1 L101.6,572.0 L102.1,570.4 L102.6,570.0 L103.1,570.0 L103.6,570.8 L104.1,571.0 L104.6,571.3 L105.1,566.3 L105.6,572.4 L106.1,572.3 L106.6,567.8 L107.1,571.8 L107.6,571.5 L108.1,571.3 L108.6,571.6 L109.1,571.9 L109.6,572.2 L110.1,571.7 L110.6,567.9 L111.1,567.2 L111.6,570.6 L112.1,570.1 L112.6,571.7 L113.1,571.3 L113.6,570.1 L114.1,572.2 L114.6,570.1 L115.1,572.3 L115.6,572.0 L116.1,571.6 L116.6,571.7 L117.1,571.6 L117.6,571.0 L118.1,569.3 L118.6,569.9 L119.1,570.1 L119.6,568.3 L120.1,570.7 L120.6,566.3 L121.1,572.4 L121.6,571.3 L122.1,570.1 L122.6,572.2 L123.1,572.1 L123.6,572.1 L124.1,572.3 L124.6,572.2 L125.1,570.5 L125.6,571.0 L126.1,570.9 L126.6,570.1 L127.1,572.0 L127.6,570.2 L128.1,569.2 L128.6,566.6 L129.1,571.9 L129.6,572.1 L130.1,571.0 L130.6,567.3 L131.1,570.3 L131.6,571.9 L132.1,571.4 L132.6,570.5 L133.1,570.4 L133.6,570.0 L134.1,572.3 L134.6,572.1 L135.1,572.4 L135.6,571.9 L136.1,571.3 L136.6,570.3 L137.1,570.0 L137.6,572.3 L138.1,571.5 L138.6,572.3 L139.1,570.5 L139.6,567.1 L140.1,568.6 L140.6,571.9 L141.1,571.3 L141.6,571.8 L142.1,570.6 L142.6,569.1 L143.1,570.1 L143.6,569.1 L144.1,570.5 L144.6,570.0 L145.1,571.9 L145.6,570.0 L146.1,570.2 L146.6,570.5 L147.1,569.6 L147.6,568.1 L148.1,568.2 L148.6,569.7 L149.1,567.7 L149.6,570.9 L150.1,571.4 L150.6,570.9 L151.1,571.6 L151.6,570.3 L152.1,571.0 L152.6,570.5 L153.1,571.7 L153.6,570.4 L154.1,569.0 L154.6,572.2 L155.1,568.2 L155.6,571.6 L156.1,570.6 L156.6,571.2 L157.1,568.1 L157.6,570.8 L158.1,570.5 L158.6,570.6 L159.1,571.7 L159.6,570.2 L160.1,571.2 L160.6,572.0 L161.1,570.0 L161.6,571.0 L162.1,569.3 L162.6,567.9 L163.1,570.6 L163.6,571.6 L164.1,570.3 L164.6,572.4 L165.1,571.5 L165.6,570.1 L166.1,572.4 L166.6,572.1 L167.1,572.4 L167.6,571.9 L168.1,568.7 L168.6,570.5 L169.1,570.9 L169.6,571.0 L170.1,571.2 L170.6,571.4 L171.1,570.6 L171.6,570.6 L172.1,571.7 L172.6,572.3 L173.1,572.1 L173.6,571.9 L174.1,572.2 L174.6,569.9 L175.1,570.6 L175.6,568.4 L176.1,567.6 L176.6,571.7 L177.1,568.8 L177.6,570.6 L178.1,570.4 L178.6,570.5 L179.1,572.4 L179.6,571.0 L180.1,572.1 L180.6,571.6 L181.1,571.3 L181.6,569.1 L182.1,570.7 L182.6,570.1 L183.1,571.1 L183.6,572.3 L184.1,571.7 L184.6,570.7 L185.1,571.6 L185.6,572.3 L186.1,569.5 L186.6,571.2 L187.1,572.3 L187.6,570.5 L188.1,571.4 L188.6,571.2 L189.1,571.6 L189.6,571.2 L190.1,571.0 L190.6,571.2 L191.1,571.1 L191.6,572.0 L192.1,571.4 L192.6,571.2 L193.1,569.9 L193.6,572.4 L194.1,570.6 L194.6,570.2 L195.1,571.7 L195.6,569.2 L196.1,570.3 L196.6,566.6 L197.1,570.2 L197.6,567.8 L198.1,569.0 L198.6,568.2 L199.1,568.6 L199.6,571.7 L200.1,568.2 L200.6,570.3 L201.1,571.5 L201.6,571.1 L202.1,570.0 L202.6,570.2 L203.1,572.2 L203.6,571.5 L204.1,571.0 L204.6,571.9 L205.1,570.4 L205.6,570.8 L206.1,572.1 L206.6,573.1 L207.1,573.2 L207.6,573.5 L208.1,573.6 L208.6,573.6 L209.1,573.6 L209.6,573.6 L210.1,573.6 L210.6,573.6 L211.1,573.6 L211.6,573.6 L212.1,573.6 L212.6,573.6 L213.1,573.6 L213.6,573.6 L214.1,573.6 L214.6,573.6 L215.1,573.6 L215.6,573.6 L216.1,573.6 L216.6,573.6 L217.1,573.6 L217.6,573.6 L218.1,573.6 L218.6,573.6 L219.1,573.6 L219.6,573.6 L220.1,573.6 L220.6,573.6 L221.1,573.6 L221.6,573.6 L222.1,573.6 L222.6,573.6 L223.1,573.6 L223.6,573.6 L224.1,573.6 L224.6,573.6 L225.1,573.6 L225.6,573.6 L226.1,573.6 L226.6,573.6 L227.1,573.6 L227.6,573.6 L228.1,573.6 L228.6,573.6 L229.1,573.6 L229.6,573.6 L230.1,573.6 L230.6,573.6 L231.1,573.6 L231.6,573.6 L232.1,573.6 L232.6,573.6 L233.1,573.6 L233.6,573.6 L234.1,573.6 L234.6,573.6 L235.1,573.6 L235.6,573.6 L236.1,573.6 L236.6,573.6 L237.1,573.6 L237.1,573.6 Z" fill="#1616dc" stroke="none"/>
<line x1="13.50" y1="573.60" x2="238.00" y2="573.60" stroke="#0a0a90" stroke-width="1.0"/>
<rect x="13.50" y="552.80" width="224.50" height="21.60" fill="none" stroke="#707070" stroke-width="1.05"/>
<line x1="20.60" y1="552.80" x2="20.60" y2="555.70" stroke="#555" stroke-width="0.9"/>
<line x1="20.60" y1="574.40" x2="20.60" y2="571.50" stroke="#555" stroke-width="0.9"/>
<line x1="35.09" y1="552.80" x2="35.09" y2="555.70" stroke="#555" stroke-width="0.9"/>
<line x1="35.09" y1="574.40" x2="35.09" y2="571.50" stroke="#555" stroke-width="0.9"/>
<line x1="49.58" y1="552.80" x2="49.58" y2="555.70" stroke="#555" stroke-width="0.9"/>
<line x1="49.58" y1="574.40" x2="49.58" y2="571.50" stroke="#555" stroke-width="0.9"/>
<line x1="64.07" y1="552.80" x2="64.07" y2="555.70" stroke="#555" stroke-width="0.9"/>
<line x1="64.07" y1="574.40" x2="64.07" y2="571.50" stroke="#555" stroke-width="0.9"/>
<line x1="78.56" y1="552.80" x2="78.56" y2="555.70" stroke="#555" stroke-width="0.9"/>
<line x1="78.56" y1="574.40" x2="78.56" y2="571.50" stroke="#555" stroke-width="0.9"/>
<line x1="93.05" y1="552.80" x2="93.05" y2="555.70" stroke="#555" stroke-width="0.9"/>
<line x1="93.05" y1="574.40" x2="93.05" y2="571.50" stroke="#555" stroke-width="0.9"/>
<line x1="107.54" y1="552.80" x2="107.54" y2="555.70" stroke="#555" stroke-width="0.9"/>
<line x1="107.54" y1="574.40" x2="107.54" y2="571.50" stroke="#555" stroke-width="0.9"/>
<line x1="122.03" y1="552.80" x2="122.03" y2="555.70" stroke="#555" stroke-width="0.9"/>
<line x1="122.03" y1="574.40" x2="122.03" y2="571.50" stroke="#555" stroke-width="0.9"/>
<line x1="136.52" y1="552.80" x2="136.52" y2="555.70" stroke="#555" stroke-width="0.9"/>
<line x1="136.52" y1="574.40" x2="136.52" y2="571.50" stroke="#555" stroke-width="0.9"/>
<line x1="151.01" y1="552.80" x2="151.01" y2="555.70" stroke="#555" stroke-width="0.9"/>
<line x1="151.01" y1="574.40" x2="151.01" y2="571.50" stroke="#555" stroke-width="0.9"/>
<line x1="165.50" y1="552.80" x2="165.50" y2="555.70" stroke="#555" stroke-width="0.9"/>
<line x1="165.50" y1="574.40" x2="165.50" y2="571.50" stroke="#555" stroke-width="0.9"/>
<line x1="179.99" y1="552.80" x2="179.99" y2="555.70" stroke="#555" stroke-width="0.9"/>
<line x1="179.99" y1="574.40" x2="179.99" y2="571.50" stroke="#555" stroke-width="0.9"/>
<line x1="194.48" y1="552.80" x2="194.48" y2="555.70" stroke="#555" stroke-width="0.9"/>
<line x1="194.48" y1="574.40" x2="194.48" y2="571.50" stroke="#555" stroke-width="0.9"/>
<line x1="208.97" y1="552.80" x2="208.97" y2="555.70" stroke="#555" stroke-width="0.9"/>
<line x1="208.97" y1="574.40" x2="208.97" y2="571.50" stroke="#555" stroke-width="0.9"/>
<line x1="223.46" y1="552.80" x2="223.46" y2="555.70" stroke="#555" stroke-width="0.9"/>
<line x1="223.46" y1="574.40" x2="223.46" y2="571.50" stroke="#555" stroke-width="0.9"/>
<line x1="13.50" y1="555.60" x2="15.30" y2="555.60" stroke="#555" stroke-width="0.7"/>
<line x1="236.20" y1="555.60" x2="238.00" y2="555.60" stroke="#555" stroke-width="0.7"/>
<line x1="13.50" y1="573.10" x2="15.30" y2="573.10" stroke="#555" stroke-width="0.7"/>
<line x1="236.20" y1="573.10" x2="238.00" y2="573.10" stroke="#555" stroke-width="0.7"/>
<text x="12.90" y="558.39" font-family="Liberation Sans" font-size="5.8" text-anchor="end" fill="#000">40</text>
<text x="12.90" y="574.39" font-family="Liberation Sans" font-size="5.8" text-anchor="end" fill="#000">0</text>
<path d="M14.1,597.4 L14.1,596.8 L14.6,597.0 L15.1,597.0 L15.6,596.9 L16.1,596.7 L16.6,596.7 L17.1,596.7 L17.6,596.8 L18.1,596.8 L18.6,596.8 L19.1,596.8 L19.6,596.9 L20.1,596.8 L20.6,596.6 L21.1,596.8 L21.6,596.9 L22.1,596.8 L22.6,596.6 L23.1,596.9 L23.6,596.8 L24.1,597.0 L24.6,596.8 L25.1,596.6 L25.6,596.8 L26.1,595.8 L26.6,597.0 L27.1,596.4 L27.6,596.8 L28.1,596.6 L28.6,596.9 L29.1,596.7 L29.6,596.9 L30.1,596.8 L30.6,596.6 L31.1,596.7 L31.6,596.7 L32.1,596.8 L32.6,596.3 L33.1,596.8 L33.6,596.9 L34.1,596.6 L34.6,596.8 L35.1,596.8 L35.6,596.6 L36.1,595.7 L36.6,596.5 L37.1,596.7 L37.6,596.8 L38.1,596.6 L38.6,596.6 L39.1,596.7 L39.6,595.0 L40.1,592.7 L40.6,591.7 L41.1,589.9 L41.6,594.4 L42.1,596.1 L42.6,596.7 L43.1,596.7 L43.6,596.6 L44.1,596.9 L44.6,596.6 L45.1,596.6 L45.6,596.7 L46.1,596.5 L46.6,596.8 L47.1,596.9 L47.6,596.7 L48.1,596.5 L48.6,596.5 L49.1,596.9 L49.6,596.8 L50.1,596.5 L50.6,596.9 L51.1,597.0 L51.6,595.4 L52.1,597.0 L52.6,597.1 L53.1,596.6 L53.6,596.8 L54.1,596.4 L54.6,596.6 L55.1,596.7 L55.6,596.8 L56.1,597.0 L56.6,596.9 L57.1,596.7 L57.6,596.6 L58.1,593.3 L58.6,593.5 L59.1,592.0 L59.6,593.0 L60.1,594.3 L60.6,593.7 L61.1,595.5 L61.6,595.9 L62.1,596.6 L62.6,596.8 L63.1,596.6 L63.6,596.7 L64.1,596.7 L64.6,596.5 L65.1,596.6 L65.6,596.5 L66.1,596.9 L66.6,596.6 L67.1,596.9 L67.6,596.8 L68.1,596.7 L68.6,596.7 L69.1,596.8 L69.6,596.9 L70.1,596.9 L70.6,596.5 L71.1,596.6 L71.6,596.5 L72.1,596.7 L72.6,596.8 L73.1,596.9 L73.6,596.6 L74.1,596.8 L74.6,596.5 L75.1,596.8 L75.6,595.3 L76.1,596.6 L76.6,596.5 L77.1,596.6 L77.6,595.8 L78.1,596.5 L78.6,596.7 L79.1,595.3 L79.6,593.1 L80.1,592.9 L80.6,590.7 L81.1,589.8 L81.6,592.6 L82.1,595.0 L82.6,595.4 L83.1,595.5 L83.6,596.6 L84.1,596.8 L84.6,597.0 L85.1,596.7 L85.6,596.3 L86.1,597.1 L86.6,596.7 L87.1,596.9 L87.6,596.9 L88.1,596.6 L88.6,596.7 L89.1,596.6 L89.6,596.6 L90.1,596.7 L90.6,596.8 L91.1,596.5 L91.6,596.6 L92.1,596.8 L92.6,596.5 L93.1,595.1 L93.6,596.0 L94.1,596.0 L94.6,595.1 L95.1,596.9 L95.6,596.5 L96.1,596.5 L96.6,596.4 L97.1,596.5 L97.6,596.8 L98.1,596.6 L98.6,596.8 L99.1,596.6 L99.6,596.6 L100.1,596.6 L100.6,596.6 L101.1,596.8 L101.6,596.5 L102.1,596.8 L102.6,596.6 L103.1,596.5 L103.6,596.4 L104.1,596.8 L104.6,596.5 L105.1,596.4 L105.6,596.3 L106.1,596.7 L106.6,596.4 L107.1,596.9 L107.6,596.8 L108.1,596.5 L108.6,596.6 L109.1,596.8 L109.6,596.8 L110.1,596.7 L110.6,596.4 L111.1,596.4 L111.6,597.0 L112.1,596.7 L112.6,596.1 L113.1,595.9 L113.6,593.9 L114.1,595.2 L114.6,594.9 L115.1,593.2 L115.6,593.3 L116.1,593.8 L116.6,592.9 L117.1,594.4 L117.6,595.3 L118.1,595.5 L118.6,596.7 L119.1,596.3 L119.6,596.5 L120.1,596.3 L120.6,596.8 L121.1,596.3 L121.6,596.8 L122.1,596.4 L122.6,596.6 L123.1,595.6 L123.6,596.3 L124.1,596.2 L124.6,596.7 L125.1,596.5 L125.6,596.8 L126.1,596.4 L126.6,596.8 L127.1,596.6 L127.6,596.6 L128.1,596.4 L128.6,596.7 L129.1,596.6 L129.6,596.5 L130.1,596.6 L130.6,596.7 L131.1,596.8 L131.6,596.5 L132.1,596.8 L132.6,596.5 L133.1,596.6 L133.6,596.5 L134.1,596.8 L134.6,596.5 L135.1,595.0 L135.6,594.8 L136.1,594.5 L136.6,595.7 L137.1,596.8 L137.6,596.8 L138.1,596.6 L138.6,596.8 L139.1,596.5 L139.6,596.6 L140.1,596.5 L140.6,596.7 L141.1,596.6 L141.6,596.5 L142.1,596.5 L142.6,596.5 L143.1,596.8 L143.6,596.7 L144.1,596.7 L144.6,596.6 L145.1,596.7 L145.6,596.6 L146.1,594.8 L146.6,595.2 L147.1,593.1 L147.6,595.2 L148.1,596.7 L148.6,596.6 L149.1,595.4 L149.6,596.8 L150.1,596.5 L150.6,596.6 L151.1,596.0 L151.6,596.3 L152.1,596.4 L152.6,596.9 L153.1,596.3 L153.6,596.9 L154.1,597.0 L154.6,596.7 L155.1,596.8 L155.6,596.8 L156.1,596.8 L156.6,596.9 L157.1,597.0 L157.6,596.2 L158.1,596.6 L158.6,596.8 L159.1,596.7 L159.6,595.4 L160.1,596.7 L160.6,596.0 L161.1,596.9 L161.6,596.7 L162.1,596.9 L162.6,596.9 L163.1,596.8 L163.6,596.9 L164.1,596.9 L164.6,596.6 L165.1,596.7 L165.6,596.8 L166.1,596.8 L166.6,596.7 L167.1,596.3 L167.6,596.6 L168.1,596.7 L168.6,597.1 L169.1,596.8 L169.6,596.7 L170.1,596.6 L170.6,596.9 L171.1,596.8 L171.6,596.9 L172.1,596.6 L172.6,597.0 L173.1,596.7 L173.6,596.8 L174.1,596.6 L174.6,596.8 L175.1,595.3 L175.6,596.6 L176.1,597.0 L176.6,596.9 L177.1,596.5 L177.6,596.6 L178.1,596.5 L178.6,596.5 L179.1,597.0 L179.6,596.5 L180.1,597.0 L180.6,596.5 L181.1,596.7 L181.6,597.0 L182.1,596.7 L182.6,596.5 L183.1,596.7 L183.6,595.9 L184.1,596.9 L184.6,596.8 L185.1,596.6 L185.6,596.7 L186.1,597.1 L186.6,596.8 L187.1,596.4 L187.6,596.6 L188.1,596.9 L188.6,596.5 L189.1,596.8 L189.6,596.8 L190.1,596.8 L190.6,596.9 L191.1,596.4 L191.6,596.9 L192.1,596.4 L192.6,597.0 L193.1,596.5 L193.6,596.6 L194.1,596.8 L194.6,596.8 L195.1,596.5 L195.6,596.4 L196.1,596.6 L196.6,596.7 L197.1,596.8 L197.6,596.7 L198.1,596.4 L198.6,596.2 L199.1,596.3 L199.6,596.5 L200.1,596.4 L200.6,596.6 L201.1,595.7 L201.6,596.3 L202.1,596.6 L202.6,596.6 L203.1,596.8 L203.6,596.7 L204.1,596.5 L204.6,596.5 L205.1,595.5 L205.6,590.2 L206.1,592.2 L206.6,593.1 L207.1,589.3 L207.6,589.5 L208.1,588.9 L208.6,591.6 L209.1,588.2 L209.6,592.4 L210.1,587.1 L210.6,588.5 L211.1,589.8 L211.6,591.4 L212.1,587.9 L212.6,593.1 L213.1,593.8 L213.6,593.8 L214.1,594.4 L214.6,595.4 L215.1,594.1 L215.6,594.1 L216.1,592.5 L216.6,594.0 L217.1,594.1 L217.6,595.4 L218.1,594.9 L218.6,594.4 L219.1,593.9 L219.6,593.5 L220.1,593.5 L220.6,594.5 L221.1,594.0 L221.6,593.3 L222.1,593.8 L222.6,594.5 L223.1,593.9 L223.6,595.4 L224.1,596.9 L224.6,596.8 L225.1,596.8 L225.6,596.9 L226.1,596.8 L226.6,596.9 L227.1,596.9 L227.6,596.9 L228.1,596.7 L228.6,596.7 L229.1,597.0 L229.6,596.7 L230.1,596.8 L230.6,596.7 L231.1,596.7 L231.6,596.9 L232.1,596.8 L232.6,596.9 L233.1,595.6 L233.6,595.4 L234.1,596.9 L234.6,595.6 L235.1,596.7 L235.6,597.0 L236.1,597.1 L236.6,596.8 L237.1,596.8 L237.1,597.4 Z" fill="#18ec18" stroke="none"/>
<line x1="13.50" y1="597.40" x2="238.00" y2="597.40" stroke="#0a9a0a" stroke-width="1.0"/>
<rect x="13.50" y="576.60" width="224.50" height="21.60" fill="none" stroke="#707070" stroke-width="1.05"/>
<line x1="20.60" y1="576.60" x2="20.60" y2="579.50" stroke="#555" stroke-width="0.9"/>
<line x1="20.60" y1="598.20" x2="20.60" y2="595.30" stroke="#555" stroke-width="0.9"/>
<line x1="35.09" y1="576.60" x2="35.09" y2="579.50" stroke="#555" stroke-width="0.9"/>
<line x1="35.09" y1="598.20" x2="35.09" y2="595.30" stroke="#555" stroke-width="0.9"/>
<line x1="49.58" y1="576.60" x2="49.58" y2="579.50" stroke="#555" stroke-width="0.9"/>
<line x1="49.58" y1="598.20" x2="49.58" y2="595.30" stroke="#555" stroke-width="0.9"/>
<line x1="64.07" y1="576.60" x2="64.07" y2="579.50" stroke="#555" stroke-width="0.9"/>
<line x1="64.07" y1="598.20" x2="64.07" y2="595.30" stroke="#555" stroke-width="0.9"/>
<line x1="78.56" y1="576.60" x2="78.56" y2="579.50" stroke="#555" stroke-width="0.9"/>
<line x1="78.56" y1="598.20" x2="78.56" y2="595.30" stroke="#555" stroke-width="0.9"/>
<line x1="93.05" y1="576.60" x2="93.05" y2="579.50" stroke="#555" stroke-width="0.9"/>
<line x1="93.05" y1="598.20" x2="93.05" y2="595.30" stroke="#555" stroke-width="0.9"/>
<line x1="107.54" y1="576.60" x2="107.54" y2="579.50" stroke="#555" stroke-width="0.9"/>
<line x1="107.54" y1="598.20" x2="107.54" y2="595.30" stroke="#555" stroke-width="0.9"/>
<line x1="122.03" y1="576.60" x2="122.03" y2="579.50" stroke="#555" stroke-width="0.9"/>
<line x1="122.03" y1="598.20" x2="122.03" y2="595.30" stroke="#555" stroke-width="0.9"/>
<line x1="136.52" y1="576.60" x2="136.52" y2="579.50" stroke="#555" stroke-width="0.9"/>
<line x1="136.52" y1="598.20" x2="136.52" y2="595.30" stroke="#555" stroke-width="0.9"/>
<line x1="151.01" y1="576.60" x2="151.01" y2="579.50" stroke="#555" stroke-width="0.9"/>
<line x1="151.01" y1="598.20" x2="151.01" y2="595.30" stroke="#555" stroke-width="0.9"/>
<line x1="165.50" y1="576.60" x2="165.50" y2="579.50" stroke="#555" stroke-width="0.9"/>
<line x1="165.50" y1="598.20" x2="165.50" y2="595.30" stroke="#555" stroke-width="0.9"/>
<line x1="179.99" y1="576.60" x2="179.99" y2="579.50" stroke="#555" stroke-width="0.9"/>
<line x1="179.99" y1="598.20" x2="179.99" y2="595.30" stroke="#555" stroke-width="0.9"/>
<line x1="194.48" y1="576.60" x2="194.48" y2="579.50" stroke="#555" stroke-width="0.9"/>
<line x1="194.48" y1="598.20" x2="194.48" y2="595.30" stroke="#555" stroke-width="0.9"/>
<line x1="208.97" y1="576.60" x2="208.97" y2="579.50" stroke="#555" stroke-width="0.9"/>
<line x1="208.97" y1="598.20" x2="208.97" y2="595.30" stroke="#555" stroke-width="0.9"/>
<line x1="223.46" y1="576.60" x2="223.46" y2="579.50" stroke="#555" stroke-width="0.9"/>
<line x1="223.46" y1="598.20" x2="223.46" y2="595.30" stroke="#555" stroke-width="0.9"/>
<line x1="13.50" y1="579.40" x2="15.30" y2="579.40" stroke="#555" stroke-width="0.7"/>
<line x1="236.20" y1="579.40" x2="238.00" y2="579.40" stroke="#555" stroke-width="0.7"/>
<line x1="13.50" y1="596.90" x2="15.30" y2="596.90" stroke="#555" stroke-width="0.7"/>
<line x1="236.20" y1="596.90" x2="238.00" y2="596.90" stroke="#555" stroke-width="0.7"/>
<text x="12.90" y="582.19" font-family="Liberation Sans" font-size="5.8" text-anchor="end" fill="#000">50</text>
<text x="12.90" y="598.19" font-family="Liberation Sans" font-size="5.8" text-anchor="end" fill="#000">0</text>
<path d="M14.1,621.6 L14.1,620.4 L14.6,619.7 L15.1,619.8 L15.6,619.4 L16.1,620.3 L16.6,619.0 L17.1,618.1 L17.6,617.7 L18.1,619.9 L18.6,619.9 L19.1,620.4 L19.6,621.2 L20.1,620.9 L20.6,621.0 L21.1,621.1 L21.6,621.0 L22.1,620.9 L22.6,621.0 L23.1,621.1 L23.6,621.0 L24.1,621.2 L24.6,621.0 L25.1,620.9 L25.6,621.1 L26.1,621.1 L26.6,621.0 L27.1,619.7 L27.6,620.9 L28.1,620.9 L28.6,621.2 L29.1,621.1 L29.6,621.2 L30.1,621.1 L30.6,620.9 L31.1,621.0 L31.6,621.0 L32.1,621.0 L32.6,620.7 L33.1,620.6 L33.6,620.4 L34.1,621.0 L34.6,620.8 L35.1,620.5 L35.6,620.5 L36.1,620.6 L36.6,619.5 L37.1,619.8 L37.6,620.1 L38.1,620.0 L38.6,619.4 L39.1,620.2 L39.6,617.1 L40.1,608.5 L40.6,609.3 L41.1,610.7 L41.6,615.4 L42.1,619.3 L42.6,618.9 L43.1,619.9 L43.6,620.2 L44.1,620.9 L44.6,620.9 L45.1,620.6 L45.6,621.2 L46.1,620.7 L46.6,620.4 L47.1,620.8 L47.6,620.5 L48.1,620.5 L48.6,620.5 L49.1,619.5 L49.6,619.6 L50.1,619.8 L50.6,619.5 L51.1,620.6 L51.6,619.2 L52.1,618.9 L52.6,619.2 L53.1,619.7 L53.6,619.9 L54.1,619.2 L54.6,620.1 L55.1,619.9 L55.6,619.5 L56.1,620.6 L56.6,620.2 L57.1,618.3 L57.6,617.0 L58.1,615.3 L58.6,612.6 L59.1,604.7 L59.6,609.7 L60.1,612.8 L60.6,613.5 L61.1,616.6 L61.6,620.0 L62.1,619.9 L62.6,620.0 L63.1,619.9 L63.6,620.0 L64.1,620.2 L64.6,620.6 L65.1,620.0 L65.6,620.4 L66.1,620.5 L66.6,620.2 L67.1,620.4 L67.6,620.2 L68.1,620.4 L68.6,620.2 L69.1,620.5 L69.6,620.7 L70.1,620.6 L70.6,621.0 L71.1,620.5 L71.6,621.2 L72.1,620.8 L72.6,620.5 L73.1,620.7 L73.6,620.9 L74.1,620.5 L74.6,621.0 L75.1,621.0 L75.6,620.9 L76.1,620.6 L76.6,621.0 L77.1,619.9 L77.6,620.9 L78.1,620.1 L78.6,618.0 L79.1,616.3 L79.6,615.1 L80.1,609.8 L80.6,605.3 L81.1,617.4 L81.6,616.1 L82.1,618.0 L82.6,619.0 L83.1,620.4 L83.6,620.5 L84.1,620.3 L84.6,620.8 L85.1,620.6 L85.6,620.7 L86.1,619.9 L86.6,620.7 L87.1,620.6 L87.6,620.7 L88.1,620.3 L88.6,620.7 L89.1,620.3 L89.6,620.8 L90.1,620.6 L90.6,620.8 L91.1,620.0 L91.6,617.8 L92.1,619.3 L92.6,619.5 L93.1,619.8 L93.6,618.1 L94.1,618.1 L94.6,619.1 L95.1,620.4 L95.6,620.4 L96.1,620.6 L96.6,620.3 L97.1,620.6 L97.6,620.3 L98.1,620.8 L98.6,620.3 L99.1,620.6 L99.6,620.9 L100.1,620.5 L100.6,620.4 L101.1,620.9 L101.6,620.4 L102.1,620.6 L102.6,620.6 L103.1,620.8 L103.6,620.3 L104.1,620.9 L104.6,620.7 L105.1,620.7 L105.6,620.9 L106.1,620.7 L106.6,620.4 L107.1,620.6 L107.6,620.5 L108.1,620.6 L108.6,620.9 L109.1,621.0 L109.6,620.9 L110.1,620.8 L110.6,620.4 L111.1,620.8 L111.6,620.6 L112.1,620.9 L112.6,620.2 L113.1,620.2 L113.6,619.8 L114.1,618.7 L114.6,617.4 L115.1,616.5 L115.6,616.0 L116.1,613.3 L116.6,613.5 L117.1,611.6 L117.6,616.5 L118.1,618.7 L118.6,619.4 L119.1,620.1 L119.6,619.6 L120.1,620.3 L120.6,620.7 L121.1,621.1 L121.6,620.9 L122.1,620.8 L122.6,620.9 L123.1,620.8 L123.6,620.8 L124.1,620.8 L124.6,620.9 L125.1,620.7 L125.6,620.5 L126.1,620.7 L126.6,620.9 L127.1,620.9 L127.6,620.6 L128.1,620.5 L128.6,620.8 L129.1,620.8 L129.6,620.6 L130.1,620.5 L130.6,618.3 L131.1,618.0 L131.6,620.2 L132.1,620.8 L132.6,621.2 L133.1,620.5 L133.6,620.1 L134.1,620.7 L134.6,619.0 L135.1,612.9 L135.6,604.6 L136.1,611.8 L136.6,617.1 L137.1,618.6 L137.6,619.7 L138.1,620.1 L138.6,620.7 L139.1,620.7 L139.6,620.7 L140.1,619.9 L140.6,620.8 L141.1,621.3 L141.6,621.0 L142.1,620.9 L142.6,620.8 L143.1,620.5 L143.6,621.2 L144.1,620.5 L144.6,620.6 L145.1,620.6 L145.6,617.7 L146.1,610.8 L146.6,607.0 L147.1,608.5 L147.6,609.9 L148.1,617.5 L148.6,620.1 L149.1,620.0 L149.6,621.1 L150.1,620.6 L150.6,620.4 L151.1,619.1 L151.6,618.6 L152.1,616.3 L152.6,615.5 L153.1,618.7 L153.6,620.4 L154.1,620.0 L154.6,619.0 L155.1,620.1 L155.6,620.2 L156.1,620.5 L156.6,620.3 L157.1,621.0 L157.6,620.7 L158.1,620.1 L158.6,620.6 L159.1,620.4 L159.6,620.4 L160.1,620.3 L160.6,620.2 L161.1,617.3 L161.6,614.6 L162.1,615.5 L162.6,620.6 L163.1,620.8 L163.6,620.8 L164.1,620.6 L164.6,620.4 L165.1,621.1 L165.6,620.6 L166.1,620.9 L166.6,620.8 L167.1,620.4 L167.6,619.4 L168.1,620.4 L168.6,620.3 L169.1,620.4 L169.6,620.7 L170.1,620.8 L170.6,620.7 L171.1,620.8 L171.6,620.7 L172.1,621.0 L172.6,620.4 L173.1,620.8 L173.6,620.6 L174.1,620.9 L174.6,620.6 L175.1,620.9 L175.6,620.1 L176.1,620.0 L176.6,620.5 L177.1,620.8 L177.6,620.7 L178.1,620.3 L178.6,620.6 L179.1,620.0 L179.6,620.0 L180.1,620.5 L180.6,620.5 L181.1,619.6 L181.6,619.9 L182.1,619.3 L182.6,619.2 L183.1,619.7 L183.6,620.1 L184.1,619.9 L184.6,620.9 L185.1,620.2 L185.6,620.4 L186.1,620.3 L186.6,620.6 L187.1,620.6 L187.6,620.6 L188.1,619.1 L188.6,620.6 L189.1,620.9 L189.6,620.4 L190.1,620.6 L190.6,620.8 L191.1,620.8 L191.6,621.2 L192.1,620.5 L192.6,620.7 L193.1,620.4 L193.6,620.4 L194.1,620.3 L194.6,619.2 L195.1,620.9 L195.6,621.1 L196.1,620.7 L196.6,621.0 L197.1,620.7 L197.6,620.7 L198.1,620.6 L198.6,620.9 L199.1,620.6 L199.6,620.8 L200.1,620.6 L200.6,620.8 L201.1,620.9 L201.6,619.4 L202.1,620.6 L202.6,620.9 L203.1,620.4 L203.6,620.6 L204.1,620.4 L204.6,618.2 L205.1,616.2 L205.6,610.5 L206.1,611.6 L206.6,616.0 L207.1,617.6 L207.6,616.7 L208.1,617.0 L208.6,616.5 L209.1,617.3 L209.6,618.4 L210.1,616.5 L210.6,616.7 L211.1,616.9 L211.6,618.1 L212.1,615.9 L212.6,615.2 L213.1,618.1 L213.6,619.3 L214.1,619.5 L214.6,619.3 L215.1,620.4 L215.6,619.9 L216.1,619.9 L216.6,620.1 L217.1,620.4 L217.6,620.3 L218.1,621.0 L218.6,619.5 L219.1,620.4 L219.6,619.6 L220.1,620.5 L220.6,620.0 L221.1,620.2 L221.6,620.2 L222.1,619.9 L222.6,620.1 L223.1,620.4 L223.6,620.4 L224.1,620.8 L224.6,620.8 L225.1,621.1 L225.6,621.0 L226.1,620.8 L226.6,621.0 L227.1,620.9 L227.6,621.2 L228.1,620.9 L228.6,620.9 L229.1,619.8 L229.6,620.8 L230.1,620.8 L230.6,620.8 L231.1,621.0 L231.6,621.3 L232.1,620.9 L232.6,620.9 L233.1,621.0 L233.6,621.2 L234.1,620.9 L234.6,621.1 L235.1,621.1 L235.6,620.9 L236.1,620.9 L236.6,620.9 L237.1,621.1 L237.1,621.6 Z" fill="#1616dc" stroke="none"/>
<line x1="13.50" y1="621.60" x2="238.00" y2="621.60" stroke="#0a0a90" stroke-width="1.0"/>
<rect x="13.50" y="600.80" width="224.50" height="21.60" fill="none" stroke="#707070" stroke-width="1.05"/>
<line x1="20.60" y1="600.80" x2="20.60" y2="603.70" stroke="#555" stroke-width="0.9"/>
<line x1="20.60" y1="622.40" x2="20.60" y2="619.50" stroke="#555" stroke-width="0.9"/>
<line x1="35.09" y1="600.80" x2="35.09" y2="603.70" stroke="#555" stroke-width="0.9"/>
<line x1="35.09" y1="622.40" x2="35.09" y2="619.50" stroke="#555" stroke-width="0.9"/>
<line x1="49.58" y1="600.80" x2="49.58" y2="603.70" stroke="#555" stroke-width="0.9"/>
<line x1="49.58" y1="622.40" x2="49.58" y2="619.50" stroke="#555" stroke-width="0.9"/>
<line x1="64.07" y1="600.80" x2="64.07" y2="603.70" stroke="#555" stroke-width="0.9"/>
<line x1="64.07" y1="622.40" x2="64.07" y2="619.50" stroke="#555" stroke-width="0.9"/>
<line x1="78.56" y1="600.80" x2="78.56" y2="603.70" stroke="#555" stroke-width="0.9"/>
<line x1="78.56" y1="622.40" x2="78.56" y2="619.50" stroke="#555" stroke-width="0.9"/>
<line x1="93.05" y1="600.80" x2="93.05" y2="603.70" stroke="#555" stroke-width="0.9"/>
<line x1="93.05" y1="622.40" x2="93.05" y2="619.50" stroke="#555" stroke-width="0.9"/>
<line x1="107.54" y1="600.80" x2="107.54" y2="603.70" stroke="#555" stroke-width="0.9"/>
<line x1="107.54" y1="622.40" x2="107.54" y2="619.50" stroke="#555" stroke-width="0.9"/>
<line x1="122.03" y1="600.80" x2="122.03" y2="603.70" stroke="#555" stroke-width="0.9"/>
<line x1="122.03" y1="622.40" x2="122.03" y2="619.50" stroke="#555" stroke-width="0.9"/>
<line x1="136.52" y1="600.80" x2="136.52" y2="603.70" stroke="#555" stroke-width="0.9"/>
<line x1="136.52" y1="622.40" x2="136.52" y2="619.50" stroke="#555" stroke-width="0.9"/>
<line x1="151.01" y1="600.80" x2="151.01" y2="603.70" stroke="#555" stroke-width="0.9"/>
<line x1="151.01" y1="622.40" x2="151.01" y2="619.50" stroke="#555" stroke-width="0.9"/>
<line x1="165.50" y1="600.80" x2="165.50" y2="603.70" stroke="#555" stroke-width="0.9"/>
<line x1="165.50" y1="622.40" x2="165.50" y2="619.50" stroke="#555" stroke-width="0.9"/>
<line x1="179.99" y1="600.80" x2="179.99" y2="603.70" stroke="#555" stroke-width="0.9"/>
<line x1="179.99" y1="622.40" x2="179.99" y2="619.50" stroke="#555" stroke-width="0.9"/>
<line x1="194.48" y1="600.80" x2="194.48" y2="603.70" stroke="#555" stroke-width="0.9"/>
<line x1="194.48" y1="622.40" x2="194.48" y2="619.50" stroke="#555" stroke-width="0.9"/>
<line x1="208.97" y1="600.80" x2="208.97" y2="603.70" stroke="#555" stroke-width="0.9"/>
<line x1="208.97" y1="622.40" x2="208.97" y2="619.50" stroke="#555" stroke-width="0.9"/>
<line x1="223.46" y1="600.80" x2="223.46" y2="603.70" stroke="#555" stroke-width="0.9"/>
<line x1="223.46" y1="622.40" x2="223.46" y2="619.50" stroke="#555" stroke-width="0.9"/>
<line x1="13.50" y1="603.60" x2="15.30" y2="603.60" stroke="#555" stroke-width="0.7"/>
<line x1="236.20" y1="603.60" x2="238.00" y2="603.60" stroke="#555" stroke-width="0.7"/>
<line x1="13.50" y1="621.10" x2="15.30" y2="621.10" stroke="#555" stroke-width="0.7"/>
<line x1="236.20" y1="621.10" x2="238.00" y2="621.10" stroke="#555" stroke-width="0.7"/>
<text x="12.90" y="606.39" font-family="Liberation Sans" font-size="5.8" text-anchor="end" fill="#000">30</text>
<text x="12.90" y="622.39" font-family="Liberation Sans" font-size="5.8" text-anchor="end" fill="#000">0</text>
<path d="M14.1,645.8 L14.1,644.9 L14.6,644.3 L15.1,644.1 L15.6,644.3 L16.1,645.1 L16.6,644.5 L17.1,645.1 L17.6,644.5 L18.1,644.7 L18.6,644.2 L19.1,644.5 L19.6,644.3 L20.1,645.2 L20.6,642.1 L21.1,644.7 L21.6,645.2 L22.1,644.3 L22.6,644.6 L23.1,644.8 L23.6,643.5 L24.1,644.4 L24.6,644.4 L25.1,644.8 L25.6,645.2 L26.1,645.1 L26.6,642.0 L27.1,644.4 L27.6,645.1 L28.1,644.8 L28.6,644.7 L29.1,644.9 L29.6,644.8 L30.1,644.7 L30.6,644.4 L31.1,644.5 L31.6,645.2 L32.1,644.8 L32.6,645.1 L33.1,644.3 L33.6,644.8 L34.1,645.2 L34.6,644.8 L35.1,645.3 L35.6,644.7 L36.1,644.9 L36.6,644.7 L37.1,644.9 L37.6,644.9 L38.1,645.0 L38.6,644.5 L39.1,645.2 L39.6,644.2 L40.1,644.2 L40.6,644.5 L41.1,644.5 L41.6,644.0 L42.1,644.9 L42.6,644.9 L43.1,644.7 L43.6,644.8 L44.1,644.6 L44.6,644.4 L45.1,645.1 L45.6,644.5 L46.1,644.2 L46.6,644.6 L47.1,644.9 L47.6,644.8 L48.1,645.0 L48.6,644.1 L49.1,642.6 L49.6,644.9 L50.1,645.0 L50.6,644.5 L51.1,644.2 L51.6,644.7 L52.1,644.8 L52.6,643.5 L53.1,644.5 L53.6,644.3 L54.1,644.2 L54.6,644.4 L55.1,644.9 L55.6,644.4 L56.1,644.6 L56.6,644.2 L57.1,645.0 L57.6,644.5 L58.1,645.1 L58.6,644.2 L59.1,645.0 L59.6,644.2 L60.1,645.2 L60.6,644.6 L61.1,644.7 L61.6,644.5 L62.1,645.0 L62.6,645.0 L63.1,644.8 L63.6,645.0 L64.1,644.9 L64.6,645.1 L65.1,644.7 L65.6,642.0 L66.1,644.2 L66.6,645.1 L67.1,645.2 L67.6,644.9 L68.1,645.1 L68.6,645.1 L69.1,644.4 L69.6,645.1 L70.1,645.1 L70.6,645.0 L71.1,642.5 L71.6,644.3 L72.1,644.5 L72.6,644.9 L73.1,644.2 L73.6,644.4 L74.1,644.4 L74.6,645.0 L75.1,644.7 L75.6,644.7 L76.1,644.9 L76.6,645.2 L77.1,645.2 L77.6,644.2 L78.1,644.7 L78.6,645.1 L79.1,644.2 L79.6,644.2 L80.1,644.5 L80.6,645.1 L81.1,644.9 L81.6,645.1 L82.1,644.9 L82.6,644.3 L83.1,644.6 L83.6,644.3 L84.1,644.2 L84.6,642.1 L85.1,644.7 L85.6,643.1 L86.1,644.8 L86.6,644.3 L87.1,645.0 L87.6,643.2 L88.1,644.6 L88.6,644.2 L89.1,644.6 L89.6,644.8 L90.1,644.8 L90.6,645.0 L91.1,644.9 L91.6,644.2 L92.1,644.4 L92.6,644.5 L93.1,644.9 L93.6,644.4 L94.1,644.7 L94.6,644.2 L95.1,645.2 L95.6,645.2 L96.1,644.3 L96.6,645.1 L97.1,645.2 L97.6,645.1 L98.1,645.0 L98.6,644.3 L99.1,644.4 L99.6,644.8 L100.1,644.8 L100.6,644.9 L101.1,645.2 L101.6,644.7 L102.1,645.2 L102.6,644.3 L103.1,644.4 L103.6,645.1 L104.1,645.2 L104.6,644.8 L105.1,645.2 L105.6,644.6 L106.1,644.3 L106.6,644.1 L107.1,644.9 L107.6,645.1 L108.1,644.7 L108.6,644.9 L109.1,644.4 L109.6,644.6 L110.1,644.6 L110.6,644.9 L111.1,644.7 L111.6,644.4 L112.1,644.6 L112.6,645.1 L113.1,644.2 L113.6,645.1 L114.1,644.7 L114.6,645.1 L115.1,644.7 L115.6,644.7 L116.1,644.1 L116.6,645.2 L117.1,643.2 L117.6,643.8 L118.1,645.0 L118.6,643.1 L119.1,644.6 L119.6,644.9 L120.1,644.5 L120.6,644.5 L121.1,643.4 L121.6,644.3 L122.1,644.6 L122.6,645.2 L123.1,645.1 L123.6,644.4 L124.1,644.2 L124.6,644.4 L125.1,645.1 L125.6,644.5 L126.1,645.1 L126.6,644.2 L127.1,644.2 L127.6,645.2 L128.1,644.3 L128.6,644.7 L129.1,644.8 L129.6,644.8 L130.1,644.6 L130.6,645.1 L131.1,644.6 L131.6,644.7 L132.1,644.1 L132.6,644.6 L133.1,644.6 L133.6,643.9 L134.1,644.7 L134.6,643.6 L135.1,645.0 L135.6,644.2 L136.1,644.4 L136.6,644.7 L137.1,645.1 L137.6,645.0 L138.1,645.0 L138.6,644.8 L139.1,644.7 L139.6,645.0 L140.1,644.6 L140.6,644.4 L141.1,644.9 L141.6,644.6 L142.1,645.2 L142.6,644.2 L143.1,645.1 L143.6,644.7 L144.1,644.3 L144.6,644.7 L145.1,644.7 L145.6,644.3 L146.1,638.9 L146.6,637.6 L147.1,640.7 L147.6,644.4 L148.1,644.5 L148.6,644.4 L149.1,645.0 L149.6,644.1 L150.1,644.5 L150.6,644.7 L151.1,644.9 L151.6,644.3 L152.1,644.1 L152.6,644.1 L153.1,644.6 L153.6,645.2 L154.1,645.1 L154.6,645.0 L155.1,642.3 L155.6,644.5 L156.1,644.8 L156.6,644.2 L157.1,644.3 L157.6,644.2 L158.1,642.5 L158.6,644.3 L159.1,644.3 L159.6,644.3 L160.1,644.6 L160.6,644.2 L161.1,644.8 L161.6,644.1 L162.1,645.1 L162.6,644.9 L163.1,644.2 L163.6,644.7 L164.1,644.5 L164.6,644.7 L165.1,645.2 L165.6,645.2 L166.1,644.9 L166.6,644.8 L167.1,645.1 L167.6,644.9 L168.1,645.0 L168.6,644.1 L169.1,644.3 L169.6,644.7 L170.1,644.6 L170.6,645.2 L171.1,644.3 L171.6,642.6 L172.1,643.0 L172.6,644.3 L173.1,644.8 L173.6,644.2 L174.1,645.0 L174.6,644.4 L175.1,644.1 L175.6,644.6 L176.1,644.2 L176.6,644.2 L177.1,644.3 L177.6,644.8 L178.1,644.2 L178.6,644.4 L179.1,644.5 L179.6,643.8 L180.1,645.0 L180.6,644.4 L181.1,644.9 L181.6,644.5 L182.1,644.2 L182.6,642.9 L183.1,643.5 L183.6,645.2 L184.1,644.6 L184.6,644.4 L185.1,644.2 L185.6,645.2 L186.1,645.0 L186.6,644.9 L187.1,644.9 L187.6,644.2 L188.1,645.2 L188.6,644.3 L189.1,643.6 L189.6,644.9 L190.1,644.5 L190.6,644.7 L191.1,645.0 L191.6,644.9 L192.1,644.9 L192.6,644.3 L193.1,644.8 L193.6,645.1 L194.1,644.5 L194.6,644.5 L195.1,644.5 L195.6,644.4 L196.1,645.1 L196.6,644.8 L197.1,645.1 L197.6,644.8 L198.1,644.7 L198.6,644.3 L199.1,642.2 L199.6,644.1 L200.1,645.2 L200.6,644.9 L201.1,643.5 L201.6,644.2 L202.1,644.3 L202.6,644.6 L203.1,645.0 L203.6,642.0 L204.1,645.0 L204.6,644.3 L205.1,645.1 L205.6,644.1 L206.1,644.6 L206.6,638.3 L207.1,633.4 L207.6,634.9 L208.1,644.1 L208.6,644.5 L209.1,645.2 L209.6,644.7 L210.1,644.1 L210.6,644.9 L211.1,645.1 L211.6,644.3 L212.1,644.4 L212.6,645.0 L213.1,644.6 L213.6,644.3 L214.1,645.2 L214.6,645.1 L215.1,644.3 L215.6,644.1 L216.1,644.6 L216.6,644.2 L217.1,644.9 L217.6,644.9 L218.1,644.2 L218.6,644.5 L219.1,645.2 L219.6,642.0 L220.1,642.2 L220.6,644.8 L221.1,643.4 L221.6,644.7 L222.1,644.4 L222.6,644.7 L223.1,644.4 L223.6,644.8 L224.1,644.7 L224.6,643.3 L225.1,643.4 L225.6,644.4 L226.1,644.6 L226.6,644.3 L227.1,644.8 L227.6,644.9 L228.1,644.3 L228.6,645.0 L229.1,645.2 L229.6,644.8 L230.1,645.2 L230.6,645.2 L231.1,644.7 L231.6,645.0 L232.1,645.2 L232.6,642.9 L233.1,644.6 L233.6,644.7 L234.1,645.2 L234.6,644.9 L235.1,644.3 L235.6,644.9 L236.1,644.3 L236.6,644.8 L237.1,644.7 L237.1,645.8 Z" fill="#18ec18" stroke="none"/>
<line x1="13.50" y1="645.80" x2="238.00" y2="645.80" stroke="#0a9a0a" stroke-width="1.0"/>
<rect x="13.50" y="625.00" width="224.50" height="21.60" fill="none" stroke="#707070" stroke-width="1.05"/>
<line x1="20.60" y1="625.00" x2="20.60" y2="627.90" stroke="#555" stroke-width="0.9"/>
<line x1="20.60" y1="646.60" x2="20.60" y2="643.70" stroke="#555" stroke-width="0.9"/>
<line x1="35.09" y1="625.00" x2="35.09" y2="627.90" stroke="#555" stroke-width="0.9"/>
<line x1="35.09" y1="646.60" x2="35.09" y2="643.70" stroke="#555" stroke-width="0.9"/>
<line x1="49.58" y1="625.00" x2="49.58" y2="627.90" stroke="#555" stroke-width="0.9"/>
<line x1="49.58" y1="646.60" x2="49.58" y2="643.70" stroke="#555" stroke-width="0.9"/>
<line x1="64.07" y1="625.00" x2="64.07" y2="627.90" stroke="#555" stroke-width="0.9"/>
<line x1="64.07" y1="646.60" x2="64.07" y2="643.70" stroke="#555" stroke-width="0.9"/>
<line x1="78.56" y1="625.00" x2="78.56" y2="627.90" stroke="#555" stroke-width="0.9"/>
<line x1="78.56" y1="646.60" x2="78.56" y2="643.70" stroke="#555" stroke-width="0.9"/>
<line x1="93.05" y1="625.00" x2="93.05" y2="627.90" stroke="#555" stroke-width="0.9"/>
<line x1="93.05" y1="646.60" x2="93.05" y2="643.70" stroke="#555" stroke-width="0.9"/>
<line x1="107.54" y1="625.00" x2="107.54" y2="627.90" stroke="#555" stroke-width="0.9"/>
<line x1="107.54" y1="646.60" x2="107.54" y2="643.70" stroke="#555" stroke-width="0.9"/>
<line x1="122.03" y1="625.00" x2="122.03" y2="627.90" stroke="#555" stroke-width="0.9"/>
<line x1="122.03" y1="646.60" x2="122.03" y2="643.70" stroke="#555" stroke-width="0.9"/>
<line x1="136.52" y1="625.00" x2="136.52" y2="627.90" stroke="#555" stroke-width="0.9"/>
<line x1="136.52" y1="646.60" x2="136.52" y2="643.70" stroke="#555" stroke-width="0.9"/>
<line x1="151.01" y1="625.00" x2="151.01" y2="627.90" stroke="#555" stroke-width="0.9"/>
<line x1="151.01" y1="646.60" x2="151.01" y2="643.70" stroke="#555" stroke-width="0.9"/>
<line x1="165.50" y1="625.00" x2="165.50" y2="627.90" stroke="#555" stroke-width="0.9"/>
<line x1="165.50" y1="646.60" x2="165.50" y2="643.70" stroke="#555" stroke-width="0.9"/>
<line x1="179.99" y1="625.00" x2="179.99" y2="627.90" stroke="#555" stroke-width="0.9"/>
<line x1="179.99" y1="646.60" x2="179.99" y2="643.70" stroke="#555" stroke-width="0.9"/>
<line x1="194.48" y1="625.00" x2="194.48" y2="627.90" stroke="#555" stroke-width="0.9"/>
<line x1="194.48" y1="646.60" x2="194.48" y2="643.70" stroke="#555" stroke-width="0.9"/>
<line x1="208.97" y1="625.00" x2="208.97" y2="627.90" stroke="#555" stroke-width="0.9"/>
<line x1="208.97" y1="646.60" x2="208.97" y2="643.70" stroke="#555" stroke-width="0.9"/>
<line x1="223.46" y1="625.00" x2="223.46" y2="627.90" stroke="#555" stroke-width="0.9"/>
<line x1="223.46" y1="646.60" x2="223.46" y2="643.70" stroke="#555" stroke-width="0.9"/>
<line x1="13.50" y1="627.80" x2="15.30" y2="627.80" stroke="#555" stroke-width="0.7"/>
<line x1="236.20" y1="627.80" x2="238.00" y2="627.80" stroke="#555" stroke-width="0.7"/>
<line x1="13.50" y1="645.30" x2="15.30" y2="645.30" stroke="#555" stroke-width="0.7"/>
<line x1="236.20" y1="645.30" x2="238.00" y2="645.30" stroke="#555" stroke-width="0.7"/>
<text x="12.90" y="630.59" font-family="Liberation Sans" font-size="5.8" text-anchor="end" fill="#000">30</text>
<text x="12.90" y="646.59" font-family="Liberation Sans" font-size="5.8" text-anchor="end" fill="#000">0</text>
<path d="M14.1,669.7 L14.1,668.4 L14.6,668.4 L15.1,668.3 L15.6,667.2 L16.1,668.2 L16.6,667.2 L17.1,669.1 L17.6,668.6 L18.1,668.6 L18.6,669.1 L19.1,668.4 L19.6,668.5 L20.1,668.7 L20.6,668.6 L21.1,668.6 L21.6,668.5 L22.1,666.3 L22.6,668.2 L23.1,666.0 L23.6,667.0 L24.1,667.6 L24.6,669.0 L25.1,666.3 L25.6,668.3 L26.1,668.4 L26.6,668.2 L27.1,668.1 L27.6,668.4 L28.1,666.2 L28.6,668.6 L29.1,668.7 L29.6,668.3 L30.1,668.7 L30.6,669.1 L31.1,668.1 L31.6,668.6 L32.1,669.1 L32.6,666.3 L33.1,669.1 L33.6,668.4 L34.1,668.7 L34.6,668.9 L35.1,668.7 L35.6,668.2 L36.1,668.1 L36.6,668.8 L37.1,668.4 L37.6,668.7 L38.1,668.1 L38.6,668.0 L39.1,668.2 L39.6,667.1 L40.1,661.6 L40.6,650.3 L41.1,653.8 L41.6,668.2 L42.1,668.1 L42.6,668.5 L43.1,669.0 L43.6,668.7 L44.1,668.5 L44.6,668.7 L45.1,666.2 L45.6,668.9 L46.1,668.7 L46.6,667.2 L47.1,668.5 L47.6,668.1 L48.1,668.4 L48.6,668.7 L49.1,668.9 L49.6,668.0 L50.1,669.0 L50.6,668.7 L51.1,668.2 L51.6,668.4 L52.1,668.4 L52.6,669.0 L53.1,668.5 L53.6,668.1 L54.1,668.0 L54.6,668.2 L55.1,669.0 L55.6,668.6 L56.1,668.5 L56.6,668.8 L57.1,668.8 L57.6,668.5 L58.1,668.0 L58.6,666.2 L59.1,661.1 L59.6,663.2 L60.1,668.8 L60.6,668.2 L61.1,668.8 L61.6,669.0 L62.1,668.1 L62.6,668.1 L63.1,669.0 L63.6,668.2 L64.1,668.5 L64.6,668.6 L65.1,668.1 L65.6,669.0 L66.1,668.7 L66.6,668.1 L67.1,668.6 L67.6,668.9 L68.1,668.0 L68.6,668.3 L69.1,669.0 L69.6,668.3 L70.1,668.9 L70.6,668.3 L71.1,669.1 L71.6,668.5 L72.1,668.3 L72.6,668.9 L73.1,669.0 L73.6,668.0 L74.1,669.0 L74.6,668.9 L75.1,668.6 L75.6,668.4 L76.1,668.9 L76.6,668.5 L77.1,668.2 L77.6,668.9 L78.1,668.6 L78.6,669.0 L79.1,669.1 L79.6,668.1 L80.1,668.1 L80.6,650.3 L81.1,650.3 L81.6,665.5 L82.1,667.7 L82.6,668.9 L83.1,668.3 L83.6,668.3 L84.1,668.2 L84.6,668.4 L85.1,668.9 L85.6,668.3 L86.1,668.5 L86.6,669.1 L87.1,668.2 L87.6,669.0 L88.1,668.8 L88.6,668.7 L89.1,668.5 L89.6,669.1 L90.1,666.6 L90.6,668.1 L91.1,668.5 L91.6,668.2 L92.1,669.0 L92.6,668.4 L93.1,668.7 L93.6,668.8 L94.1,668.1 L94.6,668.2 L95.1,668.1 L95.6,668.0 L96.1,668.5 L96.6,668.2 L97.1,668.4 L97.6,669.0 L98.1,668.1 L98.6,668.0 L99.1,668.7 L99.6,667.0 L100.1,668.8 L100.6,667.7 L101.1,669.1 L101.6,668.1 L102.1,668.0 L102.6,668.5 L103.1,669.1 L103.6,668.6 L104.1,668.1 L104.6,668.8 L105.1,667.1 L105.6,668.8 L106.1,668.5 L106.6,668.3 L107.1,668.5 L107.6,668.5 L108.1,668.8 L108.6,669.1 L109.1,668.9 L109.6,668.9 L110.1,668.9 L110.6,668.1 L111.1,669.0 L111.6,668.9 L112.1,668.2 L112.6,669.0 L113.1,668.9 L113.6,666.8 L114.1,668.3 L114.6,668.3 L115.1,668.5 L115.6,666.3 L116.1,665.8 L116.6,667.5 L117.1,668.3 L117.6,668.0 L118.1,667.3 L118.6,669.0 L119.1,669.0 L119.6,669.1 L120.1,669.1 L120.6,668.1 L121.1,669.0 L121.6,666.9 L122.1,669.1 L122.6,668.1 L123.1,666.9 L123.6,668.5 L124.1,669.0 L124.6,667.7 L125.1,668.5 L125.6,668.3 L126.1,668.6 L126.6,668.7 L127.1,668.7 L127.6,668.6 L128.1,668.3 L128.6,668.2 L129.1,668.9 L129.6,667.2 L130.1,668.6 L130.6,668.9 L131.1,669.1 L131.6,668.7 L132.1,668.6 L132.6,668.3 L133.1,669.2 L133.6,668.8 L134.1,668.1 L134.6,668.3 L135.1,667.6 L135.6,665.8 L136.1,666.2 L136.6,668.7 L137.1,668.8 L137.6,669.1 L138.1,668.9 L138.6,668.5 L139.1,668.3 L139.6,668.7 L140.1,669.0 L140.6,669.1 L141.1,668.4 L141.6,668.7 L142.1,668.6 L142.6,668.3 L143.1,668.6 L143.6,669.1 L144.1,668.7 L144.6,668.8 L145.1,668.6 L145.6,666.2 L146.1,664.9 L146.6,664.1 L147.1,666.6 L147.6,668.6 L148.1,669.1 L148.6,669.1 L149.1,668.3 L149.6,668.9 L150.1,668.1 L150.6,668.0 L151.1,669.1 L151.6,668.1 L152.1,666.3 L152.6,666.0 L153.1,668.5 L153.6,668.1 L154.1,668.5 L154.6,668.7 L155.1,669.1 L155.6,668.9 L156.1,668.8 L156.6,668.7 L157.1,668.5 L157.6,669.1 L158.1,668.8 L158.6,668.1 L159.1,668.6 L159.6,668.7 L160.1,668.6 L160.6,668.8 L161.1,668.2 L161.6,668.1 L162.1,669.1 L162.6,668.5 L163.1,668.9 L163.6,668.3 L164.1,668.8 L164.6,668.8 L165.1,669.1 L165.6,667.2 L166.1,668.0 L166.6,668.3 L167.1,668.4 L167.6,669.1 L168.1,667.9 L168.6,668.1 L169.1,668.6 L169.6,668.4 L170.1,667.4 L170.6,668.6 L171.1,668.1 L171.6,668.5 L172.1,668.4 L172.6,667.4 L173.1,668.8 L173.6,668.6 L174.1,668.5 L174.6,668.6 L175.1,669.1 L175.6,668.5 L176.1,668.4 L176.6,669.1 L177.1,668.8 L177.6,668.1 L178.1,667.6 L178.6,668.5 L179.1,668.3 L179.6,668.0 L180.1,668.1 L180.6,668.5 L181.1,669.0 L181.6,668.3 L182.1,669.0 L182.6,668.0 L183.1,668.2 L183.6,666.9 L184.1,668.2 L184.6,668.2 L185.1,668.8 L185.6,668.2 L186.1,668.5 L186.6,667.1 L187.1,668.0 L187.6,668.2 L188.1,669.0 L188.6,668.5 L189.1,668.3 L189.6,668.1 L190.1,668.5 L190.6,668.5 L191.1,669.0 L191.6,668.3 L192.1,668.6 L192.6,668.5 L193.1,668.8 L193.6,668.7 L194.1,668.1 L194.6,668.9 L195.1,667.5 L195.6,669.0 L196.1,669.0 L196.6,666.8 L197.1,668.2 L197.6,669.0 L198.1,668.5 L198.6,668.1 L199.1,667.6 L199.6,668.1 L200.1,668.4 L200.6,669.2 L201.1,668.6 L201.6,669.0 L202.1,669.0 L202.6,667.4 L203.1,669.0 L203.6,668.3 L204.1,668.5 L204.6,668.2 L205.1,668.9 L205.6,664.8 L206.1,661.1 L206.6,661.8 L207.1,662.3 L207.6,666.6 L208.1,669.1 L208.6,666.5 L209.1,665.8 L209.6,667.5 L210.1,668.1 L210.6,668.8 L211.1,668.8 L211.6,668.1 L212.1,668.3 L212.6,668.1 L213.1,668.8 L213.6,668.2 L214.1,668.4 L214.6,669.0 L215.1,668.7 L215.6,668.1 L216.1,668.3 L216.6,668.1 L217.1,669.1 L217.6,668.8 L218.1,669.1 L218.6,669.1 L219.1,667.6 L219.6,666.8 L220.1,668.2 L220.6,668.2 L221.1,668.1 L221.6,669.1 L222.1,668.8 L222.6,668.3 L223.1,668.8 L223.6,668.7 L224.1,667.2 L224.6,668.4 L225.1,668.3 L225.6,668.1 L226.1,669.1 L226.6,668.8 L227.1,668.4 L227.6,668.6 L228.1,668.1 L228.6,667.5 L229.1,668.8 L229.6,668.4 L230.1,668.9 L230.6,668.7 L231.1,668.8 L231.6,668.8 L232.1,668.6 L232.6,669.1 L233.1,668.1 L233.6,668.5 L234.1,669.0 L234.6,668.2 L235.1,669.1 L235.6,668.0 L236.1,668.6 L236.6,668.2 L237.1,668.2 L237.1,669.7 Z" fill="#1616dc" stroke="none"/>
<line x1="13.50" y1="669.70" x2="238.00" y2="669.70" stroke="#0a0a90" stroke-width="1.0"/>
<rect x="13.50" y="648.90" width="224.50" height="21.60" fill="none" stroke="#707070" stroke-width="1.05"/>
<line x1="20.60" y1="648.90" x2="20.60" y2="651.80" stroke="#555" stroke-width="0.9"/>
<line x1="20.60" y1="670.50" x2="20.60" y2="667.60" stroke="#555" stroke-width="0.9"/>
<line x1="35.09" y1="648.90" x2="35.09" y2="651.80" stroke="#555" stroke-width="0.9"/>
<line x1="35.09" y1="670.50" x2="35.09" y2="667.60" stroke="#555" stroke-width="0.9"/>
<line x1="49.58" y1="648.90" x2="49.58" y2="651.80" stroke="#555" stroke-width="0.9"/>
<line x1="49.58" y1="670.50" x2="49.58" y2="667.60" stroke="#555" stroke-width="0.9"/>
<line x1="64.07" y1="648.90" x2="64.07" y2="651.80" stroke="#555" stroke-width="0.9"/>
<line x1="64.07" y1="670.50" x2="64.07" y2="667.60" stroke="#555" stroke-width="0.9"/>
<line x1="78.56" y1="648.90" x2="78.56" y2="651.80" stroke="#555" stroke-width="0.9"/>
<line x1="78.56" y1="670.50" x2="78.56" y2="667.60" stroke="#555" stroke-width="0.9"/>
<line x1="93.05" y1="648.90" x2="93.05" y2="651.80" stroke="#555" stroke-width="0.9"/>
<line x1="93.05" y1="670.50" x2="93.05" y2="667.60" stroke="#555" stroke-width="0.9"/>
<line x1="107.54" y1="648.90" x2="107.54" y2="651.80" stroke="#555" stroke-width="0.9"/>
<line x1="107.54" y1="670.50" x2="107.54" y2="667.60" stroke="#555" stroke-width="0.9"/>
<line x1="122.03" y1="648.90" x2="122.03" y2="651.80" stroke="#555" stroke-width="0.9"/>
<line x1="122.03" y1="670.50" x2="122.03" y2="667.60" stroke="#555" stroke-width="0.9"/>
<line x1="136.52" y1="648.90" x2="136.52" y2="651.80" stroke="#555" stroke-width="0.9"/>
<line x1="136.52" y1="670.50" x2="136.52" y2="667.60" stroke="#555" stroke-width="0.9"/>
<line x1="151.01" y1="648.90" x2="151.01" y2="651.80" stroke="#555" stroke-width="0.9"/>
<line x1="151.01" y1="670.50" x2="151.01" y2="667.60" stroke="#555" stroke-width="0.9"/>
<line x1="165.50" y1="648.90" x2="165.50" y2="651.80" stroke="#555" stroke-width="0.9"/>
<line x1="165.50" y1="670.50" x2="165.50" y2="667.60" stroke="#555" stroke-width="0.9"/>
<line x1="179.99" y1="648.90" x2="179.99" y2="651.80" stroke="#555" stroke-width="0.9"/>
<line x1="179.99" y1="670.50" x2="179.99" y2="667.60" stroke="#555" stroke-width="0.9"/>
<line x1="194.48" y1="648.90" x2="194.48" y2="651.80" stroke="#555" stroke-width="0.9"/>
<line x1="194.48" y1="670.50" x2="194.48" y2="667.60" stroke="#555" stroke-width="0.9"/>
<line x1="208.97" y1="648.90" x2="208.97" y2="651.80" stroke="#555" stroke-width="0.9"/>
<line x1="208.97" y1="670.50" x2="208.97" y2="667.60" stroke="#555" stroke-width="0.9"/>
<line x1="223.46" y1="648.90" x2="223.46" y2="651.80" stroke="#555" stroke-width="0.9"/>
<line x1="223.46" y1="670.50" x2="223.46" y2="667.60" stroke="#555" stroke-width="0.9"/>
<line x1="13.50" y1="651.70" x2="15.30" y2="651.70" stroke="#555" stroke-width="0.7"/>
<line x1="236.20" y1="651.70" x2="238.00" y2="651.70" stroke="#555" stroke-width="0.7"/>
<line x1="13.50" y1="669.20" x2="15.30" y2="669.20" stroke="#555" stroke-width="0.7"/>
<line x1="236.20" y1="669.20" x2="238.00" y2="669.20" stroke="#555" stroke-width="0.7"/>
<text x="12.90" y="654.49" font-family="Liberation Sans" font-size="5.8" text-anchor="end" fill="#000">35</text>
<text x="12.90" y="670.49" font-family="Liberation Sans" font-size="5.8" text-anchor="end" fill="#000">0</text>
<text x="240.26" y="551.45" font-family="Liberation Sans" font-size="6.5" text-anchor="middle" fill="#000" font-weight="bold" transform="rotate(90 240.26 551.45)">H3K27me3</text>
<text x="240.26" y="599.50" font-family="Liberation Sans" font-size="6.5" text-anchor="middle" fill="#000" font-weight="bold" transform="rotate(90 240.26 599.50)">H3K4me1</text>
<text x="240.26" y="647.75" font-family="Liberation Sans" font-size="6.5" text-anchor="middle" fill="#000" font-weight="bold" transform="rotate(90 240.26 647.75)">RUNX1</text>
<line x1="208.50" y1="531.30" x2="223.40" y2="531.30" stroke="#333" stroke-width="1.0"/>
<line x1="208.50" y1="529.20" x2="208.50" y2="535.00" stroke="#333" stroke-width="1.0"/>
<line x1="223.40" y1="529.20" x2="223.40" y2="535.00" stroke="#333" stroke-width="1.0"/>
<text x="216.50" y="543.77" font-family="Liberation Sans" font-size="7.7" text-anchor="middle" fill="#111" font-weight="bold">20kb</text>
<text x="34.90" y="332.96" font-family="Liberation Sans" font-size="7.4" text-anchor="middle" fill="#111" font-weight="bold">E1</text>
<text x="68.80" y="332.96" font-family="Liberation Sans" font-size="7.4" text-anchor="middle" fill="#111" font-weight="bold">P</text>
<text x="80.40" y="332.96" font-family="Liberation Sans" font-size="7.4" text-anchor="middle" fill="#111" font-weight="bold">E2</text>
<text x="99.50" y="332.96" font-family="Liberation Sans" font-size="7.4" text-anchor="middle" fill="#111" font-weight="bold">E3</text>
<text x="108.80" y="332.96" font-family="Liberation Sans" font-size="7.4" text-anchor="middle" fill="#111" font-weight="bold">E4</text>
<text x="123.80" y="332.96" font-family="Liberation Sans" font-size="7.4" text-anchor="middle" fill="#111" font-weight="bold">E5</text>
<text x="136.20" y="332.96" font-family="Liberation Sans" font-size="7.4" text-anchor="middle" fill="#111" font-weight="bold">E6</text>
<text x="32.30" y="508.26" font-family="Liberation Sans" font-size="7.4" text-anchor="middle" fill="#111" font-weight="bold">E1</text>
<text x="41.90" y="508.26" font-family="Liberation Sans" font-size="7.4" text-anchor="middle" fill="#111" font-weight="bold">E2</text>
<text x="56.40" y="508.26" font-family="Liberation Sans" font-size="7.4" text-anchor="middle" fill="#111" font-weight="bold">E3</text>
<text x="132.70" y="507.96" font-family="Liberation Sans" font-size="7.4" text-anchor="middle" fill="#111" font-weight="bold">P</text>
<text x="178.80" y="508.26" font-family="Liberation Sans" font-size="7.4" text-anchor="middle" fill="#111" font-weight="bold">E4</text>
<text x="193.80" y="508.26" font-family="Liberation Sans" font-size="7.4" text-anchor="middle" fill="#111" font-weight="bold">E5</text>
<text x="40.70" y="679.36" font-family="Liberation Sans" font-size="7.4" text-anchor="middle" fill="#111" font-weight="bold">E1</text>
<text x="80.40" y="679.36" font-family="Liberation Sans" font-size="7.4" text-anchor="middle" fill="#111" font-weight="bold">E2</text>
<text x="207.20" y="677.46" font-family="Liberation Sans" font-size="7.4" text-anchor="middle" fill="#111" font-weight="bold">P</text>
<text x="56.30" y="341.18" font-family="Liberation Sans" font-size="6.6" text-anchor="middle" fill="#000" font-weight="bold">ITGB3</text>
<line x1="71.00" y1="338.80" x2="214.00" y2="338.80" stroke="#333" stroke-width="0.7"/>
<line x1="69.60" y1="336.60" x2="69.60" y2="341.00" stroke="#999" stroke-width="0.7"/>
<path d="M71.50,337.65 L73.20,338.80 L71.50,339.95 Z" fill="#333"/>
<path d="M74.40,337.65 L76.10,338.80 L74.40,339.95 Z" fill="#333"/>
<path d="M77.30,337.65 L79.00,338.80 L77.30,339.95 Z" fill="#333"/>
<path d="M80.20,337.65 L81.90,338.80 L80.20,339.95 Z" fill="#333"/>
<path d="M83.10,337.65 L84.80,338.80 L83.10,339.95 Z" fill="#333"/>
<path d="M86.00,337.65 L87.70,338.80 L86.00,339.95 Z" fill="#333"/>
<path d="M88.90,337.65 L90.60,338.80 L88.90,339.95 Z" fill="#333"/>
<path d="M91.80,337.65 L93.50,338.80 L91.80,339.95 Z" fill="#333"/>
<path d="M94.70,337.65 L96.40,338.80 L94.70,339.95 Z" fill="#333"/>
<path d="M97.60,337.65 L99.30,338.80 L97.60,339.95 Z" fill="#333"/>
<path d="M100.50,337.65 L102.20,338.80 L100.50,339.95 Z" fill="#333"/>
<path d="M103.40,337.65 L105.10,338.80 L103.40,339.95 Z" fill="#333"/>
<path d="M106.30,337.65 L108.00,338.80 L106.30,339.95 Z" fill="#333"/>
<path d="M109.20,337.65 L110.90,338.80 L109.20,339.95 Z" fill="#333"/>
<path d="M112.10,337.65 L113.80,338.80 L112.10,339.95 Z" fill="#333"/>
<path d="M115.00,337.65 L116.70,338.80 L115.00,339.95 Z" fill="#333"/>
<path d="M117.90,337.65 L119.60,338.80 L117.90,339.95 Z" fill="#333"/>
<path d="M120.80,337.65 L122.50,338.80 L120.80,339.95 Z" fill="#333"/>
<path d="M123.70,337.65 L125.40,338.80 L123.70,339.95 Z" fill="#333"/>
<path d="M126.60,337.65 L128.30,338.80 L126.60,339.95 Z" fill="#333"/>
<path d="M129.50,337.65 L131.20,338.80 L129.50,339.95 Z" fill="#333"/>
<path d="M132.40,337.65 L134.10,338.80 L132.40,339.95 Z" fill="#333"/>
<path d="M135.30,337.65 L137.00,338.80 L135.30,339.95 Z" fill="#333"/>
<path d="M138.20,337.65 L139.90,338.80 L138.20,339.95 Z" fill="#333"/>
<path d="M141.10,337.65 L142.80,338.80 L141.10,339.95 Z" fill="#333"/>
<path d="M144.00,337.65 L145.70,338.80 L144.00,339.95 Z" fill="#333"/>
<path d="M146.90,337.65 L148.60,338.80 L146.90,339.95 Z" fill="#333"/>
<path d="M149.80,337.65 L151.50,338.80 L149.80,339.95 Z" fill="#333"/>
<path d="M152.70,337.65 L154.40,338.80 L152.70,339.95 Z" fill="#333"/>
<path d="M155.60,337.65 L157.30,338.80 L155.60,339.95 Z" fill="#333"/>
<path d="M158.50,337.65 L160.20,338.80 L158.50,339.95 Z" fill="#333"/>
<path d="M161.40,337.65 L163.10,338.80 L161.40,339.95 Z" fill="#333"/>
<path d="M164.30,337.65 L166.00,338.80 L164.30,339.95 Z" fill="#333"/>
<path d="M167.20,337.65 L168.90,338.80 L167.20,339.95 Z" fill="#333"/>
<path d="M170.10,337.65 L171.80,338.80 L170.10,339.95 Z" fill="#333"/>
<path d="M173.00,337.65 L174.70,338.80 L173.00,339.95 Z" fill="#333"/>
<path d="M175.90,337.65 L177.60,338.80 L175.90,339.95 Z" fill="#333"/>
<path d="M178.80,337.65 L180.50,338.80 L178.80,339.95 Z" fill="#333"/>
<path d="M181.70,337.65 L183.40,338.80 L181.70,339.95 Z" fill="#333"/>
<path d="M184.60,337.65 L186.30,338.80 L184.60,339.95 Z" fill="#333"/>
<path d="M187.50,337.65 L189.20,338.80 L187.50,339.95 Z" fill="#333"/>
<path d="M190.40,337.65 L192.10,338.80 L190.40,339.95 Z" fill="#333"/>
<path d="M193.30,337.65 L195.00,338.80 L193.30,339.95 Z" fill="#333"/>
<path d="M196.20,337.65 L197.90,338.80 L196.20,339.95 Z" fill="#333"/>
<path d="M199.10,337.65 L200.80,338.80 L199.10,339.95 Z" fill="#333"/>
<path d="M202.00,337.65 L203.70,338.80 L202.00,339.95 Z" fill="#333"/>
<path d="M204.90,337.65 L206.60,338.80 L204.90,339.95 Z" fill="#333"/>
<path d="M207.80,337.65 L209.50,338.80 L207.80,339.95 Z" fill="#333"/>
<path d="M210.70,337.65 L212.40,338.80 L210.70,339.95 Z" fill="#333"/>
<line x1="144.30" y1="336.60" x2="144.30" y2="340.80" stroke="#111" stroke-width="0.9"/>
<line x1="146.90" y1="336.60" x2="146.90" y2="340.80" stroke="#111" stroke-width="0.9"/>
<line x1="150.40" y1="336.60" x2="150.40" y2="340.80" stroke="#111" stroke-width="0.9"/>
<line x1="152.50" y1="336.60" x2="152.50" y2="340.80" stroke="#111" stroke-width="0.9"/>
<line x1="153.80" y1="336.60" x2="153.80" y2="340.80" stroke="#111" stroke-width="0.9"/>
<line x1="161.60" y1="336.60" x2="161.60" y2="340.80" stroke="#111" stroke-width="0.9"/>
<line x1="164.20" y1="336.60" x2="164.20" y2="340.80" stroke="#111" stroke-width="0.9"/>
<line x1="166.00" y1="336.60" x2="166.00" y2="340.80" stroke="#111" stroke-width="0.9"/>
<line x1="167.70" y1="336.60" x2="167.70" y2="340.80" stroke="#111" stroke-width="0.9"/>
<line x1="185.80" y1="336.60" x2="185.80" y2="340.80" stroke="#111" stroke-width="0.9"/>
<line x1="190.20" y1="336.60" x2="190.20" y2="340.80" stroke="#111" stroke-width="0.9"/>
<line x1="206.60" y1="336.60" x2="206.60" y2="340.80" stroke="#111" stroke-width="0.9"/>
<rect x="213.50" y="337.00" width="6.10" height="3.50" fill="#000" stroke="none" stroke-width="1"/>
<text x="117.90" y="513.58" font-family="Liberation Sans" font-size="6.6" text-anchor="middle" fill="#000" font-weight="bold">VEGFA</text>
<line x1="132.70" y1="511.20" x2="157.00" y2="511.20" stroke="#222" stroke-width="0.7"/>
<path d="M134.50,510.05 L136.20,511.20 L134.50,512.35 Z" fill="#333"/>
<path d="M137.70,510.05 L139.40,511.20 L137.70,512.35 Z" fill="#333"/>
<path d="M140.90,510.05 L142.60,511.20 L140.90,512.35 Z" fill="#333"/>
<path d="M144.10,510.05 L145.80,511.20 L144.10,512.35 Z" fill="#333"/>
<path d="M147.30,510.05 L149.00,511.20 L147.30,512.35 Z" fill="#333"/>
<path d="M150.50,510.05 L152.20,511.20 L150.50,512.35 Z" fill="#333"/>
<path d="M153.70,510.05 L155.40,511.20 L153.70,512.35 Z" fill="#333"/>
<line x1="132.90" y1="508.80" x2="132.90" y2="513.60" stroke="#000" stroke-width="1.1"/>
<ellipse cx="145" cy="511.2" rx="1.4" ry="1.7" fill="#000"/>
<line x1="141.00" y1="509.80" x2="141.00" y2="512.60" stroke="#000" stroke-width="0.8"/>
<line x1="149.50" y1="509.80" x2="149.50" y2="512.60" stroke="#000" stroke-width="0.8"/>
<rect x="156.00" y="509.60" width="2.60" height="3.20" fill="#000" stroke="none" stroke-width="1"/>
<text x="186.80" y="683.98" font-family="Liberation Sans" font-size="6.6" text-anchor="middle" fill="#000" font-weight="bold">CTNNB</text>
<line x1="202.00" y1="681.60" x2="236.00" y2="681.60" stroke="#222" stroke-width="0.7"/>
<path d="M203.00,680.45 L204.70,681.60 L203.00,682.75 Z" fill="#333"/>
<path d="M206.00,680.45 L207.70,681.60 L206.00,682.75 Z" fill="#333"/>
<path d="M209.00,680.45 L210.70,681.60 L209.00,682.75 Z" fill="#333"/>
<path d="M212.00,680.45 L213.70,681.60 L212.00,682.75 Z" fill="#333"/>
<path d="M215.00,680.45 L216.70,681.60 L215.00,682.75 Z" fill="#333"/>
<path d="M218.00,680.45 L219.70,681.60 L218.00,682.75 Z" fill="#333"/>
<path d="M221.00,680.45 L222.70,681.60 L221.00,682.75 Z" fill="#333"/>
<line x1="221.20" y1="679.40" x2="221.20" y2="683.80" stroke="#000" stroke-width="0.9"/>
<rect x="223.30" y="679.60" width="2.40" height="4.00" fill="none" stroke="#333" stroke-width="0.6"/>
<line x1="225.50" y1="677.80" x2="237.00" y2="677.80" stroke="#999" stroke-width="0.5"/>
<rect x="230.40" y="679.00" width="3.20" height="5.40" fill="#000" stroke="none" stroke-width="1"/>
<line x1="234.50" y1="680.20" x2="234.50" y2="683.00" stroke="#000" stroke-width="0.9"/>
<line x1="237.80" y1="680.20" x2="237.80" y2="683.00" stroke="#333" stroke-width="0.6"/>
<rect x="283.40" y="321.99" width="7.20" height="4.81" fill="#2cbf2c" stroke="#000" stroke-width="1.45"/>
<rect x="290.60" y="321.99" width="7.80" height="4.81" fill="#3f6cef" stroke="#000" stroke-width="1.45"/>
<rect x="304.23" y="318.04" width="7.20" height="8.76" fill="#2cbf2c" stroke="#000" stroke-width="1.45"/>
<line x1="307.83" y1="312.98" x2="307.83" y2="324.01" stroke="#000" stroke-width="1.5"/>
<line x1="304.88" y1="312.98" x2="310.78" y2="312.98" stroke="#000" stroke-width="1.45"/>
<line x1="304.23" y1="324.01" x2="311.43" y2="324.01" stroke="#000" stroke-width="1.45"/>
<rect x="311.43" y="281.83" width="7.80" height="44.97" fill="#3f6cef" stroke="#000" stroke-width="1.45"/>
<line x1="315.33" y1="269.36" x2="315.33" y2="295.02" stroke="#000" stroke-width="1.5"/>
<line x1="312.13" y1="269.36" x2="318.53" y2="269.36" stroke="#000" stroke-width="1.45"/>
<line x1="311.43" y1="295.02" x2="319.23" y2="295.02" stroke="#000" stroke-width="1.45"/>
<rect x="325.06" y="316.06" width="7.20" height="10.74" fill="#2cbf2c" stroke="#000" stroke-width="1.45"/>
<line x1="328.66" y1="311.63" x2="328.66" y2="321.21" stroke="#000" stroke-width="1.5"/>
<line x1="325.71" y1="311.63" x2="331.61" y2="311.63" stroke="#000" stroke-width="1.45"/>
<line x1="325.06" y1="321.21" x2="332.26" y2="321.21" stroke="#000" stroke-width="1.45"/>
<rect x="332.26" y="289.15" width="7.80" height="37.65" fill="#3f6cef" stroke="#000" stroke-width="1.45"/>
<line x1="336.16" y1="280.67" x2="336.16" y2="299.26" stroke="#000" stroke-width="1.5"/>
<line x1="332.96" y1="280.67" x2="339.36" y2="280.67" stroke="#000" stroke-width="1.45"/>
<line x1="332.26" y1="299.26" x2="340.06" y2="299.26" stroke="#000" stroke-width="1.45"/>
<rect x="345.89" y="295.84" width="7.20" height="30.96" fill="#2cbf2c" stroke="#000" stroke-width="1.45"/>
<line x1="349.49" y1="283.47" x2="349.49" y2="310.43" stroke="#000" stroke-width="1.5"/>
<line x1="346.54" y1="283.47" x2="352.44" y2="283.47" stroke="#000" stroke-width="1.45"/>
<line x1="345.89" y1="310.43" x2="353.09" y2="310.43" stroke="#000" stroke-width="1.45"/>
<rect x="353.09" y="211.55" width="7.80" height="115.25" fill="#3f6cef" stroke="#000" stroke-width="1.2"/>
<line x1="356.99" y1="187.30" x2="356.99" y2="238.00" stroke="#000" stroke-width="1.4"/>
<line x1="353.87" y1="187.30" x2="360.11" y2="187.30" stroke="#000" stroke-width="1.4"/>
<path d="M347.09,236.60 L365.89,241.00 L365.89,249.40 L347.09,244.80 Z" fill="#fff"/>
<line x1="347.69" y1="238.00" x2="364.89" y2="243.20" stroke="#000" stroke-width="1.25"/>
<line x1="347.69" y1="241.50" x2="364.89" y2="247.20" stroke="#000" stroke-width="1.25"/>
<rect x="366.72" y="314.28" width="7.20" height="12.52" fill="#2cbf2c" stroke="#000" stroke-width="1.45"/>
<line x1="370.32" y1="307.54" x2="370.32" y2="321.50" stroke="#000" stroke-width="1.5"/>
<line x1="367.37" y1="307.54" x2="373.27" y2="307.54" stroke="#000" stroke-width="1.45"/>
<line x1="366.72" y1="321.50" x2="373.92" y2="321.50" stroke="#000" stroke-width="1.45"/>
<rect x="373.92" y="310.91" width="7.80" height="15.89" fill="#3f6cef" stroke="#000" stroke-width="1.45"/>
<line x1="377.82" y1="302.73" x2="377.82" y2="319.58" stroke="#000" stroke-width="1.5"/>
<line x1="374.62" y1="302.73" x2="381.02" y2="302.73" stroke="#000" stroke-width="1.45"/>
<line x1="373.92" y1="319.58" x2="381.72" y2="319.58" stroke="#000" stroke-width="1.45"/>
<rect x="387.55" y="320.40" width="7.20" height="6.40" fill="#2cbf2c" stroke="#000" stroke-width="1.45"/>
<line x1="391.15" y1="317.84" x2="391.15" y2="322.95" stroke="#000" stroke-width="1.5"/>
<line x1="388.20" y1="317.84" x2="394.10" y2="317.84" stroke="#000" stroke-width="1.45"/>
<line x1="387.55" y1="322.95" x2="394.75" y2="322.95" stroke="#000" stroke-width="1.45"/>
<rect x="394.75" y="304.17" width="7.80" height="22.63" fill="#3f6cef" stroke="#000" stroke-width="1.45"/>
<line x1="398.65" y1="297.91" x2="398.65" y2="310.09" stroke="#000" stroke-width="1.5"/>
<line x1="395.45" y1="297.91" x2="401.85" y2="297.91" stroke="#000" stroke-width="1.45"/>
<line x1="394.75" y1="310.09" x2="402.55" y2="310.09" stroke="#000" stroke-width="1.45"/>
<rect x="408.38" y="318.33" width="7.20" height="8.47" fill="#2cbf2c" stroke="#000" stroke-width="1.45"/>
<line x1="411.98" y1="312.69" x2="411.98" y2="323.91" stroke="#000" stroke-width="1.5"/>
<line x1="409.03" y1="312.69" x2="414.93" y2="312.69" stroke="#000" stroke-width="1.45"/>
<line x1="408.38" y1="323.91" x2="415.58" y2="323.91" stroke="#000" stroke-width="1.45"/>
<rect x="415.58" y="273.35" width="7.80" height="53.45" fill="#3f6cef" stroke="#000" stroke-width="1.45"/>
<line x1="419.48" y1="259.87" x2="419.48" y2="288.28" stroke="#000" stroke-width="1.5"/>
<line x1="416.28" y1="259.87" x2="422.68" y2="259.87" stroke="#000" stroke-width="1.45"/>
<line x1="415.58" y1="288.28" x2="423.38" y2="288.28" stroke="#000" stroke-width="1.45"/>
<rect x="429.21" y="318.33" width="7.20" height="8.47" fill="#2cbf2c" stroke="#000" stroke-width="1.45"/>
<line x1="432.81" y1="314.52" x2="432.81" y2="321.99" stroke="#000" stroke-width="1.5"/>
<line x1="429.86" y1="314.52" x2="435.76" y2="314.52" stroke="#000" stroke-width="1.45"/>
<line x1="429.21" y1="321.99" x2="436.41" y2="321.99" stroke="#000" stroke-width="1.45"/>
<rect x="436.41" y="269.50" width="7.80" height="57.30" fill="#3f6cef" stroke="#000" stroke-width="1.45"/>
<line x1="440.31" y1="256.50" x2="440.31" y2="283.47" stroke="#000" stroke-width="1.5"/>
<line x1="437.11" y1="256.50" x2="443.51" y2="256.50" stroke="#000" stroke-width="1.45"/>
<line x1="436.41" y1="283.47" x2="444.21" y2="283.47" stroke="#000" stroke-width="1.45"/>
<line x1="283.20" y1="180.30" x2="283.20" y2="238.80" stroke="#000" stroke-width="1.7"/>
<line x1="283.20" y1="247.90" x2="283.20" y2="327.60" stroke="#000" stroke-width="1.7"/>
<line x1="281.70" y1="326.80" x2="444.30" y2="326.80" stroke="#000" stroke-width="1.7"/>
<path d="M271,237.8 L295,245.6 L295,249.6 L271,241.8 Z" fill="#fff"/>
<line x1="275.20" y1="238.90" x2="291.80" y2="244.40" stroke="#000" stroke-width="1.25"/>
<line x1="275.20" y1="242.70" x2="291.80" y2="248.30" stroke="#000" stroke-width="1.25"/>
<line x1="279.40" y1="326.80" x2="283.20" y2="326.80" stroke="#000" stroke-width="1.5"/>
<text x="275.30" y="328.60" font-family="Liberation Serif" font-size="10.4" text-anchor="end" fill="#000" font-weight="bold">0</text>
<line x1="279.40" y1="302.73" x2="283.20" y2="302.73" stroke="#000" stroke-width="1.5"/>
<text x="275.30" y="304.53" font-family="Liberation Serif" font-size="10.4" text-anchor="end" fill="#000" font-weight="bold">5</text>
<line x1="279.40" y1="278.65" x2="283.20" y2="278.65" stroke="#000" stroke-width="1.5"/>
<text x="275.30" y="280.45" font-family="Liberation Serif" font-size="10.4" text-anchor="end" fill="#000" font-weight="bold">10</text>
<line x1="279.40" y1="254.57" x2="283.20" y2="254.57" stroke="#000" stroke-width="1.5"/>
<text x="275.30" y="256.38" font-family="Liberation Serif" font-size="10.4" text-anchor="end" fill="#000" font-weight="bold">15</text>
<line x1="279.40" y1="235.80" x2="283.20" y2="235.80" stroke="#000" stroke-width="1.5"/>
<text x="275.30" y="237.60" font-family="Liberation Serif" font-size="10.4" text-anchor="end" fill="#000" font-weight="bold">55</text>
<line x1="279.40" y1="211.55" x2="283.20" y2="211.55" stroke="#000" stroke-width="1.5"/>
<text x="275.30" y="213.35" font-family="Liberation Serif" font-size="10.4" text-anchor="end" fill="#000" font-weight="bold">60</text>
<line x1="279.40" y1="187.30" x2="283.20" y2="187.30" stroke="#000" stroke-width="1.5"/>
<text x="275.30" y="189.10" font-family="Liberation Serif" font-size="10.4" text-anchor="end" fill="#000" font-weight="bold">65</text>
<text x="262.18" y="257.00" font-family="Liberation Sans" font-size="9.4" text-anchor="middle" fill="#000" font-weight="bold" transform="rotate(-90 262.18 257.00)">Relative enrichment</text>
<text x="291.40" y="339.53" font-family="Liberation Sans" font-size="7.3" text-anchor="middle" fill="#111" font-weight="bold">NIS</text>
<text x="311.00" y="339.53" font-family="Liberation Sans" font-size="7.3" text-anchor="middle" fill="#111" font-weight="bold">E1</text>
<text x="331.60" y="339.53" font-family="Liberation Sans" font-size="7.3" text-anchor="middle" fill="#111" font-weight="bold">P</text>
<text x="352.50" y="339.53" font-family="Liberation Sans" font-size="7.3" text-anchor="middle" fill="#111" font-weight="bold">E2</text>
<text x="373.10" y="339.53" font-family="Liberation Sans" font-size="7.3" text-anchor="middle" fill="#111" font-weight="bold">E3</text>
<text x="394.40" y="339.53" font-family="Liberation Sans" font-size="7.3" text-anchor="middle" fill="#111" font-weight="bold">E4</text>
<text x="415.60" y="339.53" font-family="Liberation Sans" font-size="7.3" text-anchor="middle" fill="#111" font-weight="bold">E5</text>
<text x="436.20" y="339.53" font-family="Liberation Sans" font-size="7.3" text-anchor="middle" fill="#111" font-weight="bold">E6</text>
<g transform="translate(352.50,346.30)" stroke="#e0283a" stroke-width="1.3" stroke-linecap="round"><line x1="0" y1="-2.4" x2="0" y2="2.4"/><line x1="-2.1" y1="-1.2" x2="2.1" y2="1.2"/><line x1="-2.1" y1="1.2" x2="2.1" y2="-1.2"/></g>
<g transform="translate(415.60,346.30)" stroke="#e0283a" stroke-width="1.3" stroke-linecap="round"><line x1="0" y1="-2.4" x2="0" y2="2.4"/><line x1="-2.1" y1="-1.2" x2="2.1" y2="1.2"/><line x1="-2.1" y1="1.2" x2="2.1" y2="-1.2"/></g>
<g transform="translate(436.20,346.30)" stroke="#e0283a" stroke-width="1.3" stroke-linecap="round"><line x1="0" y1="-2.4" x2="0" y2="2.4"/><line x1="-2.1" y1="-1.2" x2="2.1" y2="1.2"/><line x1="-2.1" y1="1.2" x2="2.1" y2="-1.2"/></g>
<line x1="467.20" y1="190.20" x2="467.20" y2="327.60" stroke="#000" stroke-width="1.7"/>
<line x1="465.70" y1="326.80" x2="516.00" y2="326.80" stroke="#000" stroke-width="1.7"/>
<rect x="468.50" y="322.24" width="9.20" height="4.56" fill="#c8c8c8" stroke="#000" stroke-width="1.45"/>
<rect x="481.30" y="262.32" width="8.90" height="64.48" fill="#c8c8c8" stroke="#000" stroke-width="1.45"/>
<line x1="485.75" y1="247.91" x2="485.75" y2="277.55" stroke="#000" stroke-width="1.5"/>
<line x1="482.10" y1="247.91" x2="489.40" y2="247.91" stroke="#000" stroke-width="1.45"/>
<line x1="481.30" y1="277.55" x2="490.20" y2="277.55" stroke="#000" stroke-width="1.45"/>
<rect x="491.90" y="228.76" width="9.60" height="98.04" fill="#c8c8c8" stroke="#000" stroke-width="1.45"/>
<line x1="496.70" y1="205.05" x2="496.70" y2="253.84" stroke="#000" stroke-width="1.5"/>
<line x1="492.76" y1="205.05" x2="500.64" y2="205.05" stroke="#000" stroke-width="1.45"/>
<line x1="491.90" y1="253.84" x2="501.50" y2="253.84" stroke="#000" stroke-width="1.45"/>
<rect x="503.80" y="274.59" width="9.90" height="52.21" fill="#c8c8c8" stroke="#000" stroke-width="1.45"/>
<line x1="508.75" y1="264.33" x2="508.75" y2="285.30" stroke="#000" stroke-width="1.5"/>
<line x1="504.69" y1="264.33" x2="512.81" y2="264.33" stroke="#000" stroke-width="1.45"/>
<line x1="503.80" y1="285.30" x2="513.70" y2="285.30" stroke="#000" stroke-width="1.45"/>
<line x1="463.40" y1="326.80" x2="467.20" y2="326.80" stroke="#000" stroke-width="1.5"/>
<text x="459.30" y="328.60" font-family="Liberation Serif" font-size="10.4" text-anchor="end" fill="#000" font-weight="bold">0</text>
<line x1="463.40" y1="304.00" x2="467.20" y2="304.00" stroke="#000" stroke-width="1.5"/>
<text x="459.30" y="305.80" font-family="Liberation Serif" font-size="10.4" text-anchor="end" fill="#000" font-weight="bold">5</text>
<line x1="463.40" y1="281.20" x2="467.20" y2="281.20" stroke="#000" stroke-width="1.5"/>
<text x="459.30" y="283.00" font-family="Liberation Serif" font-size="10.4" text-anchor="end" fill="#000" font-weight="bold">10</text>
<line x1="463.40" y1="258.40" x2="467.20" y2="258.40" stroke="#000" stroke-width="1.5"/>
<text x="459.30" y="260.20" font-family="Liberation Serif" font-size="10.4" text-anchor="end" fill="#000" font-weight="bold">15</text>
<line x1="463.40" y1="235.60" x2="467.20" y2="235.60" stroke="#000" stroke-width="1.5"/>
<text x="459.30" y="237.40" font-family="Liberation Serif" font-size="10.4" text-anchor="end" fill="#000" font-weight="bold">20</text>
<line x1="463.40" y1="212.80" x2="467.20" y2="212.80" stroke="#000" stroke-width="1.5"/>
<text x="459.30" y="214.60" font-family="Liberation Serif" font-size="10.4" text-anchor="end" fill="#000" font-weight="bold">25</text>
<line x1="463.40" y1="190.00" x2="467.20" y2="190.00" stroke="#000" stroke-width="1.5"/>
<text x="459.30" y="191.80" font-family="Liberation Serif" font-size="10.4" text-anchor="end" fill="#000" font-weight="bold">30</text>
<text x="472.60" y="339.53" font-family="Liberation Sans" font-size="7.3" text-anchor="middle" fill="#111" font-weight="bold">NIS</text>
<text x="485.60" y="339.53" font-family="Liberation Sans" font-size="7.3" text-anchor="middle" fill="#111" font-weight="bold">E1</text>
<text x="496.80" y="339.53" font-family="Liberation Sans" font-size="7.3" text-anchor="middle" fill="#111" font-weight="bold">E2</text>
<text x="508.70" y="339.53" font-family="Liberation Sans" font-size="7.3" text-anchor="middle" fill="#111" font-weight="bold">E3</text>
<g transform="translate(496.70,346.30)" stroke="#e0283a" stroke-width="1.3" stroke-linecap="round"><line x1="0" y1="-2.4" x2="0" y2="2.4"/><line x1="-2.1" y1="-1.2" x2="2.1" y2="1.2"/><line x1="-2.1" y1="1.2" x2="2.1" y2="-1.2"/></g>
<rect x="285.40" y="498.01" width="9.10" height="3.19" fill="#2cbf2c" stroke="#000" stroke-width="1.45"/>
<rect x="294.50" y="498.01" width="9.10" height="3.19" fill="#3f6cef" stroke="#000" stroke-width="1.45"/>
<rect x="309.90" y="489.62" width="9.10" height="11.58" fill="#2cbf2c" stroke="#000" stroke-width="1.45"/>
<line x1="314.45" y1="481.42" x2="314.45" y2="496.73" stroke="#000" stroke-width="1.5"/>
<line x1="310.72" y1="481.42" x2="318.18" y2="481.42" stroke="#000" stroke-width="1.45"/>
<line x1="309.90" y1="496.73" x2="319.00" y2="496.73" stroke="#000" stroke-width="1.45"/>
<rect x="319.00" y="470.26" width="9.10" height="30.94" fill="#3f6cef" stroke="#000" stroke-width="1.45"/>
<line x1="323.55" y1="460.69" x2="323.55" y2="480.15" stroke="#000" stroke-width="1.5"/>
<line x1="319.82" y1="460.69" x2="327.28" y2="460.69" stroke="#000" stroke-width="1.45"/>
<line x1="319.00" y1="480.15" x2="328.10" y2="480.15" stroke="#000" stroke-width="1.45"/>
<rect x="335.20" y="493.42" width="9.10" height="7.78" fill="#2cbf2c" stroke="#000" stroke-width="1.45"/>
<line x1="339.75" y1="488.76" x2="339.75" y2="498.01" stroke="#000" stroke-width="1.5"/>
<line x1="336.02" y1="488.76" x2="343.48" y2="488.76" stroke="#000" stroke-width="1.45"/>
<line x1="335.20" y1="498.01" x2="344.30" y2="498.01" stroke="#000" stroke-width="1.45"/>
<rect x="344.30" y="474.72" width="9.10" height="26.48" fill="#3f6cef" stroke="#000" stroke-width="1.45"/>
<line x1="348.85" y1="466.43" x2="348.85" y2="482.38" stroke="#000" stroke-width="1.5"/>
<line x1="345.12" y1="466.43" x2="352.58" y2="466.43" stroke="#000" stroke-width="1.45"/>
<line x1="344.30" y1="482.38" x2="353.40" y2="482.38" stroke="#000" stroke-width="1.45"/>
<rect x="361.00" y="477.27" width="9.10" height="23.93" fill="#2cbf2c" stroke="#000" stroke-width="1.45"/>
<line x1="365.55" y1="471.85" x2="365.55" y2="482.38" stroke="#000" stroke-width="1.5"/>
<line x1="361.82" y1="471.85" x2="369.28" y2="471.85" stroke="#000" stroke-width="1.45"/>
<line x1="361.00" y1="482.38" x2="370.10" y2="482.38" stroke="#000" stroke-width="1.45"/>
<rect x="370.10" y="462.92" width="9.10" height="38.28" fill="#3f6cef" stroke="#000" stroke-width="1.45"/>
<line x1="374.65" y1="455.58" x2="374.65" y2="470.26" stroke="#000" stroke-width="1.5"/>
<line x1="370.92" y1="455.58" x2="378.38" y2="455.58" stroke="#000" stroke-width="1.45"/>
<line x1="370.10" y1="470.26" x2="379.20" y2="470.26" stroke="#000" stroke-width="1.45"/>
<rect x="387.60" y="490.99" width="9.10" height="10.21" fill="#2cbf2c" stroke="#000" stroke-width="1.45"/>
<line x1="392.15" y1="486.53" x2="392.15" y2="495.46" stroke="#000" stroke-width="1.5"/>
<line x1="388.42" y1="486.53" x2="395.88" y2="486.53" stroke="#000" stroke-width="1.45"/>
<line x1="387.60" y1="495.46" x2="396.70" y2="495.46" stroke="#000" stroke-width="1.45"/>
<rect x="396.70" y="400.71" width="9.10" height="100.49" fill="#3f6cef" stroke="#000" stroke-width="1.45"/>
<line x1="401.25" y1="387.95" x2="401.25" y2="415.07" stroke="#000" stroke-width="1.5"/>
<line x1="397.52" y1="387.95" x2="404.98" y2="387.95" stroke="#000" stroke-width="1.45"/>
<line x1="396.70" y1="415.07" x2="405.80" y2="415.07" stroke="#000" stroke-width="1.45"/>
<rect x="413.30" y="493.86" width="9.10" height="7.34" fill="#2cbf2c" stroke="#000" stroke-width="1.45"/>
<line x1="417.85" y1="490.99" x2="417.85" y2="496.73" stroke="#000" stroke-width="1.5"/>
<line x1="414.12" y1="490.99" x2="421.58" y2="490.99" stroke="#000" stroke-width="1.45"/>
<line x1="413.30" y1="496.73" x2="422.40" y2="496.73" stroke="#000" stroke-width="1.45"/>
<rect x="422.40" y="465.15" width="9.10" height="36.05" fill="#3f6cef" stroke="#000" stroke-width="1.45"/>
<line x1="426.95" y1="458.45" x2="426.95" y2="472.17" stroke="#000" stroke-width="1.5"/>
<line x1="423.22" y1="458.45" x2="430.68" y2="458.45" stroke="#000" stroke-width="1.45"/>
<line x1="422.40" y1="472.17" x2="431.50" y2="472.17" stroke="#000" stroke-width="1.45"/>
<rect x="439.20" y="474.72" width="9.10" height="26.48" fill="#2cbf2c" stroke="#000" stroke-width="1.45"/>
<line x1="443.75" y1="466.75" x2="443.75" y2="482.38" stroke="#000" stroke-width="1.5"/>
<line x1="440.02" y1="466.75" x2="447.48" y2="466.75" stroke="#000" stroke-width="1.45"/>
<line x1="439.20" y1="482.38" x2="448.30" y2="482.38" stroke="#000" stroke-width="1.45"/>
<rect x="448.30" y="452.71" width="9.10" height="48.49" fill="#3f6cef" stroke="#000" stroke-width="1.45"/>
<line x1="452.85" y1="447.61" x2="452.85" y2="457.82" stroke="#000" stroke-width="1.5"/>
<line x1="449.12" y1="447.61" x2="456.58" y2="447.61" stroke="#000" stroke-width="1.45"/>
<line x1="448.30" y1="457.82" x2="457.40" y2="457.82" stroke="#000" stroke-width="1.45"/>
<line x1="284.30" y1="373.00" x2="284.30" y2="502.00" stroke="#000" stroke-width="1.7"/>
<line x1="282.80" y1="501.20" x2="458.00" y2="501.20" stroke="#000" stroke-width="1.7"/>
<line x1="280.50" y1="501.20" x2="284.30" y2="501.20" stroke="#000" stroke-width="1.5"/>
<text x="276.40" y="503.00" font-family="Liberation Serif" font-size="10.4" text-anchor="end" fill="#000" font-weight="bold">0</text>
<line x1="280.50" y1="485.25" x2="284.30" y2="485.25" stroke="#000" stroke-width="1.5"/>
<text x="276.40" y="487.05" font-family="Liberation Serif" font-size="10.4" text-anchor="end" fill="#000" font-weight="bold">5</text>
<line x1="280.50" y1="469.30" x2="284.30" y2="469.30" stroke="#000" stroke-width="1.5"/>
<text x="276.40" y="471.10" font-family="Liberation Serif" font-size="10.4" text-anchor="end" fill="#000" font-weight="bold">10</text>
<line x1="280.50" y1="453.35" x2="284.30" y2="453.35" stroke="#000" stroke-width="1.5"/>
<text x="276.40" y="455.15" font-family="Liberation Serif" font-size="10.4" text-anchor="end" fill="#000" font-weight="bold">15</text>
<line x1="280.50" y1="437.40" x2="284.30" y2="437.40" stroke="#000" stroke-width="1.5"/>
<text x="276.40" y="439.20" font-family="Liberation Serif" font-size="10.4" text-anchor="end" fill="#000" font-weight="bold">20</text>
<line x1="280.50" y1="421.45" x2="284.30" y2="421.45" stroke="#000" stroke-width="1.5"/>
<text x="276.40" y="423.25" font-family="Liberation Serif" font-size="10.4" text-anchor="end" fill="#000" font-weight="bold">25</text>
<line x1="280.50" y1="405.50" x2="284.30" y2="405.50" stroke="#000" stroke-width="1.5"/>
<text x="276.40" y="407.30" font-family="Liberation Serif" font-size="10.4" text-anchor="end" fill="#000" font-weight="bold">30</text>
<line x1="280.50" y1="389.55" x2="284.30" y2="389.55" stroke="#000" stroke-width="1.5"/>
<text x="276.40" y="391.35" font-family="Liberation Serif" font-size="10.4" text-anchor="end" fill="#000" font-weight="bold">35</text>
<line x1="280.50" y1="373.60" x2="284.30" y2="373.60" stroke="#000" stroke-width="1.5"/>
<text x="276.40" y="375.40" font-family="Liberation Serif" font-size="10.4" text-anchor="end" fill="#000" font-weight="bold">40</text>
<text x="262.08" y="443.00" font-family="Liberation Sans" font-size="9.4" text-anchor="middle" fill="#000" font-weight="bold" transform="rotate(-90 262.08 443.00)">Relative enrichment</text>
<text x="291.50" y="511.43" font-family="Liberation Sans" font-size="7.3" text-anchor="middle" fill="#111" font-weight="bold">NIS</text>
<text x="320.60" y="511.43" font-family="Liberation Sans" font-size="7.3" text-anchor="middle" fill="#111" font-weight="bold">E1</text>
<text x="345.50" y="511.43" font-family="Liberation Sans" font-size="7.3" text-anchor="middle" fill="#111" font-weight="bold">E2</text>
<text x="370.00" y="511.43" font-family="Liberation Sans" font-size="7.3" text-anchor="middle" fill="#111" font-weight="bold">E3</text>
<text x="396.30" y="511.43" font-family="Liberation Sans" font-size="7.3" text-anchor="middle" fill="#111" font-weight="bold">P</text>
<text x="423.10" y="511.43" font-family="Liberation Sans" font-size="7.3" text-anchor="middle" fill="#111" font-weight="bold">E4</text>
<text x="448.40" y="511.43" font-family="Liberation Sans" font-size="7.3" text-anchor="middle" fill="#111" font-weight="bold">E5</text>
<g transform="translate(320.60,519.80)" stroke="#e0283a" stroke-width="1.3" stroke-linecap="round"><line x1="0" y1="-2.4" x2="0" y2="2.4"/><line x1="-2.1" y1="-1.2" x2="2.1" y2="1.2"/><line x1="-2.1" y1="1.2" x2="2.1" y2="-1.2"/></g>
<g transform="translate(370.00,519.80)" stroke="#e0283a" stroke-width="1.3" stroke-linecap="round"><line x1="0" y1="-2.4" x2="0" y2="2.4"/><line x1="-2.1" y1="-1.2" x2="2.1" y2="1.2"/><line x1="-2.1" y1="1.2" x2="2.1" y2="-1.2"/></g>
<g transform="translate(396.30,519.80)" stroke="#e0283a" stroke-width="1.3" stroke-linecap="round"><line x1="0" y1="-2.4" x2="0" y2="2.4"/><line x1="-2.1" y1="-1.2" x2="2.1" y2="1.2"/><line x1="-2.1" y1="1.2" x2="2.1" y2="-1.2"/></g>
<line x1="477.00" y1="378.00" x2="477.00" y2="501.20" stroke="#000" stroke-width="1.7"/>
<line x1="475.50" y1="500.40" x2="517.00" y2="500.40" stroke="#000" stroke-width="1.7"/>
<rect x="479.60" y="494.30" width="14.60" height="6.10" fill="#c8c8c8" stroke="#000" stroke-width="1.45"/>
<rect x="499.90" y="413.17" width="12.80" height="87.23" fill="#c8c8c8" stroke="#000" stroke-width="1.45"/>
<line x1="506.30" y1="399.14" x2="506.30" y2="429.64" stroke="#000" stroke-width="1.5"/>
<line x1="501.05" y1="399.14" x2="511.55" y2="399.14" stroke="#000" stroke-width="1.45"/>
<line x1="499.90" y1="429.64" x2="512.70" y2="429.64" stroke="#000" stroke-width="1.45"/>
<line x1="473.20" y1="500.40" x2="477.00" y2="500.40" stroke="#000" stroke-width="1.5"/>
<text x="469.10" y="502.20" font-family="Liberation Serif" font-size="10.4" text-anchor="end" fill="#000" font-weight="bold">0</text>
<line x1="473.20" y1="469.90" x2="477.00" y2="469.90" stroke="#000" stroke-width="1.5"/>
<text x="469.10" y="471.70" font-family="Liberation Serif" font-size="10.4" text-anchor="end" fill="#000" font-weight="bold">5</text>
<line x1="473.20" y1="439.40" x2="477.00" y2="439.40" stroke="#000" stroke-width="1.5"/>
<text x="469.10" y="441.20" font-family="Liberation Serif" font-size="10.4" text-anchor="end" fill="#000" font-weight="bold">10</text>
<line x1="473.20" y1="408.90" x2="477.00" y2="408.90" stroke="#000" stroke-width="1.5"/>
<text x="469.10" y="410.70" font-family="Liberation Serif" font-size="10.4" text-anchor="end" fill="#000" font-weight="bold">15</text>
<line x1="473.20" y1="378.40" x2="477.00" y2="378.40" stroke="#000" stroke-width="1.5"/>
<text x="469.10" y="380.20" font-family="Liberation Serif" font-size="10.4" text-anchor="end" fill="#000" font-weight="bold">20</text>
<text x="485.60" y="511.43" font-family="Liberation Sans" font-size="7.3" text-anchor="middle" fill="#111" font-weight="bold">NIS</text>
<text x="506.30" y="511.43" font-family="Liberation Sans" font-size="7.3" text-anchor="middle" fill="#111" font-weight="bold">E3</text>
<g transform="translate(506.10,519.80)" stroke="#e0283a" stroke-width="1.3" stroke-linecap="round"><line x1="0" y1="-2.4" x2="0" y2="2.4"/><line x1="-2.1" y1="-1.2" x2="2.1" y2="1.2"/><line x1="-2.1" y1="1.2" x2="2.1" y2="-1.2"/></g>
<rect x="286.00" y="655.56" width="10.30" height="6.24" fill="#2cbf2c" stroke="#000" stroke-width="1.45"/>
<rect x="296.30" y="655.56" width="10.00" height="6.24" fill="#3f6cef" stroke="#000" stroke-width="1.45"/>
<rect x="316.30" y="648.71" width="10.30" height="13.09" fill="#2cbf2c" stroke="#000" stroke-width="1.45"/>
<line x1="321.45" y1="639.35" x2="321.45" y2="657.44" stroke="#000" stroke-width="1.5"/>
<line x1="317.23" y1="639.35" x2="325.67" y2="639.35" stroke="#000" stroke-width="1.45"/>
<line x1="316.30" y1="657.44" x2="326.60" y2="657.44" stroke="#000" stroke-width="1.45"/>
<rect x="326.60" y="568.90" width="10.00" height="92.90" fill="#3f6cef" stroke="#000" stroke-width="1.45"/>
<line x1="331.60" y1="547.70" x2="331.60" y2="589.47" stroke="#000" stroke-width="1.5"/>
<line x1="327.50" y1="547.70" x2="335.70" y2="547.70" stroke="#000" stroke-width="1.45"/>
<line x1="326.60" y1="589.47" x2="336.60" y2="589.47" stroke="#000" stroke-width="1.45"/>
<rect x="346.30" y="653.69" width="10.30" height="8.11" fill="#2cbf2c" stroke="#000" stroke-width="1.45"/>
<line x1="351.45" y1="646.21" x2="351.45" y2="660.55" stroke="#000" stroke-width="1.5"/>
<line x1="347.23" y1="646.21" x2="355.67" y2="646.21" stroke="#000" stroke-width="1.45"/>
<line x1="346.30" y1="660.55" x2="356.60" y2="660.55" stroke="#000" stroke-width="1.45"/>
<rect x="356.60" y="582.62" width="10.00" height="79.18" fill="#3f6cef" stroke="#000" stroke-width="1.45"/>
<line x1="361.60" y1="567.03" x2="361.60" y2="598.20" stroke="#000" stroke-width="1.5"/>
<line x1="357.50" y1="567.03" x2="365.70" y2="567.03" stroke="#000" stroke-width="1.45"/>
<line x1="356.60" y1="598.20" x2="366.60" y2="598.20" stroke="#000" stroke-width="1.45"/>
<rect x="377.40" y="623.14" width="10.30" height="38.66" fill="#2cbf2c" stroke="#000" stroke-width="1.45"/>
<line x1="382.55" y1="610.05" x2="382.55" y2="635.61" stroke="#000" stroke-width="1.5"/>
<line x1="378.33" y1="610.05" x2="386.77" y2="610.05" stroke="#000" stroke-width="1.45"/>
<line x1="377.40" y1="635.61" x2="387.70" y2="635.61" stroke="#000" stroke-width="1.45"/>
<rect x="387.70" y="630.00" width="10.00" height="31.80" fill="#3f6cef" stroke="#000" stroke-width="1.45"/>
<line x1="392.70" y1="614.41" x2="392.70" y2="646.21" stroke="#000" stroke-width="1.5"/>
<line x1="388.60" y1="614.41" x2="396.80" y2="614.41" stroke="#000" stroke-width="1.45"/>
<line x1="387.70" y1="646.21" x2="397.70" y2="646.21" stroke="#000" stroke-width="1.45"/>
<line x1="285.30" y1="536.60" x2="285.30" y2="662.60" stroke="#000" stroke-width="1.7"/>
<line x1="283.80" y1="661.80" x2="399.00" y2="661.80" stroke="#000" stroke-width="1.7"/>
<line x1="281.50" y1="661.80" x2="285.30" y2="661.80" stroke="#000" stroke-width="1.5"/>
<text x="277.40" y="663.60" font-family="Liberation Serif" font-size="10.4" text-anchor="end" fill="#000" font-weight="bold">0</text>
<line x1="281.50" y1="630.62" x2="285.30" y2="630.62" stroke="#000" stroke-width="1.5"/>
<text x="277.40" y="632.42" font-family="Liberation Serif" font-size="10.4" text-anchor="end" fill="#000" font-weight="bold">5</text>
<line x1="281.50" y1="599.45" x2="285.30" y2="599.45" stroke="#000" stroke-width="1.5"/>
<text x="277.40" y="601.25" font-family="Liberation Serif" font-size="10.4" text-anchor="end" fill="#000" font-weight="bold">10</text>
<line x1="281.50" y1="568.27" x2="285.30" y2="568.27" stroke="#000" stroke-width="1.5"/>
<text x="277.40" y="570.07" font-family="Liberation Serif" font-size="10.4" text-anchor="end" fill="#000" font-weight="bold">15</text>
<line x1="281.50" y1="537.10" x2="285.30" y2="537.10" stroke="#000" stroke-width="1.5"/>
<text x="277.40" y="538.90" font-family="Liberation Serif" font-size="10.4" text-anchor="end" fill="#000" font-weight="bold">20</text>
<text x="262.08" y="603.60" font-family="Liberation Sans" font-size="9.4" text-anchor="middle" fill="#000" font-weight="bold" transform="rotate(-90 262.08 603.60)">Relative enrichment</text>
<text x="295.30" y="670.93" font-family="Liberation Sans" font-size="7.3" text-anchor="middle" fill="#111" font-weight="bold">NIS</text>
<text x="325.70" y="670.93" font-family="Liberation Sans" font-size="7.3" text-anchor="middle" fill="#111" font-weight="bold">E1</text>
<text x="356.70" y="670.93" font-family="Liberation Sans" font-size="7.3" text-anchor="middle" fill="#111" font-weight="bold">E2</text>
<text x="387.80" y="670.93" font-family="Liberation Sans" font-size="7.3" text-anchor="middle" fill="#111" font-weight="bold">P</text>
<g transform="translate(325.70,678.30)" stroke="#e0283a" stroke-width="1.3" stroke-linecap="round"><line x1="0" y1="-2.4" x2="0" y2="2.4"/><line x1="-2.1" y1="-1.2" x2="2.1" y2="1.2"/><line x1="-2.1" y1="1.2" x2="2.1" y2="-1.2"/></g>
<g transform="translate(356.70,678.30)" stroke="#e0283a" stroke-width="1.3" stroke-linecap="round"><line x1="0" y1="-2.4" x2="0" y2="2.4"/><line x1="-2.1" y1="-1.2" x2="2.1" y2="1.2"/><line x1="-2.1" y1="1.2" x2="2.1" y2="-1.2"/></g>
<line x1="424.60" y1="539.20" x2="424.60" y2="661.80" stroke="#000" stroke-width="1.7"/>
<line x1="423.10" y1="661.00" x2="462.50" y2="661.00" stroke="#000" stroke-width="1.7"/>
<rect x="427.30" y="654.93" width="13.70" height="6.07" fill="#c8c8c8" stroke="#000" stroke-width="1.45"/>
<rect x="446.90" y="565.70" width="12.50" height="95.30" fill="#c8c8c8" stroke="#000" stroke-width="1.45"/>
<line x1="453.15" y1="547.49" x2="453.15" y2="583.91" stroke="#000" stroke-width="1.5"/>
<line x1="448.02" y1="547.49" x2="458.27" y2="547.49" stroke="#000" stroke-width="1.45"/>
<line x1="446.90" y1="583.91" x2="459.40" y2="583.91" stroke="#000" stroke-width="1.45"/>
<line x1="420.80" y1="661.00" x2="424.60" y2="661.00" stroke="#000" stroke-width="1.5"/>
<text x="416.70" y="662.80" font-family="Liberation Serif" font-size="10.4" text-anchor="end" fill="#000" font-weight="bold">0</text>
<line x1="420.80" y1="630.65" x2="424.60" y2="630.65" stroke="#000" stroke-width="1.5"/>
<text x="416.70" y="632.45" font-family="Liberation Serif" font-size="10.4" text-anchor="end" fill="#000" font-weight="bold">5</text>
<line x1="420.80" y1="600.30" x2="424.60" y2="600.30" stroke="#000" stroke-width="1.5"/>
<text x="416.70" y="602.10" font-family="Liberation Serif" font-size="10.4" text-anchor="end" fill="#000" font-weight="bold">10</text>
<line x1="420.80" y1="569.95" x2="424.60" y2="569.95" stroke="#000" stroke-width="1.5"/>
<text x="416.70" y="571.75" font-family="Liberation Serif" font-size="10.4" text-anchor="end" fill="#000" font-weight="bold">15</text>
<line x1="420.80" y1="539.60" x2="424.60" y2="539.60" stroke="#000" stroke-width="1.5"/>
<text x="416.70" y="541.40" font-family="Liberation Serif" font-size="10.4" text-anchor="end" fill="#000" font-weight="bold">20</text>
<text x="434.20" y="670.93" font-family="Liberation Sans" font-size="7.3" text-anchor="middle" fill="#111" font-weight="bold">NIS</text>
<text x="453.40" y="670.93" font-family="Liberation Sans" font-size="7.3" text-anchor="middle" fill="#111" font-weight="bold">E1</text>
<g transform="translate(453.50,678.30)" stroke="#e0283a" stroke-width="1.3" stroke-linecap="round"><line x1="0" y1="-2.4" x2="0" y2="2.4"/><line x1="-2.1" y1="-1.2" x2="2.1" y2="1.2"/><line x1="-2.1" y1="1.2" x2="2.1" y2="-1.2"/></g>
</svg>
</body></html>
